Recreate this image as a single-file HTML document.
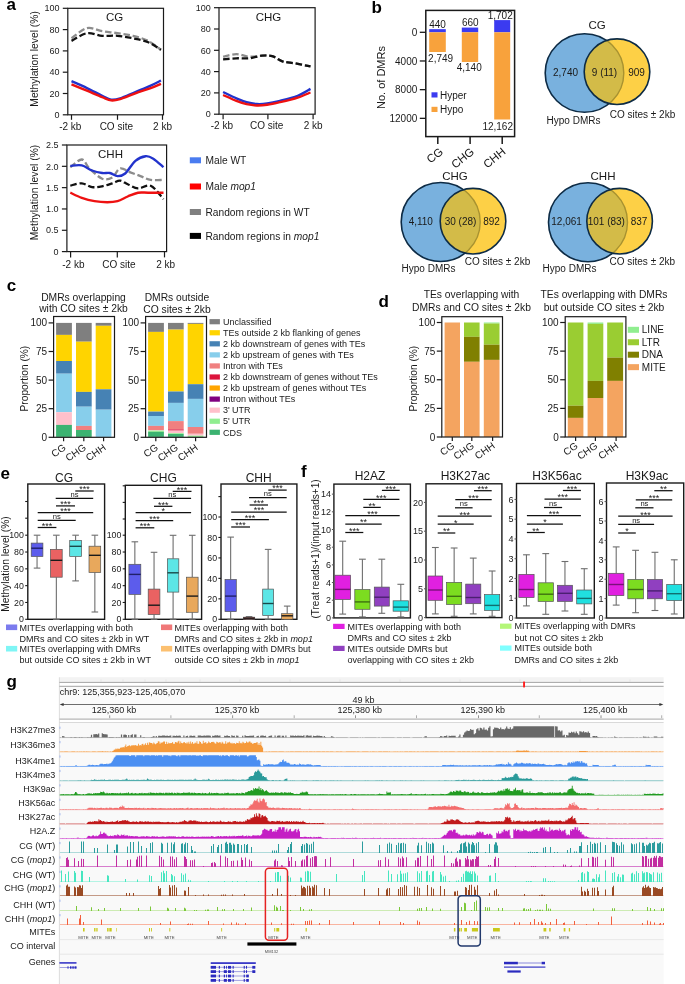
<!DOCTYPE html>
<html><head><meta charset="utf-8"><style>
html,body{margin:0;padding:0;background:#fff;}
body{width:685px;height:984px;overflow:hidden;}
svg{display:block;will-change:transform;font-family:"Liberation Sans",sans-serif;fill:#1a1a1a;}

</style></head><body>
<svg width="685" height="984" viewBox="0 0 685 984">
<rect x="0" y="0" width="685" height="984" fill="#fff"/>
<text x="6.5" y="9.7" font-size="17" font-weight="bold" fill="#000">a</text>
<rect x="67.8" y="8.3" width="95.7" height="106.5" fill="none" stroke="#1a1a1a" stroke-width="1.2"/>
<line x1="62.8" y1="114.8" x2="67.8" y2="114.8" stroke="#1a1a1a" stroke-width="1.2"/>
<text x="59.5" y="117.99" font-size="9" text-anchor="end">0</text>
<line x1="62.8" y1="93.5" x2="67.8" y2="93.5" stroke="#1a1a1a" stroke-width="1.2"/>
<text x="59.5" y="96.69" font-size="9" text-anchor="end">20</text>
<line x1="62.8" y1="72.2" x2="67.8" y2="72.2" stroke="#1a1a1a" stroke-width="1.2"/>
<text x="59.5" y="75.39" font-size="9" text-anchor="end">40</text>
<line x1="62.8" y1="50.9" x2="67.8" y2="50.9" stroke="#1a1a1a" stroke-width="1.2"/>
<text x="59.5" y="54.09" font-size="9" text-anchor="end">60</text>
<line x1="62.8" y1="29.6" x2="67.8" y2="29.6" stroke="#1a1a1a" stroke-width="1.2"/>
<text x="59.5" y="32.79" font-size="9" text-anchor="end">80</text>
<line x1="62.8" y1="8.3" x2="67.8" y2="8.3" stroke="#1a1a1a" stroke-width="1.2"/>
<text x="59.5" y="11.49" font-size="9" text-anchor="end">100</text>
<line x1="71.5" y1="114.8" x2="71.5" y2="119.8" stroke="#1a1a1a" stroke-width="1.2"/>
<line x1="117.5" y1="114.8" x2="117.5" y2="119.8" stroke="#1a1a1a" stroke-width="1.2"/>
<line x1="162.5" y1="114.8" x2="162.5" y2="119.8" stroke="#1a1a1a" stroke-width="1.2"/>
<text x="70.3" y="130.05" font-size="10" text-anchor="middle">-2 kb</text>
<text x="116.3" y="130.05" font-size="10" text-anchor="middle">CO site</text>
<text x="162.5" y="130.05" font-size="10" text-anchor="middle">2 kb</text>
<text x="114.5" y="20.58" font-size="11.5" text-anchor="middle">CG</text>
<path d="M71.5 38.3 C74.07 36.6 81.78 29.28 86.9 28.1 C92.02 26.92 97.1 30.35 102.2 31.2 C107.3 32.05 112.38 32.43 117.5 33.2 C122.62 33.97 127.78 34.52 132.9 35.8 C138.02 37.08 143.52 38.57 148.2 40.9 C152.88 43.23 158.87 48.32 161 49.8" fill="none" stroke="#8c8c8c" stroke-width="2.3" stroke-linecap="butt" stroke-linejoin="round" stroke-dasharray="6.5 2.8"/>
<path d="M71.5 40.9 C74.07 39.62 81.78 34.05 86.9 33.2 C92.02 32.35 97.1 35.37 102.2 35.8 C107.3 36.23 112.38 35.38 117.5 35.8 C122.62 36.22 127.78 37.23 132.9 38.3 C138.02 39.37 143.52 40.28 148.2 42.2 C152.88 44.12 158.87 48.53 161 49.8" fill="none" stroke="#111" stroke-width="2.3" stroke-linecap="butt" stroke-linejoin="round" stroke-dasharray="6.5 2.8"/>
<path d="M71.5 81.2 C74.07 82.35 81.78 85.67 86.9 88.1 C92.02 90.53 98.17 93.88 102.2 95.8 C106.23 97.72 108.12 99.17 111.1 99.6 C114.08 100.03 116.05 99.67 120.1 98.4 C124.15 97.13 130.3 94.13 135.4 92 C140.5 89.87 146.43 87.52 150.7 85.6 C154.97 83.68 159.28 81.35 161 80.5" fill="none" stroke="#2233cc" stroke-width="2.4" stroke-linecap="butt" stroke-linejoin="round"/>
<path d="M71.5 84.3 C74.07 85.37 81.78 88.57 86.9 90.7 C92.02 92.83 98.17 95.48 102.2 97.1 C106.23 98.72 108.12 100.07 111.1 100.4 C114.08 100.73 116.05 100.28 120.1 99.1 C124.15 97.92 130.3 95.13 135.4 93.3 C140.5 91.47 146.43 89.68 150.7 88.1 C154.97 86.52 159.28 84.52 161 83.8" fill="none" stroke="#ee1111" stroke-width="2.4" stroke-linecap="butt" stroke-linejoin="round"/>
<rect x="219" y="7.7" width="96.1" height="106.5" fill="none" stroke="#1a1a1a" stroke-width="1.2"/>
<line x1="214" y1="114.2" x2="219" y2="114.2" stroke="#1a1a1a" stroke-width="1.2"/>
<text x="210.7" y="117.39" font-size="9" text-anchor="end">0</text>
<line x1="214" y1="92.9" x2="219" y2="92.9" stroke="#1a1a1a" stroke-width="1.2"/>
<text x="210.7" y="96.09" font-size="9" text-anchor="end">20</text>
<line x1="214" y1="71.6" x2="219" y2="71.6" stroke="#1a1a1a" stroke-width="1.2"/>
<text x="210.7" y="74.79" font-size="9" text-anchor="end">40</text>
<line x1="214" y1="50.3" x2="219" y2="50.3" stroke="#1a1a1a" stroke-width="1.2"/>
<text x="210.7" y="53.5" font-size="9" text-anchor="end">60</text>
<line x1="214" y1="29" x2="219" y2="29" stroke="#1a1a1a" stroke-width="1.2"/>
<text x="210.7" y="32.2" font-size="9" text-anchor="end">80</text>
<line x1="214" y1="7.7" x2="219" y2="7.7" stroke="#1a1a1a" stroke-width="1.2"/>
<text x="210.7" y="10.9" font-size="9" text-anchor="end">100</text>
<line x1="223.1" y1="114.2" x2="223.1" y2="119.2" stroke="#1a1a1a" stroke-width="1.2"/>
<line x1="267.9" y1="114.2" x2="267.9" y2="119.2" stroke="#1a1a1a" stroke-width="1.2"/>
<line x1="313.1" y1="114.2" x2="313.1" y2="119.2" stroke="#1a1a1a" stroke-width="1.2"/>
<text x="221.9" y="129.45" font-size="10" text-anchor="middle">-2 kb</text>
<text x="266.7" y="129.45" font-size="10" text-anchor="middle">CO site</text>
<text x="313.1" y="129.45" font-size="10" text-anchor="middle">2 kb</text>
<text x="268.5" y="20.58" font-size="11.5" text-anchor="middle">CHG</text>
<path d="M223.1 56.7 C225.32 56.28 232.05 54.2 236.4 54.2 C240.75 54.2 244.93 56.45 249.2 56.7 C253.47 56.95 258.17 55.78 262 55.7 C265.83 55.62 268.8 55.27 272.2 56.2 C275.6 57.13 278.57 60.1 282.4 61.3 C286.23 62.5 290.52 62.55 295.2 63.4 C299.88 64.25 307.95 65.9 310.5 66.4" fill="none" stroke="#8c8c8c" stroke-width="2.3" stroke-linecap="butt" stroke-linejoin="round" stroke-dasharray="6.5 2.8"/>
<path d="M223.1 59.3 C225.32 59.13 232.05 58.47 236.4 58.3 C240.75 58.13 244.93 58.73 249.2 58.3 C253.47 57.87 258.17 56.05 262 55.7 C265.83 55.35 268.8 55.27 272.2 56.2 C275.6 57.13 278.57 60.1 282.4 61.3 C286.23 62.5 290.52 62.55 295.2 63.4 C299.88 64.25 307.95 65.9 310.5 66.4" fill="none" stroke="#111" stroke-width="2.3" stroke-linecap="butt" stroke-linejoin="round" stroke-dasharray="6.5 2.8"/>
<path d="M223.1 92 C225.32 93.07 232.48 96.7 236.4 98.4 C240.32 100.1 243.18 101.27 246.6 102.2 C250.02 103.13 253.48 103.78 256.9 104 C260.32 104.22 263.27 104.02 267.1 103.5 C270.93 102.98 274.8 102.18 279.9 100.9 C285 99.62 292.6 97.8 297.7 95.8 C302.8 93.8 308.37 90.05 310.5 88.9" fill="none" stroke="#2233cc" stroke-width="2.4" stroke-linecap="butt" stroke-linejoin="round"/>
<path d="M223.1 95 C225.32 95.98 232.48 99.37 236.4 100.9 C240.32 102.43 243.18 103.43 246.6 104.2 C250.02 104.97 253.48 105.4 256.9 105.5 C260.32 105.6 263.27 105.35 267.1 104.8 C270.93 104.25 274.8 103.4 279.9 102.2 C285 101 292.6 99.22 297.7 97.6 C302.8 95.98 308.37 93.35 310.5 92.5" fill="none" stroke="#ee1111" stroke-width="2.4" stroke-linecap="butt" stroke-linejoin="round"/>
<rect x="66.9" y="145" width="99.7" height="106.6" fill="none" stroke="#1a1a1a" stroke-width="1.2"/>
<line x1="61.9" y1="251.6" x2="66.9" y2="251.6" stroke="#1a1a1a" stroke-width="1.2"/>
<text x="58.6" y="254.79" font-size="9" text-anchor="end">0</text>
<line x1="61.9" y1="230.28" x2="66.9" y2="230.28" stroke="#1a1a1a" stroke-width="1.2"/>
<text x="58.6" y="233.47" font-size="9" text-anchor="end">0.5</text>
<line x1="61.9" y1="208.96" x2="66.9" y2="208.96" stroke="#1a1a1a" stroke-width="1.2"/>
<text x="58.6" y="212.15" font-size="9" text-anchor="end">1.0</text>
<line x1="61.9" y1="187.64" x2="66.9" y2="187.64" stroke="#1a1a1a" stroke-width="1.2"/>
<text x="58.6" y="190.83" font-size="9" text-anchor="end">1.5</text>
<line x1="61.9" y1="166.32" x2="66.9" y2="166.32" stroke="#1a1a1a" stroke-width="1.2"/>
<text x="58.6" y="169.51" font-size="9" text-anchor="end">2.0</text>
<line x1="61.9" y1="145" x2="66.9" y2="145" stroke="#1a1a1a" stroke-width="1.2"/>
<text x="58.6" y="148.19" font-size="9" text-anchor="end">2.5</text>
<line x1="70.6" y1="251.6" x2="70.6" y2="257.4" stroke="#1a1a1a" stroke-width="1.2"/>
<line x1="117.3" y1="251.6" x2="117.3" y2="257.4" stroke="#1a1a1a" stroke-width="1.2"/>
<line x1="164.5" y1="251.6" x2="164.5" y2="257.4" stroke="#1a1a1a" stroke-width="1.2"/>
<text x="73.4" y="268.35" font-size="10" text-anchor="middle">-2 kb</text>
<text x="119" y="268.35" font-size="10" text-anchor="middle">CO site</text>
<text x="165.6" y="268.35" font-size="10" text-anchor="middle">2 kb</text>
<text x="110.5" y="157.98" font-size="11.5" text-anchor="middle">CHH</text>
<path d="M70.3 167.2 C72.22 165.92 78.62 159.3 81.8 159.5 C84.98 159.7 86 165.2 89.4 168.4 C92.8 171.6 98.37 177.2 102.2 178.7 C106.03 180.2 109.42 179.12 112.4 177.4 C115.38 175.68 117.12 169.25 120.1 168.4 C123.08 167.55 126.9 171.02 130.3 172.3 C133.7 173.58 137.1 174.83 140.5 176.1 C143.9 177.37 146.87 179.27 150.7 179.9 C154.53 180.53 161.37 179.9 163.5 179.9" fill="none" stroke="#8c8c8c" stroke-width="2.3" stroke-linecap="butt" stroke-linejoin="round" stroke-dasharray="6.5 2.8"/>
<path d="M70.3 185.6 C72.22 185.22 78.18 183.05 81.8 183.3 C85.42 183.55 88.6 186.6 92 187.1 C95.4 187.6 98.8 186.93 102.2 186.3 C105.6 185.67 109.42 184.23 112.4 183.3 C115.38 182.37 117.55 180.53 120.1 180.7 C122.65 180.87 124.72 183.02 127.7 184.3 C130.68 185.58 134.17 188.15 138 188.4 C141.83 188.65 146.45 184.02 150.7 185.8 C154.95 187.58 161.37 196.88 163.5 199.1" fill="none" stroke="#111" stroke-width="2.3" stroke-linecap="butt" stroke-linejoin="round" stroke-dasharray="6.5 2.8"/>
<path d="M70.3 165.9 C72.22 165.82 78.18 164.63 81.8 165.4 C85.42 166.17 88.6 169.23 92 170.5 C95.4 171.77 99.22 172.58 102.2 173 C105.18 173.42 107.35 172.48 109.9 173 C112.45 173.52 114.95 176.02 117.5 176.1 C120.05 176.18 122.22 176.05 125.2 173.5 C128.18 170.95 132 163.68 135.4 160.8 C138.8 157.92 142.62 156.55 145.6 156.2 C148.58 155.85 150.32 156.87 153.3 158.7 C156.28 160.53 161.8 165.78 163.5 167.2" fill="none" stroke="#2233cc" stroke-width="2.4" stroke-linecap="butt" stroke-linejoin="round"/>
<path d="M70.3 192.7 C72.22 193.55 77.77 196.4 81.8 197.8 C85.83 199.2 90.25 200.37 94.5 201.1 C98.75 201.83 103.47 202.2 107.3 202.2 C111.13 202.2 114.1 202.05 117.5 201.1 C120.9 200.15 124.28 197.9 127.7 196.5 C131.12 195.1 134.58 193.33 138 192.7 C141.42 192.07 143.95 192.7 148.2 192.7 C152.45 192.7 160.95 192.7 163.5 192.7" fill="none" stroke="#ee1111" stroke-width="2.4" stroke-linecap="butt" stroke-linejoin="round"/>
<text x="0" y="0" font-size="10.3" text-anchor="middle" transform="translate(38 58.9) rotate(-90)">Methylation level (%)</text>
<text x="0" y="0" font-size="10.3" text-anchor="middle" transform="translate(38 192.5) rotate(-90)">Methylation level (%)</text>
<rect x="189.8" y="157.3" width="11.2" height="6" fill="#4a7cf0"/>
<text x="205.5" y="163.92" font-size="10.2">Male WT</text>
<rect x="189.8" y="183.5" width="11.2" height="6" fill="#ff0000"/>
<text x="205.5" y="190.12" font-size="10.2">Male <tspan font-style="italic">mop1</tspan></text>
<rect x="189.8" y="209" width="11.2" height="6" fill="#808080"/>
<text x="205.5" y="215.62" font-size="10.2">Random regions in WT</text>
<rect x="189.8" y="232.9" width="11.2" height="6" fill="#000000"/>
<text x="205.5" y="239.52" font-size="10.2">Random regions in <tspan font-style="italic">mop1</tspan></text>
<text x="371.6" y="12.5" font-size="17" font-weight="bold" fill="#000">b</text>
<rect x="425.8" y="10.4" width="88.8" height="126.2" fill="none" stroke="#1a1a1a" stroke-width="1.5"/>
<line x1="419.8" y1="32.3" x2="425.8" y2="32.3" stroke="#1a1a1a" stroke-width="1.3"/>
<text x="417.3" y="35.85" font-size="10" text-anchor="end">0</text>
<line x1="419.8" y1="60.98" x2="425.8" y2="60.98" stroke="#1a1a1a" stroke-width="1.3"/>
<text x="417.3" y="64.53" font-size="10" text-anchor="end">4000</text>
<line x1="419.8" y1="89.66" x2="425.8" y2="89.66" stroke="#1a1a1a" stroke-width="1.3"/>
<text x="417.3" y="93.21" font-size="10" text-anchor="end">8000</text>
<line x1="419.8" y1="118.34" x2="425.8" y2="118.34" stroke="#1a1a1a" stroke-width="1.3"/>
<text x="417.3" y="121.89" font-size="10" text-anchor="end">12000</text>
<rect x="429.2" y="29.15" width="16.6" height="3.15" fill="#3b3bf0"/>
<rect x="429.2" y="32.3" width="16.6" height="19.71" fill="#f8a23c"/>
<line x1="437.8" y1="136.6" x2="437.8" y2="144.1" stroke="#1a1a1a" stroke-width="1.5"/>
<rect x="461.8" y="27.57" width="16.4" height="4.73" fill="#3b3bf0"/>
<rect x="461.8" y="32.3" width="16.4" height="29.68" fill="#f8a23c"/>
<line x1="470.1" y1="136.6" x2="470.1" y2="144.1" stroke="#1a1a1a" stroke-width="1.5"/>
<rect x="494.2" y="20.1" width="16" height="12.2" fill="#3b3bf0"/>
<rect x="494.2" y="32.3" width="16" height="87.2" fill="#f8a23c"/>
<line x1="502.2" y1="136.6" x2="502.2" y2="144.1" stroke="#1a1a1a" stroke-width="1.5"/>
<rect x="0" y="0" width="0" height="0" fill="none"/>
<text x="437.6" y="28.15" font-size="10" text-anchor="middle">440</text>
<text x="470.3" y="25.75" font-size="10" text-anchor="middle">660</text>
<text x="500.2" y="19.45" font-size="10" text-anchor="middle">1,702</text>
<text x="440.6" y="61.85" font-size="10" text-anchor="middle">2,749</text>
<text x="469.2" y="71.05" font-size="10" text-anchor="middle">4,140</text>
<text x="497.7" y="129.55" font-size="10" text-anchor="middle">12,162</text>
<rect x="431.5" y="92.3" width="6" height="5.2" fill="#3b3bf0"/>
<text x="440" y="98.75" font-size="10">Hyper</text>
<rect x="431.5" y="106.8" width="6" height="5.2" fill="#f8a23c"/>
<text x="440" y="113.15" font-size="10">Hypo</text>
<text x="0" y="0" font-size="11" text-anchor="middle" transform="translate(385 77.5) rotate(-90)">No. of DMRs</text>
<text x="0" y="0" font-size="11.5" text-anchor="end" transform="translate(444 153) rotate(-39)">CG</text>
<text x="0" y="0" font-size="11.5" text-anchor="end" transform="translate(475 153) rotate(-39)">CHG</text>
<text x="0" y="0" font-size="11.5" text-anchor="end" transform="translate(506.5 153) rotate(-39)">CHH</text>
<defs><clipPath id="c117"><circle cx="584.5" cy="73" r="39.3"/></clipPath></defs>
<defs><clipPath id="c117y"><circle cx="617" cy="71.7" r="32.8"/></clipPath></defs>
<circle cx="584.5" cy="73" r="39.3" fill="#79b1de" stroke="#0d2b45" stroke-width="1.6"/>
<circle cx="617" cy="71.7" r="32.8" fill="#fdd046"/>
<circle cx="617" cy="71.7" r="32.8" fill="#d3bb48" clip-path="url(#c117)"/>
<circle cx="584.5" cy="73" r="39.3" fill="none" stroke="#a89230" stroke-width="1.4" clip-path="url(#c117y)"/>
<circle cx="617" cy="71.7" r="32.8" fill="none" stroke="#0d2b45" stroke-width="1.6"/>
<text x="597" y="28.88" font-size="11.5" text-anchor="middle">CG</text>
<text x="565.5" y="76.05" font-size="10" text-anchor="middle">2,740</text>
<text x="604.5" y="76.05" font-size="10" text-anchor="middle">9 (11)</text>
<text x="636.5" y="76.05" font-size="10" text-anchor="middle">909</text>
<text x="573.5" y="123.85" font-size="10" text-anchor="middle">Hypo DMRs</text>
<text x="642.5" y="117.85" font-size="10" text-anchor="middle">CO sites ± 2kb</text>
<defs><clipPath id="c130"><circle cx="440.7" cy="222" r="39.5"/></clipPath></defs>
<defs><clipPath id="c130y"><circle cx="473" cy="221.2" r="32.8"/></clipPath></defs>
<circle cx="440.7" cy="222" r="39.5" fill="#79b1de" stroke="#0d2b45" stroke-width="1.6"/>
<circle cx="473" cy="221.2" r="32.8" fill="#fdd046"/>
<circle cx="473" cy="221.2" r="32.8" fill="#d3bb48" clip-path="url(#c130)"/>
<circle cx="440.7" cy="222" r="39.5" fill="none" stroke="#a89230" stroke-width="1.4" clip-path="url(#c130y)"/>
<circle cx="473" cy="221.2" r="32.8" fill="none" stroke="#0d2b45" stroke-width="1.6"/>
<text x="455" y="179.68" font-size="11.5" text-anchor="middle">CHG</text>
<text x="420.8" y="225.05" font-size="10" text-anchor="middle">4,110</text>
<text x="460.5" y="225.05" font-size="10" text-anchor="middle">30 (28)</text>
<text x="491.5" y="225.05" font-size="10" text-anchor="middle">892</text>
<text x="428.5" y="272.15" font-size="10" text-anchor="middle">Hypo DMRs</text>
<text x="497.5" y="265.25" font-size="10" text-anchor="middle">CO sites ± 2kb</text>
<defs><clipPath id="c143"><circle cx="588" cy="222.2" r="39.5"/></clipPath></defs>
<defs><clipPath id="c143y"><circle cx="619.6" cy="221.2" r="32.8"/></clipPath></defs>
<circle cx="588" cy="222.2" r="39.5" fill="#79b1de" stroke="#0d2b45" stroke-width="1.6"/>
<circle cx="619.6" cy="221.2" r="32.8" fill="#fdd046"/>
<circle cx="619.6" cy="221.2" r="32.8" fill="#d3bb48" clip-path="url(#c143)"/>
<circle cx="588" cy="222.2" r="39.5" fill="none" stroke="#a89230" stroke-width="1.4" clip-path="url(#c143y)"/>
<circle cx="619.6" cy="221.2" r="32.8" fill="none" stroke="#0d2b45" stroke-width="1.6"/>
<text x="603" y="180.08" font-size="11.5" text-anchor="middle">CHH</text>
<text x="566.6" y="225.25" font-size="10" text-anchor="middle">12,061</text>
<text x="606.3" y="225.25" font-size="10" text-anchor="middle">101 (83)</text>
<text x="639" y="225.25" font-size="10" text-anchor="middle">837</text>
<text x="569.5" y="272.15" font-size="10" text-anchor="middle">Hypo DMRs</text>
<text x="642.3" y="265.25" font-size="10" text-anchor="middle">CO sites ± 2kb</text>
<text x="6.8" y="291.3" font-size="17" font-weight="bold" fill="#000">c</text>
<rect x="56.1" y="322.9" width="15.8" height="12" fill="#7f7f7f"/>
<rect x="56.1" y="334.9" width="15.8" height="26.1" fill="#ffd400"/>
<rect x="56.1" y="361" width="15.8" height="12.7" fill="#4682b4"/>
<rect x="56.1" y="373.7" width="15.8" height="38.5" fill="#87ceeb"/>
<rect x="56.1" y="412.2" width="15.8" height="12.7" fill="#ffc0cb"/>
<rect x="56.1" y="424.9" width="15.8" height="12" fill="#3cb371"/>
<rect x="76" y="322.9" width="15.7" height="18.8" fill="#7f7f7f"/>
<rect x="76" y="341.7" width="15.7" height="50.2" fill="#ffd400"/>
<rect x="76" y="391.9" width="15.7" height="14.8" fill="#4682b4"/>
<rect x="76" y="406.7" width="15.7" height="19.2" fill="#87ceeb"/>
<rect x="76" y="425.9" width="15.7" height="4.1" fill="#f08080"/>
<rect x="76" y="430" width="15.7" height="6.9" fill="#3cb371"/>
<rect x="95.7" y="322.9" width="15.7" height="2.9" fill="#7f7f7f"/>
<rect x="95.7" y="325.8" width="15.7" height="63.5" fill="#ffd400"/>
<rect x="95.7" y="389.3" width="15.7" height="20.4" fill="#4682b4"/>
<rect x="95.7" y="409.7" width="15.7" height="27.2" fill="#87ceeb"/>
<rect x="53.6" y="316.5" width="60.9" height="120.8" fill="none" stroke="#1a1a1a" stroke-width="1.2"/>
<line x1="48.6" y1="437.3" x2="53.6" y2="437.3" stroke="#1a1a1a" stroke-width="1.2"/>
<text x="47.1" y="440.85" font-size="10" text-anchor="end">0</text>
<line x1="48.6" y1="408.7" x2="53.6" y2="408.7" stroke="#1a1a1a" stroke-width="1.2"/>
<text x="47.1" y="412.25" font-size="10" text-anchor="end">25</text>
<line x1="48.6" y1="380.1" x2="53.6" y2="380.1" stroke="#1a1a1a" stroke-width="1.2"/>
<text x="47.1" y="383.65" font-size="10" text-anchor="end">50</text>
<line x1="48.6" y1="351.5" x2="53.6" y2="351.5" stroke="#1a1a1a" stroke-width="1.2"/>
<text x="47.1" y="355.05" font-size="10" text-anchor="end">75</text>
<line x1="48.6" y1="322.9" x2="53.6" y2="322.9" stroke="#1a1a1a" stroke-width="1.2"/>
<text x="47.1" y="326.45" font-size="10" text-anchor="end">100</text>
<line x1="63.6" y1="437.3" x2="63.6" y2="441.3" stroke="#1a1a1a" stroke-width="1.2"/>
<text x="0" y="0" font-size="10" text-anchor="end" transform="translate(66.6 449.1) rotate(-35)">CG</text>
<line x1="83.8" y1="437.3" x2="83.8" y2="441.3" stroke="#1a1a1a" stroke-width="1.2"/>
<text x="0" y="0" font-size="10" text-anchor="end" transform="translate(86.8 449.1) rotate(-35)">CHG</text>
<line x1="103.6" y1="437.3" x2="103.6" y2="441.3" stroke="#1a1a1a" stroke-width="1.2"/>
<text x="0" y="0" font-size="10" text-anchor="end" transform="translate(106.6 449.1) rotate(-35)">CHH</text>
<text x="83.5" y="301.06" font-size="10.3" text-anchor="middle">DMRs overlapping</text>
<text x="83.5" y="312.46" font-size="10.3" text-anchor="middle">with CO sites ± 2kb</text>
<text x="0" y="0" font-size="10.2" text-anchor="middle" transform="translate(28.3 378.6) rotate(-90)">Proportion (%)</text>
<rect x="148.1" y="322.9" width="15.8" height="9" fill="#7f7f7f"/>
<rect x="148.1" y="331.9" width="15.8" height="79.7" fill="#ffd400"/>
<rect x="148.1" y="411.6" width="15.8" height="4.4" fill="#4682b4"/>
<rect x="148.1" y="416" width="15.8" height="9.9" fill="#87ceeb"/>
<rect x="148.1" y="425.9" width="15.8" height="4.1" fill="#f08080"/>
<rect x="148.1" y="430" width="15.8" height="0.6" fill="#ffc0cb"/>
<rect x="148.1" y="430.6" width="15.8" height="1.3" fill="#90ee90"/>
<rect x="148.1" y="431.9" width="15.8" height="5" fill="#3cb371"/>
<rect x="168" y="322.9" width="15.7" height="6.7" fill="#7f7f7f"/>
<rect x="168" y="329.6" width="15.7" height="61.9" fill="#ffd400"/>
<rect x="168" y="391.5" width="15.7" height="11.4" fill="#4682b4"/>
<rect x="168" y="402.9" width="15.7" height="18.2" fill="#87ceeb"/>
<rect x="168" y="421.1" width="15.7" height="8.3" fill="#f08080"/>
<rect x="168" y="429.4" width="15.7" height="1.2" fill="#dc143c"/>
<rect x="168" y="430.6" width="15.7" height="2.6" fill="#ffc0cb"/>
<rect x="168" y="433.2" width="15.7" height="0.8" fill="#90ee90"/>
<rect x="168" y="434" width="15.7" height="2.9" fill="#3cb371"/>
<rect x="187.7" y="322.9" width="15.7" height="1" fill="#7f7f7f"/>
<rect x="187.7" y="323.9" width="15.7" height="60.3" fill="#ffd400"/>
<rect x="187.7" y="384.2" width="15.7" height="14.7" fill="#4682b4"/>
<rect x="187.7" y="398.9" width="15.7" height="28.1" fill="#87ceeb"/>
<rect x="187.7" y="427" width="15.7" height="6.8" fill="#f08080"/>
<rect x="187.7" y="433.8" width="15.7" height="1.9" fill="#ffc0cb"/>
<rect x="187.7" y="435.7" width="15.7" height="1.2" fill="#90ee90"/>
<rect x="145.6" y="316.5" width="60.9" height="120.8" fill="none" stroke="#1a1a1a" stroke-width="1.2"/>
<line x1="140.6" y1="437.3" x2="145.6" y2="437.3" stroke="#1a1a1a" stroke-width="1.2"/>
<text x="139.1" y="440.85" font-size="10" text-anchor="end">0</text>
<line x1="140.6" y1="408.7" x2="145.6" y2="408.7" stroke="#1a1a1a" stroke-width="1.2"/>
<text x="139.1" y="412.25" font-size="10" text-anchor="end">25</text>
<line x1="140.6" y1="380.1" x2="145.6" y2="380.1" stroke="#1a1a1a" stroke-width="1.2"/>
<text x="139.1" y="383.65" font-size="10" text-anchor="end">50</text>
<line x1="140.6" y1="351.5" x2="145.6" y2="351.5" stroke="#1a1a1a" stroke-width="1.2"/>
<text x="139.1" y="355.05" font-size="10" text-anchor="end">75</text>
<line x1="140.6" y1="322.9" x2="145.6" y2="322.9" stroke="#1a1a1a" stroke-width="1.2"/>
<text x="139.1" y="326.45" font-size="10" text-anchor="end">100</text>
<line x1="155.8" y1="437.3" x2="155.8" y2="441.3" stroke="#1a1a1a" stroke-width="1.2"/>
<text x="0" y="0" font-size="10" text-anchor="end" transform="translate(158.8 449.1) rotate(-35)">CG</text>
<line x1="175.9" y1="437.3" x2="175.9" y2="441.3" stroke="#1a1a1a" stroke-width="1.2"/>
<text x="0" y="0" font-size="10" text-anchor="end" transform="translate(178.9 449.1) rotate(-35)">CHG</text>
<line x1="195.6" y1="437.3" x2="195.6" y2="441.3" stroke="#1a1a1a" stroke-width="1.2"/>
<text x="0" y="0" font-size="10" text-anchor="end" transform="translate(198.6 449.1) rotate(-35)">CHH</text>
<text x="177" y="300.66" font-size="10.3" text-anchor="middle">DMRs outside</text>
<text x="177" y="312.86" font-size="10.3" text-anchor="middle">CO sites ± 2kb</text>
<rect x="209.5" y="319.1" width="10.4" height="5.2" fill="#7f7f7f"/>
<text x="222.9" y="324.89" font-size="9">Unclassified</text>
<rect x="209.5" y="330.16" width="10.4" height="5.2" fill="#ffd400"/>
<text x="222.9" y="335.95" font-size="9">TEs outside 2 kb flanking of genes</text>
<rect x="209.5" y="341.22" width="10.4" height="5.2" fill="#4682b4"/>
<text x="222.9" y="347.01" font-size="9">2 kb downstream of genes with TEs</text>
<rect x="209.5" y="352.28" width="10.4" height="5.2" fill="#87ceeb"/>
<text x="222.9" y="358.07" font-size="9">2 kb upstream of genes with TEs</text>
<rect x="209.5" y="363.34" width="10.4" height="5.2" fill="#f08080"/>
<text x="222.9" y="369.13" font-size="9">Intron with TEs</text>
<rect x="209.5" y="374.4" width="10.4" height="5.2" fill="#dc143c"/>
<text x="222.9" y="380.19" font-size="9">2 kb downstream of genes without TEs</text>
<rect x="209.5" y="385.46" width="10.4" height="5.2" fill="#ffa500"/>
<text x="222.9" y="391.25" font-size="9">2 kb upstream of genes without TEs</text>
<rect x="209.5" y="396.52" width="10.4" height="5.2" fill="#800080"/>
<text x="222.9" y="402.31" font-size="9">Intron without TEs</text>
<rect x="209.5" y="407.58" width="10.4" height="5.2" fill="#ffc0cb"/>
<text x="222.9" y="413.38" font-size="9">3' UTR</text>
<rect x="209.5" y="418.64" width="10.4" height="5.2" fill="#90ee90"/>
<text x="222.9" y="424.44" font-size="9">5' UTR</text>
<rect x="209.5" y="429.7" width="10.4" height="5.2" fill="#3cb371"/>
<text x="222.9" y="435.5" font-size="9">CDS</text>
<text x="378.6" y="306.6" font-size="17" font-weight="bold" fill="#000">d</text>
<rect x="444.6" y="322.5" width="15.4" height="114.4" fill="#f4a460"/>
<rect x="464" y="322.5" width="15.6" height="14.3" fill="#9acd32"/>
<rect x="464" y="336.8" width="15.6" height="25" fill="#808000"/>
<rect x="464" y="361.8" width="15.6" height="75.1" fill="#f4a460"/>
<rect x="483.8" y="322.5" width="15.7" height="1" fill="#90ee90"/>
<rect x="483.8" y="323.5" width="15.7" height="21.2" fill="#9acd32"/>
<rect x="483.8" y="344.7" width="15.7" height="15.2" fill="#808000"/>
<rect x="483.8" y="359.9" width="15.7" height="77" fill="#f4a460"/>
<rect x="441.8" y="316.7" width="60.7" height="120.3" fill="none" stroke="#1a1a1a" stroke-width="1.2"/>
<line x1="436.8" y1="437" x2="441.8" y2="437" stroke="#1a1a1a" stroke-width="1.2"/>
<text x="435.3" y="440.55" font-size="10" text-anchor="end">0</text>
<line x1="436.8" y1="408.38" x2="441.8" y2="408.38" stroke="#1a1a1a" stroke-width="1.2"/>
<text x="435.3" y="411.93" font-size="10" text-anchor="end">25</text>
<line x1="436.8" y1="379.75" x2="441.8" y2="379.75" stroke="#1a1a1a" stroke-width="1.2"/>
<text x="435.3" y="383.3" font-size="10" text-anchor="end">50</text>
<line x1="436.8" y1="351.12" x2="441.8" y2="351.12" stroke="#1a1a1a" stroke-width="1.2"/>
<text x="435.3" y="354.68" font-size="10" text-anchor="end">75</text>
<line x1="436.8" y1="322.5" x2="441.8" y2="322.5" stroke="#1a1a1a" stroke-width="1.2"/>
<text x="435.3" y="326.05" font-size="10" text-anchor="end">100</text>
<line x1="452.3" y1="437" x2="452.3" y2="441" stroke="#1a1a1a" stroke-width="1.2"/>
<text x="0" y="0" font-size="10" text-anchor="end" transform="translate(455.3 447.3) rotate(-35)">CG</text>
<line x1="471.8" y1="437" x2="471.8" y2="441" stroke="#1a1a1a" stroke-width="1.2"/>
<text x="0" y="0" font-size="10" text-anchor="end" transform="translate(474.8 447.3) rotate(-35)">CHG</text>
<line x1="492.6" y1="437" x2="492.6" y2="441" stroke="#1a1a1a" stroke-width="1.2"/>
<text x="0" y="0" font-size="10" text-anchor="end" transform="translate(495.6 447.3) rotate(-35)">CHH</text>
<text x="471.5" y="298.16" font-size="10.3" text-anchor="middle">TEs overlapping with</text>
<text x="471.5" y="311.26" font-size="10.3" text-anchor="middle">DMRs and CO sites ± 2kb</text>
<text x="0" y="0" font-size="10.2" text-anchor="middle" transform="translate(416.5 378.6) rotate(-90)">Proportion (%)</text>
<rect x="567.8" y="322.5" width="15.6" height="83.2" fill="#9acd32"/>
<rect x="567.8" y="405.7" width="15.6" height="12.2" fill="#808000"/>
<rect x="567.8" y="417.9" width="15.6" height="19" fill="#f4a460"/>
<rect x="587.6" y="322.5" width="15.7" height="1.4" fill="#90ee90"/>
<rect x="587.6" y="323.9" width="15.7" height="57" fill="#9acd32"/>
<rect x="587.6" y="380.9" width="15.7" height="17.1" fill="#808000"/>
<rect x="587.6" y="398" width="15.7" height="38.9" fill="#f4a460"/>
<rect x="607.2" y="322.5" width="15.9" height="35.1" fill="#9acd32"/>
<rect x="607.2" y="357.6" width="15.9" height="23.3" fill="#808000"/>
<rect x="607.2" y="380.9" width="15.9" height="56" fill="#f4a460"/>
<rect x="565.2" y="316.7" width="60.7" height="120.3" fill="none" stroke="#1a1a1a" stroke-width="1.2"/>
<line x1="560.2" y1="437" x2="565.2" y2="437" stroke="#1a1a1a" stroke-width="1.2"/>
<text x="558.7" y="440.55" font-size="10" text-anchor="end">0</text>
<line x1="560.2" y1="408.38" x2="565.2" y2="408.38" stroke="#1a1a1a" stroke-width="1.2"/>
<text x="558.7" y="411.93" font-size="10" text-anchor="end">25</text>
<line x1="560.2" y1="379.75" x2="565.2" y2="379.75" stroke="#1a1a1a" stroke-width="1.2"/>
<text x="558.7" y="383.3" font-size="10" text-anchor="end">50</text>
<line x1="560.2" y1="351.12" x2="565.2" y2="351.12" stroke="#1a1a1a" stroke-width="1.2"/>
<text x="558.7" y="354.68" font-size="10" text-anchor="end">75</text>
<line x1="560.2" y1="322.5" x2="565.2" y2="322.5" stroke="#1a1a1a" stroke-width="1.2"/>
<text x="558.7" y="326.05" font-size="10" text-anchor="end">100</text>
<line x1="575.6" y1="437" x2="575.6" y2="441" stroke="#1a1a1a" stroke-width="1.2"/>
<text x="0" y="0" font-size="10" text-anchor="end" transform="translate(578.6 447.3) rotate(-35)">CG</text>
<line x1="595.4" y1="437" x2="595.4" y2="441" stroke="#1a1a1a" stroke-width="1.2"/>
<text x="0" y="0" font-size="10" text-anchor="end" transform="translate(598.4 447.3) rotate(-35)">CHG</text>
<line x1="616.1" y1="437" x2="616.1" y2="441" stroke="#1a1a1a" stroke-width="1.2"/>
<text x="0" y="0" font-size="10" text-anchor="end" transform="translate(619.1 447.3) rotate(-35)">CHH</text>
<text x="604" y="298.16" font-size="10.3" text-anchor="middle">TEs overlapping with DMRs</text>
<text x="604" y="310.56" font-size="10.3" text-anchor="middle">but outside CO sites ± 2kb</text>
<rect x="627.8" y="326.8" width="11.2" height="6" fill="#90ee90"/>
<text x="641.8" y="333.35" font-size="10">LINE</text>
<rect x="627.8" y="339.25" width="11.2" height="6" fill="#9acd32"/>
<text x="641.8" y="345.8" font-size="10">LTR</text>
<rect x="627.8" y="351.7" width="11.2" height="6" fill="#808000"/>
<text x="641.8" y="358.25" font-size="10">DNA</text>
<rect x="627.8" y="364.15" width="11.2" height="6" fill="#f4a460"/>
<text x="641.8" y="370.7" font-size="10">MITE</text>
<text x="0.5" y="478.6" font-size="17" font-weight="bold" fill="#000">e</text>
<rect x="27.8" y="484" width="76.8" height="135.3" fill="none" stroke="#1a1a1a" stroke-width="1.4"/>
<line x1="25.2" y1="619.3" x2="27.8" y2="619.3" stroke="#1a1a1a" stroke-width="1.1"/>
<text x="23.9" y="622.42" font-size="8.8" text-anchor="end">0</text>
<line x1="25.2" y1="602.48" x2="27.8" y2="602.48" stroke="#1a1a1a" stroke-width="1.1"/>
<text x="23.9" y="605.6" font-size="8.8" text-anchor="end">20</text>
<line x1="25.2" y1="585.66" x2="27.8" y2="585.66" stroke="#1a1a1a" stroke-width="1.1"/>
<text x="23.9" y="588.78" font-size="8.8" text-anchor="end">40</text>
<line x1="25.2" y1="568.84" x2="27.8" y2="568.84" stroke="#1a1a1a" stroke-width="1.1"/>
<text x="23.9" y="571.96" font-size="8.8" text-anchor="end">60</text>
<line x1="25.2" y1="552.02" x2="27.8" y2="552.02" stroke="#1a1a1a" stroke-width="1.1"/>
<text x="23.9" y="555.14" font-size="8.8" text-anchor="end">80</text>
<line x1="25.2" y1="535.2" x2="27.8" y2="535.2" stroke="#1a1a1a" stroke-width="1.1"/>
<text x="23.9" y="538.32" font-size="8.8" text-anchor="end">100</text>
<line x1="25.2" y1="518.2" x2="27.8" y2="518.2" stroke="#1a1a1a" stroke-width="1.1"/>
<line x1="25.2" y1="501.5" x2="27.8" y2="501.5" stroke="#1a1a1a" stroke-width="1.1"/>
<text x="64" y="481.56" font-size="12" text-anchor="middle">CG</text>
<line x1="37.05" y1="535.2" x2="37.05" y2="543.1" stroke="#6e6e6e" stroke-width="1.1"/>
<line x1="37.05" y1="556.5" x2="37.05" y2="568.1" stroke="#6e6e6e" stroke-width="1.1"/>
<line x1="33.75" y1="535.2" x2="40.35" y2="535.2" stroke="#6e6e6e" stroke-width="1.1"/>
<line x1="33.75" y1="568.1" x2="40.35" y2="568.1" stroke="#6e6e6e" stroke-width="1.1"/>
<rect x="31.2" y="543.1" width="11.7" height="13.4" fill="#5c5cec" stroke="#555" stroke-width="0.7"/>
<line x1="31.2" y1="548.2" x2="42.9" y2="548.2" stroke="#20206a" stroke-width="1.4"/>
<line x1="56.35" y1="535.2" x2="56.35" y2="549.4" stroke="#6e6e6e" stroke-width="1.1"/>
<line x1="56.35" y1="577.2" x2="56.35" y2="619.3" stroke="#6e6e6e" stroke-width="1.1"/>
<line x1="53.05" y1="535.2" x2="59.65" y2="535.2" stroke="#6e6e6e" stroke-width="1.1"/>
<line x1="53.05" y1="619.3" x2="59.65" y2="619.3" stroke="#6e6e6e" stroke-width="1.1"/>
<rect x="50.5" y="549.4" width="11.7" height="27.8" fill="#ea6262" stroke="#555" stroke-width="0.7"/>
<line x1="50.5" y1="560.3" x2="62.2" y2="560.3" stroke="#1a1a1a" stroke-width="1.4"/>
<line x1="75.6" y1="535.2" x2="75.6" y2="540.4" stroke="#6e6e6e" stroke-width="1.1"/>
<line x1="75.6" y1="556.4" x2="75.6" y2="580.9" stroke="#6e6e6e" stroke-width="1.1"/>
<line x1="72.3" y1="535.2" x2="78.9" y2="535.2" stroke="#6e6e6e" stroke-width="1.1"/>
<line x1="72.3" y1="580.9" x2="78.9" y2="580.9" stroke="#6e6e6e" stroke-width="1.1"/>
<rect x="69.7" y="540.4" width="11.8" height="16" fill="#5ce6e6" stroke="#555" stroke-width="0.7"/>
<line x1="69.7" y1="546.3" x2="81.5" y2="546.3" stroke="#1a4a4a" stroke-width="1.4"/>
<line x1="94.85" y1="535.2" x2="94.85" y2="546.2" stroke="#6e6e6e" stroke-width="1.1"/>
<line x1="94.85" y1="572.5" x2="94.85" y2="612" stroke="#6e6e6e" stroke-width="1.1"/>
<line x1="91.55" y1="535.2" x2="98.15" y2="535.2" stroke="#6e6e6e" stroke-width="1.1"/>
<line x1="91.55" y1="612" x2="98.15" y2="612" stroke="#6e6e6e" stroke-width="1.1"/>
<rect x="89" y="546.2" width="11.7" height="26.3" fill="#e8a85c" stroke="#555" stroke-width="0.7"/>
<line x1="89" y1="555.3" x2="100.7" y2="555.3" stroke="#1a1a1a" stroke-width="1.4"/>
<line x1="37.7" y1="527.5" x2="56.4" y2="527.5" stroke="#111" stroke-width="1.25"/>
<text x="47.05" y="528.8" font-size="9" text-anchor="middle">***</text>
<line x1="37.7" y1="520.3" x2="75.7" y2="520.3" stroke="#111" stroke-width="1.25"/>
<text x="56.7" y="518.9" font-size="7.6" text-anchor="middle">ns</text>
<line x1="37.7" y1="512.6" x2="93.2" y2="512.6" stroke="#111" stroke-width="1.25"/>
<text x="65.45" y="513.9" font-size="9" text-anchor="middle">***</text>
<line x1="56" y1="505.9" x2="75" y2="505.9" stroke="#111" stroke-width="1.25"/>
<text x="65.5" y="507.2" font-size="9" text-anchor="middle">***</text>
<line x1="55.7" y1="498.4" x2="93.2" y2="498.4" stroke="#111" stroke-width="1.25"/>
<text x="74.45" y="497" font-size="7.6" text-anchor="middle">ns</text>
<line x1="75.3" y1="491" x2="93.7" y2="491" stroke="#111" stroke-width="1.25"/>
<text x="84.5" y="492.3" font-size="9" text-anchor="middle">***</text>
<rect x="125.3" y="485.3" width="76.3" height="134" fill="none" stroke="#1a1a1a" stroke-width="1.4"/>
<line x1="122.7" y1="619.3" x2="125.3" y2="619.3" stroke="#1a1a1a" stroke-width="1.1"/>
<text x="121.4" y="622.42" font-size="8.8" text-anchor="end">0</text>
<line x1="122.7" y1="602.48" x2="125.3" y2="602.48" stroke="#1a1a1a" stroke-width="1.1"/>
<text x="121.4" y="605.6" font-size="8.8" text-anchor="end">20</text>
<line x1="122.7" y1="585.66" x2="125.3" y2="585.66" stroke="#1a1a1a" stroke-width="1.1"/>
<text x="121.4" y="588.78" font-size="8.8" text-anchor="end">40</text>
<line x1="122.7" y1="568.84" x2="125.3" y2="568.84" stroke="#1a1a1a" stroke-width="1.1"/>
<text x="121.4" y="571.96" font-size="8.8" text-anchor="end">60</text>
<line x1="122.7" y1="552.02" x2="125.3" y2="552.02" stroke="#1a1a1a" stroke-width="1.1"/>
<text x="121.4" y="555.14" font-size="8.8" text-anchor="end">80</text>
<line x1="122.7" y1="535.2" x2="125.3" y2="535.2" stroke="#1a1a1a" stroke-width="1.1"/>
<text x="121.4" y="538.32" font-size="8.8" text-anchor="end">100</text>
<line x1="122.7" y1="519" x2="125.3" y2="519" stroke="#1a1a1a" stroke-width="1.1"/>
<line x1="122.7" y1="502.4" x2="125.3" y2="502.4" stroke="#1a1a1a" stroke-width="1.1"/>
<line x1="122.7" y1="485.8" x2="125.3" y2="485.8" stroke="#1a1a1a" stroke-width="1.1"/>
<text x="163.4" y="481.56" font-size="12" text-anchor="middle">CHG</text>
<line x1="134.85" y1="541.8" x2="134.85" y2="564.3" stroke="#6e6e6e" stroke-width="1.1"/>
<line x1="134.85" y1="594.4" x2="134.85" y2="619.3" stroke="#6e6e6e" stroke-width="1.1"/>
<line x1="131.55" y1="541.8" x2="138.15" y2="541.8" stroke="#6e6e6e" stroke-width="1.1"/>
<line x1="131.55" y1="619.3" x2="138.15" y2="619.3" stroke="#6e6e6e" stroke-width="1.1"/>
<rect x="128.9" y="564.3" width="11.9" height="30.1" fill="#5c5cec" stroke="#555" stroke-width="0.7"/>
<line x1="128.9" y1="574.4" x2="140.8" y2="574.4" stroke="#20206a" stroke-width="1.4"/>
<line x1="154.05" y1="552.3" x2="154.05" y2="589.1" stroke="#6e6e6e" stroke-width="1.1"/>
<line x1="154.05" y1="614.5" x2="154.05" y2="619.3" stroke="#6e6e6e" stroke-width="1.1"/>
<line x1="150.75" y1="552.3" x2="157.35" y2="552.3" stroke="#6e6e6e" stroke-width="1.1"/>
<line x1="150.75" y1="619.3" x2="157.35" y2="619.3" stroke="#6e6e6e" stroke-width="1.1"/>
<rect x="148.2" y="589.1" width="11.7" height="25.4" fill="#ea6262" stroke="#555" stroke-width="0.7"/>
<line x1="148.2" y1="605.2" x2="159.9" y2="605.2" stroke="#1a1a1a" stroke-width="1.4"/>
<line x1="173.1" y1="535.3" x2="173.1" y2="558.8" stroke="#6e6e6e" stroke-width="1.1"/>
<line x1="173.1" y1="592.1" x2="173.1" y2="619.3" stroke="#6e6e6e" stroke-width="1.1"/>
<line x1="169.8" y1="535.3" x2="176.4" y2="535.3" stroke="#6e6e6e" stroke-width="1.1"/>
<line x1="169.8" y1="619.3" x2="176.4" y2="619.3" stroke="#6e6e6e" stroke-width="1.1"/>
<rect x="167.4" y="558.8" width="11.4" height="33.3" fill="#5ce6e6" stroke="#555" stroke-width="0.7"/>
<line x1="167.4" y1="572.8" x2="178.8" y2="572.8" stroke="#1a4a4a" stroke-width="1.4"/>
<line x1="192.25" y1="535.3" x2="192.25" y2="577.2" stroke="#6e6e6e" stroke-width="1.1"/>
<line x1="192.25" y1="612.3" x2="192.25" y2="619.3" stroke="#6e6e6e" stroke-width="1.1"/>
<line x1="188.95" y1="535.3" x2="195.55" y2="535.3" stroke="#6e6e6e" stroke-width="1.1"/>
<line x1="188.95" y1="619.3" x2="195.55" y2="619.3" stroke="#6e6e6e" stroke-width="1.1"/>
<rect x="186.4" y="577.2" width="11.7" height="35.1" fill="#e8a85c" stroke="#555" stroke-width="0.7"/>
<line x1="186.4" y1="596.1" x2="198.1" y2="596.1" stroke="#1a1a1a" stroke-width="1.4"/>
<line x1="135.6" y1="527.8" x2="154.3" y2="527.8" stroke="#111" stroke-width="1.25"/>
<text x="144.95" y="529.1" font-size="9" text-anchor="middle">***</text>
<line x1="135.6" y1="520.5" x2="173.2" y2="520.5" stroke="#111" stroke-width="1.25"/>
<text x="154.4" y="521.8" font-size="9" text-anchor="middle">***</text>
<line x1="135.6" y1="512.7" x2="191.1" y2="512.7" stroke="#111" stroke-width="1.25"/>
<text x="163.35" y="514" font-size="9" text-anchor="middle">*</text>
<line x1="154" y1="506.3" x2="172.4" y2="506.3" stroke="#111" stroke-width="1.25"/>
<text x="163.2" y="507.6" font-size="9" text-anchor="middle">***</text>
<line x1="153.4" y1="498.4" x2="191.1" y2="498.4" stroke="#111" stroke-width="1.25"/>
<text x="172.25" y="497" font-size="7.6" text-anchor="middle">ns</text>
<line x1="172.7" y1="491.4" x2="191.5" y2="491.4" stroke="#111" stroke-width="1.25"/>
<text x="182.1" y="492.7" font-size="9" text-anchor="middle">***</text>
<rect x="221" y="484" width="75.9" height="135.3" fill="none" stroke="#1a1a1a" stroke-width="1.4"/>
<line x1="218.4" y1="619.3" x2="221" y2="619.3" stroke="#1a1a1a" stroke-width="1.1"/>
<text x="217.1" y="622.42" font-size="8.8" text-anchor="end">0</text>
<line x1="218.4" y1="598.84" x2="221" y2="598.84" stroke="#1a1a1a" stroke-width="1.1"/>
<text x="217.1" y="601.96" font-size="8.8" text-anchor="end">20</text>
<line x1="218.4" y1="578.38" x2="221" y2="578.38" stroke="#1a1a1a" stroke-width="1.1"/>
<text x="217.1" y="581.5" font-size="8.8" text-anchor="end">40</text>
<line x1="218.4" y1="557.92" x2="221" y2="557.92" stroke="#1a1a1a" stroke-width="1.1"/>
<text x="217.1" y="561.04" font-size="8.8" text-anchor="end">60</text>
<line x1="218.4" y1="537.46" x2="221" y2="537.46" stroke="#1a1a1a" stroke-width="1.1"/>
<text x="217.1" y="540.58" font-size="8.8" text-anchor="end">80</text>
<line x1="218.4" y1="517" x2="221" y2="517" stroke="#1a1a1a" stroke-width="1.1"/>
<text x="217.1" y="520.12" font-size="8.8" text-anchor="end">100</text>
<line x1="218.4" y1="496.6" x2="221" y2="496.6" stroke="#1a1a1a" stroke-width="1.1"/>
<text x="258.7" y="481.56" font-size="12" text-anchor="middle">CHH</text>
<line x1="230.65" y1="537.1" x2="230.65" y2="579.5" stroke="#6e6e6e" stroke-width="1.1"/>
<line x1="230.65" y1="611.6" x2="230.65" y2="619.3" stroke="#6e6e6e" stroke-width="1.1"/>
<line x1="227.35" y1="537.1" x2="233.95" y2="537.1" stroke="#6e6e6e" stroke-width="1.1"/>
<line x1="227.35" y1="619.3" x2="233.95" y2="619.3" stroke="#6e6e6e" stroke-width="1.1"/>
<rect x="225" y="579.5" width="11.3" height="32.1" fill="#5c5cec" stroke="#555" stroke-width="0.7"/>
<line x1="225" y1="596.1" x2="236.3" y2="596.1" stroke="#20206a" stroke-width="1.4"/>
<line x1="249.05" y1="616.6" x2="249.05" y2="617.2" stroke="#6e6e6e" stroke-width="1.1"/>
<line x1="249.05" y1="619.3" x2="249.05" y2="619.3" stroke="#6e6e6e" stroke-width="1.1"/>
<line x1="245.75" y1="616.6" x2="252.35" y2="616.6" stroke="#6e6e6e" stroke-width="1.1"/>
<line x1="245.75" y1="619.3" x2="252.35" y2="619.3" stroke="#6e6e6e" stroke-width="1.1"/>
<rect x="243.4" y="617.2" width="11.3" height="2.1" fill="#ea6262" stroke="#555" stroke-width="0.7"/>
<line x1="243.4" y1="618.2" x2="254.7" y2="618.2" stroke="#1a1a1a" stroke-width="1.4"/>
<line x1="268.15" y1="549.4" x2="268.15" y2="589.1" stroke="#6e6e6e" stroke-width="1.1"/>
<line x1="268.15" y1="615.4" x2="268.15" y2="619.3" stroke="#6e6e6e" stroke-width="1.1"/>
<line x1="264.85" y1="549.4" x2="271.45" y2="549.4" stroke="#6e6e6e" stroke-width="1.1"/>
<line x1="264.85" y1="619.3" x2="271.45" y2="619.3" stroke="#6e6e6e" stroke-width="1.1"/>
<rect x="262.7" y="589.1" width="10.9" height="26.3" fill="#5ce6e6" stroke="#555" stroke-width="0.7"/>
<line x1="262.7" y1="603.5" x2="273.6" y2="603.5" stroke="#1a4a4a" stroke-width="1.4"/>
<line x1="287.2" y1="606.1" x2="287.2" y2="613.7" stroke="#6e6e6e" stroke-width="1.1"/>
<line x1="287.2" y1="619.3" x2="287.2" y2="619.3" stroke="#6e6e6e" stroke-width="1.1"/>
<line x1="283.9" y1="606.1" x2="290.5" y2="606.1" stroke="#6e6e6e" stroke-width="1.1"/>
<line x1="283.9" y1="619.3" x2="290.5" y2="619.3" stroke="#6e6e6e" stroke-width="1.1"/>
<rect x="281.5" y="613.7" width="11.4" height="5.6" fill="#e8a85c" stroke="#555" stroke-width="0.7"/>
<line x1="281.5" y1="615.8" x2="292.9" y2="615.8" stroke="#1a1a1a" stroke-width="1.4"/>
<line x1="231.2" y1="527" x2="250" y2="527" stroke="#111" stroke-width="1.25"/>
<text x="240.6" y="528.3" font-size="9" text-anchor="middle">***</text>
<line x1="231.2" y1="519.6" x2="268.9" y2="519.6" stroke="#111" stroke-width="1.25"/>
<text x="250.05" y="520.9" font-size="9" text-anchor="middle">***</text>
<line x1="231.2" y1="512" x2="286.7" y2="512" stroke="#111" stroke-width="1.25"/>
<text x="258.95" y="513.3" font-size="9" text-anchor="middle">***</text>
<line x1="249.6" y1="505" x2="268" y2="505" stroke="#111" stroke-width="1.25"/>
<text x="258.8" y="506.3" font-size="9" text-anchor="middle">***</text>
<line x1="249" y1="497.5" x2="286.7" y2="497.5" stroke="#111" stroke-width="1.25"/>
<text x="267.85" y="496.1" font-size="7.6" text-anchor="middle">ns</text>
<line x1="268.3" y1="490.1" x2="286.7" y2="490.1" stroke="#111" stroke-width="1.25"/>
<text x="277.5" y="491.4" font-size="9" text-anchor="middle">***</text>
<text x="0" y="0" font-size="10.3" text-anchor="middle" transform="translate(8.6 564) rotate(-90)">Methylation level (%)</text>
<rect x="6" y="624.5" width="11.2" height="5.6" fill="#7b7bee"/>
<text x="19.4" y="630.5" font-size="9">MITEs overlapping with both</text>
<text x="19.4" y="641.5" font-size="9">DMRs and CO sites ± 2kb in WT</text>
<rect x="6" y="645.9" width="11.2" height="5.6" fill="#7ff5f5"/>
<text x="19.4" y="651.9" font-size="9">MITEs overlapping with DMRs</text>
<text x="19.4" y="662.9" font-size="9">but outside CO sites ± 2kb in WT</text>
<rect x="161" y="624.5" width="11.2" height="5.6" fill="#f07878"/>
<text x="174.4" y="630.5" font-size="9">MITEs overlapping with both</text>
<text x="174.4" y="641.5" font-size="9">DMRs and CO sites ± 2kb in <tspan font-style="italic">mop1</tspan></text>
<rect x="161" y="645.9" width="11.2" height="5.6" fill="#fcc070"/>
<text x="174.4" y="651.9" font-size="9">MITEs overlapping with DMRs but</text>
<text x="174.4" y="662.9" font-size="9">outside CO sites ± 2kb in <tspan font-style="italic">mop1</tspan></text>
<text x="301" y="477.3" font-size="17" font-weight="bold" fill="#000">f</text>
<rect x="333.9" y="484.1" width="76.5" height="133.8" fill="none" stroke="#1a1a1a" stroke-width="1.4"/>
<line x1="331.9" y1="617.9" x2="333.9" y2="617.9" stroke="#555" stroke-width="1"/>
<text x="331" y="621.1" font-size="9" text-anchor="end">0</text>
<line x1="331.9" y1="600.22" x2="333.9" y2="600.22" stroke="#555" stroke-width="1"/>
<text x="331" y="603.42" font-size="9" text-anchor="end">2</text>
<line x1="331.9" y1="582.54" x2="333.9" y2="582.54" stroke="#555" stroke-width="1"/>
<text x="331" y="585.74" font-size="9" text-anchor="end">4</text>
<line x1="331.9" y1="564.86" x2="333.9" y2="564.86" stroke="#555" stroke-width="1"/>
<text x="331" y="568.06" font-size="9" text-anchor="end">6</text>
<line x1="331.9" y1="547.18" x2="333.9" y2="547.18" stroke="#555" stroke-width="1"/>
<text x="331" y="550.38" font-size="9" text-anchor="end">8</text>
<line x1="331.9" y1="529.5" x2="333.9" y2="529.5" stroke="#555" stroke-width="1"/>
<text x="331" y="532.7" font-size="9" text-anchor="end">10</text>
<line x1="331.9" y1="511.82" x2="333.9" y2="511.82" stroke="#555" stroke-width="1"/>
<text x="331" y="515.01" font-size="9" text-anchor="end">12</text>
<line x1="331.9" y1="494.14" x2="333.9" y2="494.14" stroke="#555" stroke-width="1"/>
<text x="331" y="497.33" font-size="9" text-anchor="end">14</text>
<text x="370" y="480.26" font-size="12" text-anchor="middle">H2AZ</text>
<line x1="342.7" y1="541.2" x2="342.7" y2="575.2" stroke="#6e6e6e" stroke-width="1.1"/>
<line x1="342.7" y1="599.5" x2="342.7" y2="614.1" stroke="#6e6e6e" stroke-width="1.1"/>
<line x1="339.3" y1="541.2" x2="346.1" y2="541.2" stroke="#6e6e6e" stroke-width="1.1"/>
<line x1="339.3" y1="614.1" x2="346.1" y2="614.1" stroke="#6e6e6e" stroke-width="1.1"/>
<rect x="334.8" y="575.2" width="15.8" height="24.3" fill="#e020e0" stroke="#555" stroke-width="0.7"/>
<line x1="334.8" y1="589.4" x2="350.6" y2="589.4" stroke="#7a107a" stroke-width="1.4"/>
<line x1="362.4" y1="559.2" x2="362.4" y2="589.6" stroke="#6e6e6e" stroke-width="1.1"/>
<line x1="362.4" y1="609.3" x2="362.4" y2="616.9" stroke="#6e6e6e" stroke-width="1.1"/>
<line x1="359" y1="559.2" x2="365.8" y2="559.2" stroke="#6e6e6e" stroke-width="1.1"/>
<line x1="359" y1="616.9" x2="365.8" y2="616.9" stroke="#6e6e6e" stroke-width="1.1"/>
<rect x="354.8" y="589.6" width="15.2" height="19.7" fill="#7cdc20" stroke="#555" stroke-width="0.7"/>
<line x1="354.8" y1="601.9" x2="370" y2="601.9" stroke="#3e7010" stroke-width="1.4"/>
<line x1="381.8" y1="559.2" x2="381.8" y2="587.1" stroke="#6e6e6e" stroke-width="1.1"/>
<line x1="381.8" y1="606.1" x2="381.8" y2="613.3" stroke="#6e6e6e" stroke-width="1.1"/>
<line x1="378.4" y1="559.2" x2="385.2" y2="559.2" stroke="#6e6e6e" stroke-width="1.1"/>
<line x1="378.4" y1="613.3" x2="385.2" y2="613.3" stroke="#6e6e6e" stroke-width="1.1"/>
<rect x="374.3" y="587.1" width="15" height="19" fill="#9040c0" stroke="#555" stroke-width="0.7"/>
<line x1="374.3" y1="597.2" x2="389.3" y2="597.2" stroke="#4a2070" stroke-width="1.4"/>
<line x1="400.8" y1="584.3" x2="400.8" y2="600.8" stroke="#6e6e6e" stroke-width="1.1"/>
<line x1="400.8" y1="611.2" x2="400.8" y2="616.9" stroke="#6e6e6e" stroke-width="1.1"/>
<line x1="397.4" y1="584.3" x2="404.2" y2="584.3" stroke="#6e6e6e" stroke-width="1.1"/>
<line x1="397.4" y1="616.9" x2="404.2" y2="616.9" stroke="#6e6e6e" stroke-width="1.1"/>
<rect x="393.1" y="600.8" width="15.4" height="10.4" fill="#20e0e0" stroke="#555" stroke-width="0.7"/>
<line x1="393.1" y1="607.1" x2="408.5" y2="607.1" stroke="#107070" stroke-width="1.4"/>
<line x1="345.3" y1="532.5" x2="363.3" y2="532.5" stroke="#111" stroke-width="1.25"/>
<text x="354.3" y="533.8" font-size="9" text-anchor="middle">***</text>
<line x1="345.3" y1="524" x2="381.7" y2="524" stroke="#111" stroke-width="1.25"/>
<text x="363.5" y="525.3" font-size="9" text-anchor="middle">**</text>
<line x1="345.3" y1="515.6" x2="399.7" y2="515.6" stroke="#111" stroke-width="1.25"/>
<text x="372.5" y="516.9" font-size="9" text-anchor="middle">***</text>
<line x1="363.3" y1="507.4" x2="380.8" y2="507.4" stroke="#111" stroke-width="1.25"/>
<text x="372.05" y="508.7" font-size="9" text-anchor="middle">**</text>
<line x1="363.3" y1="499.3" x2="399.4" y2="499.3" stroke="#111" stroke-width="1.25"/>
<text x="381.35" y="500.6" font-size="9" text-anchor="middle">***</text>
<line x1="381.9" y1="490.4" x2="399.7" y2="490.4" stroke="#111" stroke-width="1.25"/>
<text x="390.8" y="491.7" font-size="9" text-anchor="middle">***</text>
<rect x="426" y="483.8" width="75.9" height="133.8" fill="none" stroke="#1a1a1a" stroke-width="1.4"/>
<line x1="424" y1="617.6" x2="426" y2="617.6" stroke="#555" stroke-width="1"/>
<text x="423.1" y="620.8" font-size="9" text-anchor="end">0</text>
<line x1="424" y1="588.8" x2="426" y2="588.8" stroke="#555" stroke-width="1"/>
<text x="423.1" y="592" font-size="9" text-anchor="end">5</text>
<line x1="424" y1="560" x2="426" y2="560" stroke="#555" stroke-width="1"/>
<text x="423.1" y="563.2" font-size="9" text-anchor="end">10</text>
<line x1="424" y1="531.2" x2="426" y2="531.2" stroke="#555" stroke-width="1"/>
<text x="423.1" y="534.4" font-size="9" text-anchor="end">15</text>
<line x1="424" y1="502.4" x2="426" y2="502.4" stroke="#555" stroke-width="1"/>
<text x="423.1" y="505.6" font-size="9" text-anchor="end">20</text>
<text x="465.4" y="480.26" font-size="12" text-anchor="middle">H3K27ac</text>
<line x1="435.35" y1="547.5" x2="435.35" y2="576" stroke="#6e6e6e" stroke-width="1.1"/>
<line x1="435.35" y1="600.3" x2="435.35" y2="613.9" stroke="#6e6e6e" stroke-width="1.1"/>
<line x1="431.95" y1="547.5" x2="438.75" y2="547.5" stroke="#6e6e6e" stroke-width="1.1"/>
<line x1="431.95" y1="613.9" x2="438.75" y2="613.9" stroke="#6e6e6e" stroke-width="1.1"/>
<rect x="428" y="576" width="14.7" height="24.3" fill="#e020e0" stroke="#555" stroke-width="0.7"/>
<line x1="428" y1="590" x2="442.7" y2="590" stroke="#7a107a" stroke-width="1.4"/>
<line x1="454.15" y1="548" x2="454.15" y2="582.4" stroke="#6e6e6e" stroke-width="1.1"/>
<line x1="454.15" y1="604.5" x2="454.15" y2="616.3" stroke="#6e6e6e" stroke-width="1.1"/>
<line x1="450.75" y1="548" x2="457.55" y2="548" stroke="#6e6e6e" stroke-width="1.1"/>
<line x1="450.75" y1="616.3" x2="457.55" y2="616.3" stroke="#6e6e6e" stroke-width="1.1"/>
<rect x="446.6" y="582.4" width="15.1" height="22.1" fill="#7cdc20" stroke="#555" stroke-width="0.7"/>
<line x1="446.6" y1="596.3" x2="461.7" y2="596.3" stroke="#3e7010" stroke-width="1.4"/>
<line x1="473.25" y1="558.1" x2="473.25" y2="584.1" stroke="#6e6e6e" stroke-width="1.1"/>
<line x1="473.25" y1="603.7" x2="473.25" y2="613.9" stroke="#6e6e6e" stroke-width="1.1"/>
<line x1="469.85" y1="558.1" x2="476.65" y2="558.1" stroke="#6e6e6e" stroke-width="1.1"/>
<line x1="469.85" y1="613.9" x2="476.65" y2="613.9" stroke="#6e6e6e" stroke-width="1.1"/>
<rect x="465.7" y="584.1" width="15.1" height="19.6" fill="#9040c0" stroke="#555" stroke-width="0.7"/>
<line x1="465.7" y1="597.5" x2="480.8" y2="597.5" stroke="#4a2070" stroke-width="1.4"/>
<line x1="492.15" y1="571" x2="492.15" y2="594.6" stroke="#6e6e6e" stroke-width="1.1"/>
<line x1="492.15" y1="610.4" x2="492.15" y2="616.3" stroke="#6e6e6e" stroke-width="1.1"/>
<line x1="488.75" y1="571" x2="495.55" y2="571" stroke="#6e6e6e" stroke-width="1.1"/>
<line x1="488.75" y1="616.3" x2="495.55" y2="616.3" stroke="#6e6e6e" stroke-width="1.1"/>
<rect x="484.6" y="594.6" width="15.1" height="15.8" fill="#20e0e0" stroke="#555" stroke-width="0.7"/>
<line x1="484.6" y1="605.4" x2="499.7" y2="605.4" stroke="#107070" stroke-width="1.4"/>
<line x1="437.7" y1="533" x2="455.3" y2="533" stroke="#111" stroke-width="1.25"/>
<text x="446.5" y="534.3" font-size="9" text-anchor="middle">**</text>
<line x1="437.7" y1="524.2" x2="473.7" y2="524.2" stroke="#111" stroke-width="1.25"/>
<text x="455.7" y="525.5" font-size="9" text-anchor="middle">*</text>
<line x1="437.7" y1="516.2" x2="491.7" y2="516.2" stroke="#111" stroke-width="1.25"/>
<text x="464.7" y="517.5" font-size="9" text-anchor="middle">***</text>
<line x1="455" y1="507.8" x2="472.6" y2="507.8" stroke="#111" stroke-width="1.25"/>
<text x="463.8" y="506.4" font-size="7.6" text-anchor="middle">ns</text>
<line x1="455.3" y1="499.7" x2="491.7" y2="499.7" stroke="#111" stroke-width="1.25"/>
<text x="473.5" y="501" font-size="9" text-anchor="middle">***</text>
<line x1="474" y1="490.7" x2="491.7" y2="490.7" stroke="#111" stroke-width="1.25"/>
<text x="482.85" y="492" font-size="9" text-anchor="middle">***</text>
<rect x="516.5" y="483.5" width="77.8" height="134.5" fill="none" stroke="#1a1a1a" stroke-width="1.4"/>
<line x1="514.5" y1="618" x2="516.5" y2="618" stroke="#555" stroke-width="1"/>
<text x="513.6" y="621.2" font-size="9" text-anchor="end">0</text>
<line x1="514.5" y1="598.24" x2="516.5" y2="598.24" stroke="#555" stroke-width="1"/>
<text x="513.6" y="601.44" font-size="9" text-anchor="end">1</text>
<line x1="514.5" y1="578.48" x2="516.5" y2="578.48" stroke="#555" stroke-width="1"/>
<text x="513.6" y="581.68" font-size="9" text-anchor="end">2</text>
<line x1="514.5" y1="558.72" x2="516.5" y2="558.72" stroke="#555" stroke-width="1"/>
<text x="513.6" y="561.92" font-size="9" text-anchor="end">3</text>
<line x1="514.5" y1="538.96" x2="516.5" y2="538.96" stroke="#555" stroke-width="1"/>
<text x="513.6" y="542.16" font-size="9" text-anchor="end">4</text>
<line x1="514.5" y1="519.2" x2="516.5" y2="519.2" stroke="#555" stroke-width="1"/>
<text x="513.6" y="522.4" font-size="9" text-anchor="end">5</text>
<line x1="514.5" y1="499.44" x2="516.5" y2="499.44" stroke="#555" stroke-width="1"/>
<text x="513.6" y="502.63" font-size="9" text-anchor="end">6</text>
<text x="557" y="480.26" font-size="12" text-anchor="middle">H3K56ac</text>
<line x1="526.45" y1="554.8" x2="526.45" y2="574.4" stroke="#6e6e6e" stroke-width="1.1"/>
<line x1="526.45" y1="597.5" x2="526.45" y2="605.9" stroke="#6e6e6e" stroke-width="1.1"/>
<line x1="523.05" y1="554.8" x2="529.85" y2="554.8" stroke="#6e6e6e" stroke-width="1.1"/>
<line x1="523.05" y1="605.9" x2="529.85" y2="605.9" stroke="#6e6e6e" stroke-width="1.1"/>
<rect x="518.8" y="574.4" width="15.3" height="23.1" fill="#e020e0" stroke="#555" stroke-width="0.7"/>
<line x1="518.8" y1="589.5" x2="534.1" y2="589.5" stroke="#7a107a" stroke-width="1.4"/>
<line x1="545.75" y1="553.6" x2="545.75" y2="582.8" stroke="#6e6e6e" stroke-width="1.1"/>
<line x1="545.75" y1="601.4" x2="545.75" y2="614.3" stroke="#6e6e6e" stroke-width="1.1"/>
<line x1="542.35" y1="553.6" x2="549.15" y2="553.6" stroke="#6e6e6e" stroke-width="1.1"/>
<line x1="542.35" y1="614.3" x2="549.15" y2="614.3" stroke="#6e6e6e" stroke-width="1.1"/>
<rect x="538.1" y="582.8" width="15.3" height="18.6" fill="#7cdc20" stroke="#555" stroke-width="0.7"/>
<line x1="538.1" y1="594.2" x2="553.4" y2="594.2" stroke="#3e7010" stroke-width="1.4"/>
<line x1="564.95" y1="561.5" x2="564.95" y2="585.3" stroke="#6e6e6e" stroke-width="1.1"/>
<line x1="564.95" y1="601.4" x2="564.95" y2="611" stroke="#6e6e6e" stroke-width="1.1"/>
<line x1="561.55" y1="561.5" x2="568.35" y2="561.5" stroke="#6e6e6e" stroke-width="1.1"/>
<line x1="561.55" y1="611" x2="568.35" y2="611" stroke="#6e6e6e" stroke-width="1.1"/>
<rect x="557.4" y="585.3" width="15.1" height="16.1" fill="#9040c0" stroke="#555" stroke-width="0.7"/>
<line x1="557.4" y1="593.3" x2="572.5" y2="593.3" stroke="#4a2070" stroke-width="1.4"/>
<line x1="584.25" y1="568.7" x2="584.25" y2="590" stroke="#6e6e6e" stroke-width="1.1"/>
<line x1="584.25" y1="603.9" x2="584.25" y2="614.3" stroke="#6e6e6e" stroke-width="1.1"/>
<line x1="580.85" y1="568.7" x2="587.65" y2="568.7" stroke="#6e6e6e" stroke-width="1.1"/>
<line x1="580.85" y1="614.3" x2="587.65" y2="614.3" stroke="#6e6e6e" stroke-width="1.1"/>
<rect x="576.7" y="590" width="15.1" height="13.9" fill="#20e0e0" stroke="#555" stroke-width="0.7"/>
<line x1="576.7" y1="598.4" x2="591.8" y2="598.4" stroke="#107070" stroke-width="1.4"/>
<line x1="526.9" y1="532.5" x2="544.8" y2="532.5" stroke="#111" stroke-width="1.25"/>
<text x="535.85" y="533.8" font-size="9" text-anchor="middle">**</text>
<line x1="526.9" y1="524.1" x2="562.9" y2="524.1" stroke="#111" stroke-width="1.25"/>
<text x="544.9" y="525.4" font-size="9" text-anchor="middle">*</text>
<line x1="526.9" y1="515.7" x2="580.9" y2="515.7" stroke="#111" stroke-width="1.25"/>
<text x="553.9" y="517" font-size="9" text-anchor="middle">***</text>
<line x1="544" y1="507.5" x2="562.1" y2="507.5" stroke="#111" stroke-width="1.25"/>
<text x="553.05" y="506.1" font-size="7.6" text-anchor="middle">ns</text>
<line x1="544.5" y1="499.1" x2="580.9" y2="499.1" stroke="#111" stroke-width="1.25"/>
<text x="562.7" y="500.4" font-size="9" text-anchor="middle">***</text>
<line x1="562.9" y1="490.5" x2="580.9" y2="490.5" stroke="#111" stroke-width="1.25"/>
<text x="571.9" y="491.8" font-size="9" text-anchor="middle">***</text>
<rect x="606.5" y="483" width="77.2" height="135" fill="none" stroke="#1a1a1a" stroke-width="1.4"/>
<line x1="604.5" y1="618" x2="606.5" y2="618" stroke="#555" stroke-width="1"/>
<text x="603.6" y="621.2" font-size="9" text-anchor="end">0</text>
<line x1="604.5" y1="598.6" x2="606.5" y2="598.6" stroke="#555" stroke-width="1"/>
<text x="603.6" y="601.8" font-size="9" text-anchor="end">1</text>
<line x1="604.5" y1="579.2" x2="606.5" y2="579.2" stroke="#555" stroke-width="1"/>
<text x="603.6" y="582.4" font-size="9" text-anchor="end">2</text>
<line x1="604.5" y1="559.8" x2="606.5" y2="559.8" stroke="#555" stroke-width="1"/>
<text x="603.6" y="563" font-size="9" text-anchor="end">3</text>
<line x1="604.5" y1="540.4" x2="606.5" y2="540.4" stroke="#555" stroke-width="1"/>
<text x="603.6" y="543.6" font-size="9" text-anchor="end">4</text>
<line x1="604.5" y1="521" x2="606.5" y2="521" stroke="#555" stroke-width="1"/>
<text x="603.6" y="524.2" font-size="9" text-anchor="end">5</text>
<line x1="604.5" y1="501.6" x2="606.5" y2="501.6" stroke="#555" stroke-width="1"/>
<text x="603.6" y="504.8" font-size="9" text-anchor="end">6</text>
<text x="647" y="480.26" font-size="12" text-anchor="middle">H3K9ac</text>
<line x1="616.2" y1="546.9" x2="616.2" y2="573.3" stroke="#6e6e6e" stroke-width="1.1"/>
<line x1="616.2" y1="595.6" x2="616.2" y2="605.1" stroke="#6e6e6e" stroke-width="1.1"/>
<line x1="612.8" y1="546.9" x2="619.6" y2="546.9" stroke="#6e6e6e" stroke-width="1.1"/>
<line x1="612.8" y1="605.1" x2="619.6" y2="605.1" stroke="#6e6e6e" stroke-width="1.1"/>
<rect x="608.5" y="573.3" width="15.4" height="22.3" fill="#e020e0" stroke="#555" stroke-width="0.7"/>
<line x1="608.5" y1="584.5" x2="623.9" y2="584.5" stroke="#7a107a" stroke-width="1.4"/>
<line x1="635.6" y1="550.3" x2="635.6" y2="579.5" stroke="#6e6e6e" stroke-width="1.1"/>
<line x1="635.6" y1="598.8" x2="635.6" y2="612.7" stroke="#6e6e6e" stroke-width="1.1"/>
<line x1="632.2" y1="550.3" x2="639" y2="550.3" stroke="#6e6e6e" stroke-width="1.1"/>
<line x1="632.2" y1="612.7" x2="639" y2="612.7" stroke="#6e6e6e" stroke-width="1.1"/>
<rect x="627.8" y="579.5" width="15.6" height="19.3" fill="#7cdc20" stroke="#555" stroke-width="0.7"/>
<line x1="627.8" y1="589.5" x2="643.4" y2="589.5" stroke="#3e7010" stroke-width="1.4"/>
<line x1="654.95" y1="552.3" x2="654.95" y2="579.5" stroke="#6e6e6e" stroke-width="1.1"/>
<line x1="654.95" y1="598.8" x2="654.95" y2="610.5" stroke="#6e6e6e" stroke-width="1.1"/>
<line x1="651.55" y1="552.3" x2="658.35" y2="552.3" stroke="#6e6e6e" stroke-width="1.1"/>
<line x1="651.55" y1="610.5" x2="658.35" y2="610.5" stroke="#6e6e6e" stroke-width="1.1"/>
<rect x="647.4" y="579.5" width="15.1" height="19.3" fill="#9040c0" stroke="#555" stroke-width="0.7"/>
<line x1="647.4" y1="590.9" x2="662.5" y2="590.9" stroke="#4a2070" stroke-width="1.4"/>
<line x1="674.25" y1="559.8" x2="674.25" y2="584.5" stroke="#6e6e6e" stroke-width="1.1"/>
<line x1="674.25" y1="600.6" x2="674.25" y2="614" stroke="#6e6e6e" stroke-width="1.1"/>
<line x1="670.85" y1="559.8" x2="677.65" y2="559.8" stroke="#6e6e6e" stroke-width="1.1"/>
<line x1="670.85" y1="614" x2="677.65" y2="614" stroke="#6e6e6e" stroke-width="1.1"/>
<rect x="666.7" y="584.5" width="15.1" height="16.1" fill="#20e0e0" stroke="#555" stroke-width="0.7"/>
<line x1="666.7" y1="593.7" x2="681.8" y2="593.7" stroke="#107070" stroke-width="1.4"/>
<line x1="618.2" y1="533" x2="635.8" y2="533" stroke="#111" stroke-width="1.25"/>
<text x="627" y="534.3" font-size="9" text-anchor="middle">*</text>
<line x1="618.2" y1="524.3" x2="654.1" y2="524.3" stroke="#111" stroke-width="1.25"/>
<text x="636.15" y="522.9" font-size="7.6" text-anchor="middle">ns</text>
<line x1="618.2" y1="516.2" x2="672.6" y2="516.2" stroke="#111" stroke-width="1.25"/>
<text x="645.4" y="517.5" font-size="9" text-anchor="middle">***</text>
<line x1="635.3" y1="507.8" x2="653.5" y2="507.8" stroke="#111" stroke-width="1.25"/>
<text x="644.4" y="506.4" font-size="7.6" text-anchor="middle">ns</text>
<line x1="635.8" y1="499.8" x2="672.2" y2="499.8" stroke="#111" stroke-width="1.25"/>
<text x="654" y="501.1" font-size="9" text-anchor="middle">***</text>
<line x1="654.3" y1="490.7" x2="672.6" y2="490.7" stroke="#111" stroke-width="1.25"/>
<text x="663.45" y="492" font-size="9" text-anchor="middle">**</text>
<text x="0" y="0" font-size="10" text-anchor="middle" transform="translate(319.4 549) rotate(-90)">(Treat reads+1)/(input reads+1)</text>
<rect x="333.1" y="623.8" width="11.5" height="5.2" fill="#e020e0"/>
<text x="347.5" y="629.6" font-size="9">MITEs overlapping with both</text>
<text x="347.5" y="640.8" font-size="9">DMRs and CO sites ± 2kb</text>
<rect x="333.1" y="645.8" width="11.5" height="5.2" fill="#9040c0"/>
<text x="347.5" y="651.6" font-size="9">MITEs outside DMRs but</text>
<text x="347.5" y="662.8" font-size="9">overlapping with CO sites ± 2kb</text>
<rect x="500" y="623.6" width="11.5" height="5.2" fill="#b4f678"/>
<text x="514.4" y="629.4" font-size="9">MITEs overlapping with DMRs</text>
<text x="514.4" y="640.6" font-size="9">but not CO sites ± 2kb</text>
<rect x="500" y="645.5" width="11.5" height="5.2" fill="#80ffff"/>
<text x="514.4" y="651.3" font-size="9">MITEs outside both</text>
<text x="514.4" y="662.5" font-size="9">DMRs and CO sites ± 2kb</text>
<text x="6.6" y="687.4" font-size="17" font-weight="bold" fill="#000">g</text>
<rect x="59.4" y="677.3" width="604.2" height="306.7" fill="#f9f9f9"/>
<rect x="59.4" y="677.3" width="604.2" height="4.7" fill="#f3f3f3"/>
<rect x="59.4" y="682.5" width="604.2" height="3.8" fill="#ffffff"/>
<rect x="59.4" y="686.3" width="604.2" height="32.7" fill="#fbfbfb"/>
<rect x="59.4" y="719.6" width="604.2" height="2.8" fill="#ffffff"/>
<line x1="59.4" y1="677.3" x2="59.4" y2="984" stroke="#d4d4d4" stroke-width="0.8"/>
<line x1="59.4" y1="682.4" x2="663.6" y2="682.4" stroke="#9a9a9a" stroke-width="0.9"/>
<line x1="59.4" y1="686.3" x2="663.6" y2="686.3" stroke="#9a9a9a" stroke-width="0.9"/>
<line x1="101" y1="679.5" x2="101" y2="682" stroke="#dddddd" stroke-width="0.6"/>
<line x1="123" y1="679.5" x2="123" y2="682" stroke="#dddddd" stroke-width="0.6"/>
<line x1="145" y1="679.5" x2="145" y2="682" stroke="#dddddd" stroke-width="0.6"/>
<line x1="166" y1="679.5" x2="166" y2="682" stroke="#dddddd" stroke-width="0.6"/>
<line x1="200" y1="679.5" x2="200" y2="682" stroke="#dddddd" stroke-width="0.6"/>
<line x1="240" y1="679.5" x2="240" y2="682" stroke="#dddddd" stroke-width="0.6"/>
<line x1="290" y1="679.5" x2="290" y2="682" stroke="#dddddd" stroke-width="0.6"/>
<line x1="340" y1="679.5" x2="340" y2="682" stroke="#dddddd" stroke-width="0.6"/>
<line x1="400" y1="679.5" x2="400" y2="682" stroke="#dddddd" stroke-width="0.6"/>
<line x1="460" y1="679.5" x2="460" y2="682" stroke="#dddddd" stroke-width="0.6"/>
<line x1="520" y1="679.5" x2="520" y2="682" stroke="#dddddd" stroke-width="0.6"/>
<line x1="580" y1="679.5" x2="580" y2="682" stroke="#dddddd" stroke-width="0.6"/>
<line x1="630" y1="679.5" x2="630" y2="682" stroke="#dddddd" stroke-width="0.6"/>
<rect x="523.1" y="681.6" width="1.9" height="5.8" fill="#ff2020"/>
<text x="59.7" y="694.8" font-size="9">chr9: 125,355,923-125,405,070</text>
<text x="363.4" y="703.2" font-size="9" text-anchor="middle">49 kb</text>
<line x1="61" y1="704.5" x2="662" y2="704.5" stroke="#4a4a4a" stroke-width="0.8"/>
<path d="M59.7 704.5 L63.6 702.9 L63.6 706.1 Z" fill="#333"/>
<path d="M663.3 704.5 L659.4 702.9 L659.4 706.1 Z" fill="#333"/>
<text x="114" y="713" font-size="9" text-anchor="middle">125,360 kb</text>
<line x1="109.7" y1="715.3" x2="109.7" y2="718.2" stroke="#777" stroke-width="0.8"/>
<text x="236.9" y="713" font-size="9" text-anchor="middle">125,370 kb</text>
<line x1="232.6" y1="715.3" x2="232.6" y2="718.2" stroke="#777" stroke-width="0.8"/>
<text x="359.8" y="713" font-size="9" text-anchor="middle">125,380 kb</text>
<line x1="355.5" y1="715.3" x2="355.5" y2="718.2" stroke="#777" stroke-width="0.8"/>
<text x="482.8" y="713" font-size="9" text-anchor="middle">125,390 kb</text>
<line x1="478.5" y1="715.3" x2="478.5" y2="718.2" stroke="#777" stroke-width="0.8"/>
<text x="605.3" y="713" font-size="9" text-anchor="middle">125,400 kb</text>
<line x1="601" y1="715.3" x2="601" y2="718.2" stroke="#777" stroke-width="0.8"/>
<line x1="170.9" y1="715.3" x2="170.9" y2="718.2" stroke="#999" stroke-width="0.8"/>
<line x1="294.2" y1="715.3" x2="294.2" y2="718.2" stroke="#999" stroke-width="0.8"/>
<line x1="416.5" y1="715.3" x2="416.5" y2="718.2" stroke="#999" stroke-width="0.8"/>
<line x1="539.3" y1="715.3" x2="539.3" y2="718.2" stroke="#999" stroke-width="0.8"/>
<line x1="661.7" y1="715.3" x2="661.7" y2="718.2" stroke="#999" stroke-width="0.8"/>
<line x1="59.4" y1="719.2" x2="663.6" y2="719.2" stroke="#b8b8b8" stroke-width="1.3"/>
<line x1="59.4" y1="722.5" x2="663.6" y2="722.5" stroke="#d0d0d0" stroke-width="0.8"/>
<text x="55.3" y="733" font-size="9" text-anchor="end">H3K27me3</text>
<text x="55.3" y="748.3" font-size="9" text-anchor="end">H3K36me3</text>
<text x="55.3" y="763.6" font-size="9" text-anchor="end">H3K4me1</text>
<text x="55.3" y="778.2" font-size="9" text-anchor="end">H3K4me3</text>
<text x="55.3" y="792.2" font-size="9" text-anchor="end">H3K9ac</text>
<text x="55.3" y="806.4" font-size="9" text-anchor="end">H3K56ac</text>
<text x="55.3" y="820" font-size="9" text-anchor="end">H3K27ac</text>
<text x="55.3" y="834" font-size="9" text-anchor="end">H2A.Z</text>
<text x="55.3" y="849.2" font-size="9" text-anchor="end">CG (WT)</text>
<text x="55.3" y="863" font-size="9" text-anchor="end">CG (<tspan font-style="italic">mop1</tspan>)</text>
<text x="55.3" y="878" font-size="9" text-anchor="end">CHG (WT)</text>
<text x="55.3" y="891.2" font-size="9" text-anchor="end">CHG (<tspan font-style="italic">mop1</tspan>)</text>
<text x="55.3" y="907.7" font-size="9" text-anchor="end">CHH (WT)</text>
<text x="55.3" y="921.5" font-size="9" text-anchor="end">CHH (<tspan font-style="italic">mop1</tspan>)</text>
<text x="55.3" y="935.2" font-size="9" text-anchor="end">MITEs</text>
<text x="55.3" y="948.7" font-size="9" text-anchor="end">CO interval</text>
<text x="55.3" y="964.9" font-size="9" text-anchor="end">Genes</text>
<line x1="59.7" y1="737.6" x2="663.3" y2="737.6" stroke="#c4c4c4" stroke-width="0.7"/>
<path d="M59.7 737.6 L59.7 737.34 L60.9 737.34 L60.9 737.38 L62.1 737.38 L62.1 736.02 L63.3 736.02 L63.3 736.17 L64.5 736.17 L64.5 737.35 L65.7 737.35 L65.7 737.22 L66.9 737.22 L66.9 737.33 L68.1 737.33 L68.1 737.32 L69.3 737.32 L69.3 737.21 L70.5 737.21 L70.5 737.07 L71.7 737.07 L71.7 737.3 L72.9 737.3 L72.9 737.26 L74.1 737.26 L74.1 737.12 L75.3 737.12 L75.3 737 L76.5 737 L76.5 737.13 L77.7 737.13 L77.7 737.19 L78.9 737.19 L78.9 736.97 L80.1 736.97 L80.1 737.31 L81.3 737.31 L81.3 737 L82.5 737 L82.5 737.21 L83.7 737.21 L83.7 737.26 L84.9 737.26 L84.9 737.27 L86.1 737.27 L86.1 737.19 L87.3 737.19 L87.3 736.99 L88.5 736.99 L88.5 737.23 L89.7 737.23 L89.7 737.07 L90.9 737.07 L90.9 734.72 L92.1 734.72 L92.1 737.3 L93.3 737.3 L93.3 734.23 L94.5 734.23 L94.5 734.24 L95.7 734.24 L95.7 733.9 L96.9 733.9 L96.9 734.47 L98.1 734.47 L98.1 733.6 L99.3 733.6 L99.3 737.3 L100.5 737.3 L100.5 737.3 L101.7 737.3 L101.7 733.2 L102.9 733.2 L102.9 734.1 L104.1 734.1 L104.1 734.3 L105.3 734.3 L105.3 734.26 L106.5 734.26 L106.5 734.61 L107.7 734.61 L107.7 737.3 L108.9 737.3 L108.9 737.02 L110.1 737.02 L110.1 737.04 L111.3 737.04 L111.3 736.9 L112.5 736.9 L112.5 736.97 L113.7 736.97 L113.7 737.19 L114.9 737.19 L114.9 737.15 L116.1 737.15 L116.1 737.03 L117.3 737.03 L117.3 737.29 L118.5 737.29 L118.5 737.12 L119.7 737.12 L119.7 737.3 L120.9 737.3 L120.9 734.54 L122.1 734.54 L122.1 737.3 L123.3 737.3 L123.3 734.85 L124.5 734.85 L124.5 734.49 L125.7 734.49 L125.7 734.88 L126.9 734.88 L126.9 737.3 L128.1 737.3 L128.1 735.06 L129.3 735.06 L129.3 737.3 L130.5 737.3 L130.5 734.88 L131.7 734.88 L131.7 734.36 L132.9 734.36 L132.9 737.3 L134.1 737.3 L134.1 734.41 L135.3 734.41 L135.3 734.51 L136.5 734.51 L136.5 737.3 L137.7 737.3 L137.7 737.3 L138.9 737.3 L138.9 737.3 L140.1 737.3 L140.1 735.34 L141.3 735.34 L141.3 737.29 L142.5 737.29 L142.5 736.95 L143.7 736.95 L143.7 737.05 L144.9 737.05 L144.9 737.24 L146.1 737.24 L146.1 737.2 L147.3 737.2 L147.3 737.16 L148.5 737.16 L148.5 737.15 L149.7 737.15 L149.7 737.25 L150.9 737.25 L150.9 736.96 L152.1 736.96 L152.1 736.86 L153.3 736.86 L153.3 736.06 L154.5 736.06 L154.5 737.3 L155.7 737.3 L155.7 736.1 L156.9 736.1 L156.9 737.3 L158.1 737.3 L158.1 735.77 L159.3 735.77 L159.3 735.66 L160.5 735.66 L160.5 735.99 L161.7 735.99 L161.7 735.6 L162.9 735.6 L162.9 735.57 L164.1 735.57 L164.1 735.57 L165.3 735.57 L165.3 735.93 L166.5 735.93 L166.5 735.59 L167.7 735.59 L167.7 735.9 L168.9 735.9 L168.9 735.78 L170.1 735.78 L170.1 735.44 L171.3 735.44 L171.3 737.3 L172.5 737.3 L172.5 735.64 L173.7 735.64 L173.7 735.73 L174.9 735.73 L174.9 735.99 L176.1 735.99 L176.1 735.52 L177.3 735.52 L177.3 735.92 L178.5 735.92 L178.5 735.5 L179.7 735.5 L179.7 735.76 L180.9 735.76 L180.9 737.3 L182.1 737.3 L182.1 737.3 L183.3 737.3 L183.3 735.46 L184.5 735.46 L184.5 737.3 L185.7 737.3 L185.7 735.99 L186.9 735.99 L186.9 735.64 L188.1 735.64 L188.1 737.3 L189.3 737.3 L189.3 735.82 L190.5 735.82 L190.5 735.58 L191.7 735.58 L191.7 735.89 L192.9 735.89 L192.9 735.66 L194.1 735.66 L194.1 735.68 L195.3 735.68 L195.3 737.3 L196.5 737.3 L196.5 737.3 L197.7 737.3 L197.7 735.4 L198.9 735.4 L198.9 735.45 L200.1 735.45 L200.1 735.59 L201.3 735.59 L201.3 735.88 L202.5 735.88 L202.5 735.76 L203.7 735.76 L203.7 735.56 L204.9 735.56 L204.9 735.65 L206.1 735.65 L206.1 735.6 L207.3 735.6 L207.3 735.59 L208.5 735.59 L208.5 735.48 L209.7 735.48 L209.7 735.78 L210.9 735.78 L210.9 737.3 L212.1 737.3 L212.1 735.66 L213.3 735.66 L213.3 735.92 L214.5 735.92 L214.5 735.35 L215.7 735.35 L215.7 735.52 L216.9 735.52 L216.9 735.31 L218.1 735.31 L218.1 735.7 L219.3 735.7 L219.3 735.41 L220.5 735.41 L220.5 737.3 L221.7 737.3 L221.7 737.3 L222.9 737.3 L222.9 737.3 L224.1 737.3 L224.1 735.76 L225.3 735.76 L225.3 735.94 L226.5 735.94 L226.5 735.33 L227.7 735.33 L227.7 735.96 L228.9 735.96 L228.9 735.91 L230.1 735.91 L230.1 737.3 L231.3 737.3 L231.3 735.37 L232.5 735.37 L232.5 735.94 L233.7 735.94 L233.7 735.71 L234.9 735.71 L234.9 737.3 L236.1 737.3 L236.1 735.42 L237.3 735.42 L237.3 735.7 L238.5 735.7 L238.5 737.3 L239.7 737.3 L239.7 737.3 L240.9 737.3 L240.9 737.3 L242.1 737.3 L242.1 735.8 L243.3 735.8 L243.3 737.3 L244.5 737.3 L244.5 735.24 L245.7 735.24 L245.7 736.01 L246.9 736.01 L246.9 735.89 L248.1 735.89 L248.1 735.95 L249.3 735.95 L249.3 735.69 L250.5 735.69 L250.5 735.69 L251.7 735.69 L251.7 735.8 L252.9 735.8 L252.9 735.61 L254.1 735.61 L254.1 737.3 L255.3 737.3 L255.3 737.3 L256.5 737.3 L256.5 735.99 L257.7 735.99 L257.7 735.63 L258.9 735.63 L258.9 737.3 L260.1 737.3 L260.1 735.81 L261.3 735.81 L261.3 735.49 L262.5 735.49 L262.5 735.5 L263.7 735.5 L263.7 736.11 L264.9 736.11 L264.9 735.78 L266.1 735.78 L266.1 737.3 L267.3 737.3 L267.3 737.3 L268.5 737.3 L268.5 735.89 L269.7 735.89 L269.7 735.74 L270.9 735.74 L270.9 735.61 L272.1 735.61 L272.1 737.3 L273.3 737.3 L273.3 737.3 L274.5 737.3 L274.5 735.52 L275.7 735.52 L275.7 737.3 L276.9 737.3 L276.9 735.71 L278.1 735.71 L278.1 735.51 L279.3 735.51 L279.3 735.45 L280.5 735.45 L280.5 737.3 L281.7 737.3 L281.7 735.79 L282.9 735.79 L282.9 735.65 L284.1 735.65 L284.1 737.3 L285.3 737.3 L285.3 735.48 L286.5 735.48 L286.5 737.3 L287.7 737.3 L287.7 737.3 L288.9 737.3 L288.9 737.3 L290.1 737.3 L290.1 735.49 L291.3 735.49 L291.3 735.73 L292.5 735.73 L292.5 735.46 L293.7 735.46 L293.7 735.92 L294.9 735.92 L294.9 735.46 L296.1 735.46 L296.1 735.96 L297.3 735.96 L297.3 735.49 L298.5 735.49 L298.5 735.75 L299.7 735.75 L299.7 735.63 L300.9 735.63 L300.9 735.82 L302.1 735.82 L302.1 735.95 L303.3 735.95 L303.3 735.3 L304.5 735.3 L304.5 737.3 L305.7 737.3 L305.7 735.59 L306.9 735.59 L306.9 735.35 L308.1 735.35 L308.1 735.66 L309.3 735.66 L309.3 735.86 L310.5 735.86 L310.5 735.53 L311.7 735.53 L311.7 737.3 L312.9 737.3 L312.9 735.81 L314.1 735.81 L314.1 736.05 L315.3 736.05 L315.3 735.98 L316.5 735.98 L316.5 735.48 L317.7 735.48 L317.7 735.82 L318.9 735.82 L318.9 735.85 L320.1 735.85 L320.1 736.06 L321.3 736.06 L321.3 735.91 L322.5 735.91 L322.5 737.3 L323.7 737.3 L323.7 735.88 L324.9 735.88 L324.9 737.04 L326.1 737.04 L326.1 737.27 L327.3 737.27 L327.3 737.2 L328.5 737.2 L328.5 737.19 L329.7 737.19 L329.7 737.29 L330.9 737.29 L330.9 736.31 L332.1 736.31 L332.1 736.42 L333.3 736.42 L333.3 736.99 L334.5 736.99 L334.5 737.39 L335.7 737.39 L335.7 737.31 L336.9 737.31 L336.9 737.34 L338.1 737.34 L338.1 737.35 L339.3 737.35 L339.3 737.24 L340.5 737.24 L340.5 737.19 L341.7 737.19 L341.7 737.36 L342.9 737.36 L342.9 737.26 L344.1 737.26 L344.1 737.35 L345.3 737.35 L345.3 737.29 L346.5 737.29 L346.5 737.33 L347.7 737.33 L347.7 737.38 L348.9 737.38 L348.9 737.38 L350.1 737.38 L350.1 737.37 L351.3 737.37 L351.3 737.2 L352.5 737.2 L352.5 737.3 L353.7 737.3 L353.7 737.37 L354.9 737.37 L354.9 737.2 L356.1 737.2 L356.1 737.18 L357.3 737.18 L357.3 737.31 L358.5 737.31 L358.5 737.39 L359.7 737.39 L359.7 737.37 L360.9 737.37 L360.9 737.4 L362.1 737.4 L362.1 737.34 L363.3 737.34 L363.3 737.4 L364.5 737.4 L364.5 737.36 L365.7 737.36 L365.7 737.36 L366.9 737.36 L366.9 737.28 L368.1 737.28 L368.1 737.21 L369.3 737.21 L369.3 737.24 L370.5 737.24 L370.5 737.32 L371.7 737.32 L371.7 737.32 L372.9 737.32 L372.9 737.29 L374.1 737.29 L374.1 737.33 L375.3 737.33 L375.3 737.34 L376.5 737.34 L376.5 737.4 L377.7 737.4 L377.7 737.35 L378.9 737.35 L378.9 737.19 L380.1 737.19 L380.1 737.39 L381.3 737.39 L381.3 737.3 L382.5 737.3 L382.5 737.27 L383.7 737.27 L383.7 737.21 L384.9 737.21 L384.9 737.37 L386.1 737.37 L386.1 737.35 L387.3 737.35 L387.3 737.36 L388.5 737.36 L388.5 737.32 L389.7 737.32 L389.7 737.31 L390.9 737.31 L390.9 737.19 L392.1 737.19 L392.1 737.22 L393.3 737.22 L393.3 737.21 L394.5 737.21 L394.5 737.4 L395.7 737.4 L395.7 737.4 L396.9 737.4 L396.9 737.25 L398.1 737.25 L398.1 737.21 L399.3 737.21 L399.3 737.31 L400.5 737.31 L400.5 737.28 L401.7 737.28 L401.7 737.4 L402.9 737.4 L402.9 737.33 L404.1 737.33 L404.1 737.2 L405.3 737.2 L405.3 737.22 L406.5 737.22 L406.5 737.21 L407.7 737.21 L407.7 737.19 L408.9 737.19 L408.9 737.36 L410.1 737.36 L410.1 737.39 L411.3 737.39 L411.3 737.38 L412.5 737.38 L412.5 737.29 L413.7 737.29 L413.7 737.26 L414.9 737.26 L414.9 737.19 L416.1 737.19 L416.1 737.25 L417.3 737.25 L417.3 737.26 L418.5 737.26 L418.5 737.24 L419.7 737.24 L419.7 737.31 L420.9 737.31 L420.9 737.29 L422.1 737.29 L422.1 737.4 L423.3 737.4 L423.3 737.23 L424.5 737.23 L424.5 736.24 L425.7 736.24 L425.7 736.2 L426.9 736.2 L426.9 737.3 L428.1 737.3 L428.1 737.34 L429.3 737.34 L429.3 737.19 L430.5 737.19 L430.5 737.17 L431.7 737.17 L431.7 737.24 L432.9 737.24 L432.9 737.29 L434.1 737.29 L434.1 737.17 L435.3 737.17 L435.3 737.36 L436.5 737.36 L436.5 737.26 L437.7 737.26 L437.7 737.21 L438.9 737.21 L438.9 737.05 L440.1 737.05 L440.1 735.92 L441.3 735.92 L441.3 736.13 L442.5 736.13 L442.5 737.3 L443.7 737.3 L443.7 735.95 L444.9 735.95 L444.9 736.08 L446.1 736.08 L446.1 735.62 L447.3 735.62 L447.3 737.3 L448.5 737.3 L448.5 735.71 L449.7 735.71 L449.7 736.05 L450.9 736.05 L450.9 735.66 L452.1 735.66 L452.1 735.68 L453.3 735.68 L453.3 735.83 L454.5 735.83 L454.5 735.86 L455.7 735.86 L455.7 737.3 L456.9 737.3 L456.9 737.3 L458.1 737.3 L458.1 736.45 L459.3 736.45 L459.3 734.42 L460.5 734.42 L460.5 737.3 L461.7 737.3 L461.7 737.3 L462.9 737.3 L462.9 734.64 L464.1 734.64 L464.1 732.42 L465.3 732.42 L465.3 731.53 L466.5 731.53 L466.5 730.56 L467.7 730.56 L467.7 731.09 L468.9 731.09 L468.9 730.8 L470.1 730.8 L470.1 729.09 L471.3 729.09 L471.3 730.06 L472.5 730.06 L472.5 729.87 L473.7 729.87 L473.7 734.16 L474.9 734.16 L474.9 733.16 L476.1 733.16 L476.1 729.27 L477.3 729.27 L477.3 728.2 L478.5 728.2 L478.5 730.4 L479.7 730.4 L479.7 727.74 L480.9 727.74 L480.9 728.26 L482.1 728.26 L482.1 729.48 L483.3 729.48 L483.3 727.62 L484.5 727.62 L484.5 729.72 L485.7 729.72 L485.7 729.55 L486.9 729.55 L486.9 730.49 L488.1 730.49 L488.1 727.75 L489.3 727.75 L489.3 726.3 L490.5 726.3 L490.5 736.51 L491.7 736.51 L491.7 736.21 L492.9 736.21 L492.9 729.18 L494.1 729.18 L494.1 727.56 L495.3 727.56 L495.3 727.83 L496.5 727.83 L496.5 727.65 L497.7 727.65 L497.7 728.22 L498.9 728.22 L498.9 729.03 L500.1 729.03 L500.1 727.44 L501.3 727.44 L501.3 729.24 L502.5 729.24 L502.5 728.99 L503.7 728.99 L503.7 729.61 L504.9 729.61 L504.9 728.54 L506.1 728.54 L506.1 726.54 L507.3 726.54 L507.3 728.56 L508.5 728.56 L508.5 729.05 L509.7 729.05 L509.7 727.19 L510.9 727.19 L510.9 729.27 L512.1 729.27 L512.1 728.56 L513.3 728.56 L513.3 726.3 L514.5 726.3 L514.5 726.3 L515.7 726.3 L515.7 726.3 L516.9 726.3 L516.9 726.3 L518.1 726.3 L518.1 726.3 L519.3 726.3 L519.3 726.3 L520.5 726.3 L520.5 726.3 L521.7 726.3 L521.7 726.3 L522.9 726.3 L522.9 726.3 L524.1 726.3 L524.1 726.3 L525.3 726.3 L525.3 726.3 L526.5 726.3 L526.5 726.3 L527.7 726.3 L527.7 726.3 L528.9 726.3 L528.9 726.3 L530.1 726.3 L530.1 726.3 L531.3 726.3 L531.3 726.3 L532.5 726.3 L532.5 726.3 L533.7 726.3 L533.7 726.3 L534.9 726.3 L534.9 726.3 L536.1 726.3 L536.1 726.3 L537.3 726.3 L537.3 726.3 L538.5 726.3 L538.5 726.3 L539.7 726.3 L539.7 726.3 L540.9 726.3 L540.9 726.3 L542.1 726.3 L542.1 726.3 L543.3 726.3 L543.3 726.3 L544.5 726.3 L544.5 726.3 L545.7 726.3 L545.7 726.3 L546.9 726.3 L546.9 726.3 L548.1 726.3 L548.1 726.3 L549.3 726.3 L549.3 726.3 L550.5 726.3 L550.5 726.3 L551.7 726.3 L551.7 726.3 L552.9 726.3 L552.9 726.3 L554.1 726.3 L554.1 726.3 L555.3 726.3 L555.3 726.3 L556.5 726.3 L556.5 726.39 L557.7 726.39 L557.7 730.43 L558.9 730.43 L558.9 730.27 L560.1 730.27 L560.1 731.41 L561.3 731.41 L561.3 730.58 L562.5 730.58 L562.5 735.53 L563.7 735.53 L563.7 734.82 L564.9 734.82 L564.9 737.3 L566.1 737.3 L566.1 735.05 L567.3 735.05 L567.3 735.46 L568.5 735.46 L568.5 732.58 L569.7 732.58 L569.7 732.94 L570.9 732.94 L570.9 731.78 L572.1 731.78 L572.1 732.53 L573.3 732.53 L573.3 731.65 L574.5 731.65 L574.5 733.13 L575.7 733.13 L575.7 731.57 L576.9 731.57 L576.9 733.21 L578.1 733.21 L578.1 734.72 L579.3 734.72 L579.3 731.36 L580.5 731.36 L580.5 731.44 L581.7 731.44 L581.7 732.19 L582.9 732.19 L582.9 731.35 L584.1 731.35 L584.1 732.55 L585.3 732.55 L585.3 731.96 L586.5 731.96 L586.5 732.74 L587.7 732.74 L587.7 731.56 L588.9 731.56 L588.9 732.9 L590.1 732.9 L590.1 737.24 L591.3 737.24 L591.3 737.4 L592.5 737.4 L592.5 735.92 L593.7 735.92 L593.7 736.07 L594.9 736.07 L594.9 736.14 L596.1 736.14 L596.1 736.02 L597.3 736.02 L597.3 736.95 L598.5 736.95 L598.5 737.36 L599.7 737.36 L599.7 737.24 L600.9 737.24 L600.9 737.23 L602.1 737.23 L602.1 737.31 L603.3 737.31 L603.3 737.38 L604.5 737.38 L604.5 737.31 L605.7 737.31 L605.7 737.39 L606.9 737.39 L606.9 737.39 L608.1 737.39 L608.1 737.32 L609.3 737.32 L609.3 737.4 L610.5 737.4 L610.5 737.31 L611.7 737.31 L611.7 737.3 L612.9 737.3 L612.9 737.4 L614.1 737.4 L614.1 736.55 L615.3 736.55 L615.3 736.89 L616.5 736.89 L616.5 737.3 L617.7 737.3 L617.7 737.4 L618.9 737.4 L618.9 737.3 L620.1 737.3 L620.1 737.33 L621.3 737.33 L621.3 737.19 L622.5 737.19 L622.5 737.39 L623.7 737.39 L623.7 737.21 L624.9 737.21 L624.9 737.18 L626.1 737.18 L626.1 737.24 L627.3 737.24 L627.3 737.22 L628.5 737.22 L628.5 737.37 L629.7 737.37 L629.7 737.18 L630.9 737.18 L630.9 737.3 L632.1 737.3 L632.1 737.19 L633.3 737.19 L633.3 737.2 L634.5 737.2 L634.5 737.38 L635.7 737.38 L635.7 737.23 L636.9 737.23 L636.9 737.2 L638.1 737.2 L638.1 737.4 L639.3 737.4 L639.3 737.34 L640.5 737.34 L640.5 737.24 L641.7 737.24 L641.7 737.38 L642.9 737.38 L642.9 736.46 L644.1 736.46 L644.1 736.72 L645.3 736.72 L645.3 736.7 L646.5 736.7 L646.5 737.3 L647.7 737.3 L647.7 736.72 L648.9 736.72 L648.9 737.21 L650.1 737.21 L650.1 737.38 L651.3 737.38 L651.3 737.23 L652.5 737.23 L652.5 737.39 L653.7 737.39 L653.7 736.59 L654.9 736.59 L654.9 736.47 L656.1 736.47 L656.1 736.62 L657.3 736.62 L657.3 737.27 L658.5 737.27 L658.5 737.33 L659.7 737.33 L659.7 737.23 L660.9 737.23 L660.9 736.68 L662.1 736.68 L662.1 736.65 L663.3 736.65 L663.3 737.6 Z" fill="#686868"/>
<line x1="554.6" y1="725" x2="554.6" y2="737.2" stroke="#f4f4f4" stroke-width="0.8"/>
<line x1="59.7" y1="752.02" x2="663.3" y2="752.02" stroke="#facc9e" stroke-width="0.7"/>
<path d="M59.7 752.02 L59.7 751.69 L60.6 751.69 L60.6 751.48 L61.5 751.48 L61.5 751.73 L62.4 751.73 L62.4 751.45 L63.3 751.45 L63.3 751.66 L64.2 751.66 L64.2 751.51 L65.1 751.51 L65.1 751.39 L66 751.39 L66 751.53 L66.9 751.53 L66.9 751.5 L67.8 751.5 L67.8 751.63 L68.7 751.63 L68.7 751.74 L69.6 751.74 L69.6 751.73 L70.5 751.73 L70.5 751.69 L71.4 751.69 L71.4 751.52 L72.3 751.52 L72.3 751.58 L73.2 751.58 L73.2 751.55 L74.1 751.55 L74.1 751.41 L75 751.41 L75 751.69 L75.9 751.69 L75.9 751.66 L76.8 751.66 L76.8 751.5 L77.7 751.5 L77.7 751.73 L78.6 751.73 L78.6 751.74 L79.5 751.74 L79.5 751.61 L80.4 751.61 L80.4 751.7 L81.3 751.7 L81.3 751.6 L82.2 751.6 L82.2 751.65 L83.1 751.65 L83.1 751.52 L84 751.52 L84 751.51 L84.9 751.51 L84.9 751.66 L85.8 751.66 L85.8 751.5 L86.7 751.5 L86.7 751.55 L87.6 751.55 L87.6 751.68 L88.5 751.68 L88.5 751.38 L89.4 751.38 L89.4 751.64 L90.3 751.64 L90.3 751.67 L91.2 751.67 L91.2 751.69 L92.1 751.69 L92.1 751.49 L93 751.49 L93 751.39 L93.9 751.39 L93.9 751.43 L94.8 751.43 L94.8 751.57 L95.7 751.57 L95.7 751.63 L96.6 751.63 L96.6 751.72 L97.5 751.72 L97.5 751.48 L98.4 751.48 L98.4 751.51 L99.3 751.51 L99.3 751.59 L100.2 751.59 L100.2 751.47 L101.1 751.47 L101.1 751.55 L102 751.55 L102 751.36 L102.9 751.36 L102.9 751.44 L103.8 751.44 L103.8 751.63 L104.7 751.63 L104.7 751.37 L105.6 751.37 L105.6 751.71 L106.5 751.71 L106.5 751.51 L107.4 751.51 L107.4 751.56 L108.3 751.56 L108.3 751.63 L109.2 751.63 L109.2 751.7 L110.1 751.7 L110.1 751.41 L111 751.41 L111 751.72 L111.9 751.72 L111.9 751.22 L112.8 751.22 L112.8 750.72 L113.7 750.72 L113.7 749.86 L114.6 749.86 L114.6 749.46 L115.5 749.46 L115.5 748.55 L116.4 748.55 L116.4 749.21 L117.3 749.21 L117.3 748.57 L118.2 748.57 L118.2 748.64 L119.1 748.64 L119.1 748.68 L120 748.68 L120 747.72 L120.9 747.72 L120.9 747.49 L121.8 747.49 L121.8 747.5 L122.7 747.5 L122.7 746.98 L123.6 746.98 L123.6 747.53 L124.5 747.53 L124.5 746.29 L125.4 746.29 L125.4 744.46 L126.3 744.46 L126.3 747 L127.2 747 L127.2 746.01 L128.1 746.01 L128.1 745.8 L129 745.8 L129 745.35 L129.9 745.35 L129.9 746.32 L130.8 746.32 L130.8 745.48 L131.7 745.48 L131.7 745.3 L132.6 745.3 L132.6 745.57 L133.5 745.57 L133.5 745.01 L134.4 745.01 L134.4 745.42 L135.3 745.42 L135.3 745.04 L136.2 745.04 L136.2 745.68 L137.1 745.68 L137.1 745.86 L138 745.86 L138 743.7 L138.9 743.7 L138.9 745.61 L139.8 745.61 L139.8 744.99 L140.7 744.99 L140.7 745.59 L141.6 745.59 L141.6 743.99 L142.5 743.99 L142.5 743.86 L143.4 743.86 L143.4 745.23 L144.3 745.23 L144.3 744.43 L145.2 744.43 L145.2 743.23 L146.1 743.23 L146.1 744.96 L147 744.96 L147 742.79 L147.9 742.79 L147.9 744.69 L148.8 744.69 L148.8 742.37 L149.7 742.37 L149.7 742.63 L150.6 742.63 L150.6 743.08 L151.5 743.08 L151.5 742.98 L152.4 742.98 L152.4 744.29 L153.3 744.29 L153.3 742.45 L154.2 742.45 L154.2 743.53 L155.1 743.53 L155.1 744.25 L156 744.25 L156 743.44 L156.9 743.44 L156.9 743.12 L157.8 743.12 L157.8 741.35 L158.7 741.35 L158.7 741.56 L159.6 741.56 L159.6 743.81 L160.5 743.81 L160.5 742.61 L161.4 742.61 L161.4 742.87 L162.3 742.87 L162.3 742.33 L163.2 742.33 L163.2 741.4 L164.1 741.4 L164.1 741.53 L165 741.53 L165 743.89 L165.9 743.89 L165.9 741.71 L166.8 741.71 L166.8 743.89 L167.7 743.89 L167.7 742.5 L168.6 742.5 L168.6 743.39 L169.5 743.39 L169.5 742.93 L170.4 742.93 L170.4 743.18 L171.3 743.18 L171.3 743.12 L172.2 743.12 L172.2 741.94 L173.1 741.94 L173.1 743.63 L174 743.63 L174 743.72 L174.9 743.72 L174.9 741.97 L175.8 741.97 L175.8 742.17 L176.7 742.17 L176.7 742.83 L177.6 742.83 L177.6 741.44 L178.5 741.44 L178.5 740.72 L179.4 740.72 L179.4 743.4 L180.3 743.4 L180.3 741.44 L181.2 741.44 L181.2 742.92 L182.1 742.92 L182.1 743.34 L183 743.34 L183 742.5 L183.9 742.5 L183.9 741.88 L184.8 741.88 L184.8 743.03 L185.7 743.03 L185.7 743.59 L186.6 743.59 L186.6 742.16 L187.5 742.16 L187.5 743.56 L188.4 743.56 L188.4 741.86 L189.3 741.86 L189.3 743.69 L190.2 743.69 L190.2 741.56 L191.1 741.56 L191.1 743.52 L192 743.52 L192 742.09 L192.9 742.09 L192.9 743.64 L193.8 743.64 L193.8 743.38 L194.7 743.38 L194.7 742.62 L195.6 742.62 L195.6 743.17 L196.5 743.17 L196.5 741.36 L197.4 741.36 L197.4 743.81 L198.3 743.81 L198.3 743.82 L199.2 743.82 L199.2 741.36 L200.1 741.36 L200.1 742.07 L201 742.07 L201 743.56 L201.9 743.56 L201.9 743.81 L202.8 743.81 L202.8 740.72 L203.7 740.72 L203.7 742.98 L204.6 742.98 L204.6 742.16 L205.5 742.16 L205.5 742.32 L206.4 742.32 L206.4 743.69 L207.3 743.69 L207.3 742.95 L208.2 742.95 L208.2 741.54 L209.1 741.54 L209.1 742.47 L210 742.47 L210 742.89 L210.9 742.89 L210.9 742.04 L211.8 742.04 L211.8 741.89 L212.7 741.89 L212.7 741.67 L213.6 741.67 L213.6 742.25 L214.5 742.25 L214.5 743.17 L215.4 743.17 L215.4 743.77 L216.3 743.77 L216.3 741.84 L217.2 741.84 L217.2 742.27 L218.1 742.27 L218.1 742.84 L219 742.84 L219 742.28 L219.9 742.28 L219.9 742.13 L220.8 742.13 L220.8 743.51 L221.7 743.51 L221.7 741.83 L222.6 741.83 L222.6 742.64 L223.5 742.64 L223.5 743.91 L224.4 743.91 L224.4 743.56 L225.3 743.56 L225.3 741.35 L226.2 741.35 L226.2 743.72 L227.1 743.72 L227.1 742.47 L228 742.47 L228 742.55 L228.9 742.55 L228.9 741.64 L229.8 741.64 L229.8 742.83 L230.7 742.83 L230.7 743.39 L231.6 743.39 L231.6 742.87 L232.5 742.87 L232.5 743.63 L233.4 743.63 L233.4 742.96 L234.3 742.96 L234.3 743.19 L235.2 743.19 L235.2 743.93 L236.1 743.93 L236.1 742.77 L237 742.77 L237 742.96 L237.9 742.96 L237.9 743.32 L238.8 743.32 L238.8 741.27 L239.7 741.27 L239.7 743.32 L240.6 743.32 L240.6 742.83 L241.5 742.83 L241.5 743.58 L242.4 743.58 L242.4 741.64 L243.3 741.64 L243.3 742.61 L244.2 742.61 L244.2 743.3 L245.1 743.3 L245.1 742.94 L246 742.94 L246 741.61 L246.9 741.61 L246.9 742.61 L247.8 742.61 L247.8 742.38 L248.7 742.38 L248.7 741.57 L249.6 741.57 L249.6 741.52 L250.5 741.52 L250.5 742.87 L251.4 742.87 L251.4 742.73 L252.3 742.73 L252.3 743.94 L253.2 743.94 L253.2 743.14 L254.1 743.14 L254.1 743.11 L255 743.11 L255 743 L255.9 743 L255.9 742.62 L256.8 742.62 L256.8 742.2 L257.7 742.2 L257.7 744.73 L258.6 744.73 L258.6 742.92 L259.5 742.92 L259.5 745.05 L260.4 745.05 L260.4 741.85 L261.3 741.85 L261.3 745.85 L262.2 745.85 L262.2 747.44 L263.1 747.44 L263.1 751.71 L264 751.71 L264 751.7 L264.9 751.7 L264.9 751.67 L265.8 751.67 L265.8 751.47 L266.7 751.47 L266.7 751.63 L267.6 751.63 L267.6 751.7 L268.5 751.7 L268.5 751.42 L269.4 751.42 L269.4 751.46 L270.3 751.46 L270.3 751.69 L271.2 751.69 L271.2 751.43 L272.1 751.43 L272.1 751.53 L273 751.53 L273 751.47 L273.9 751.47 L273.9 751.51 L274.8 751.51 L274.8 751.43 L275.7 751.43 L275.7 751.47 L276.6 751.47 L276.6 751.45 L277.5 751.45 L277.5 751.68 L278.4 751.68 L278.4 751.5 L279.3 751.5 L279.3 751.56 L280.2 751.56 L280.2 751.48 L281.1 751.48 L281.1 751.59 L282 751.59 L282 751.43 L282.9 751.43 L282.9 751.55 L283.8 751.55 L283.8 751.65 L284.7 751.65 L284.7 751.67 L285.6 751.67 L285.6 751.7 L286.5 751.7 L286.5 751.57 L287.4 751.57 L287.4 751.73 L288.3 751.73 L288.3 751.58 L289.2 751.58 L289.2 751.7 L290.1 751.7 L290.1 751.57 L291 751.57 L291 751.57 L291.9 751.57 L291.9 751.56 L292.8 751.56 L292.8 751.44 L293.7 751.44 L293.7 751.75 L294.6 751.75 L294.6 751.45 L295.5 751.45 L295.5 751.58 L296.4 751.58 L296.4 751.55 L297.3 751.55 L297.3 751.51 L298.2 751.51 L298.2 751.45 L299.1 751.45 L299.1 751.62 L300 751.62 L300 751.6 L300.9 751.6 L300.9 751.4 L301.8 751.4 L301.8 751.72 L302.7 751.72 L302.7 751.52 L303.6 751.52 L303.6 751.52 L304.5 751.52 L304.5 751.74 L305.4 751.74 L305.4 751.53 L306.3 751.53 L306.3 751.5 L307.2 751.5 L307.2 751.41 L308.1 751.41 L308.1 751.63 L309 751.63 L309 751.4 L309.9 751.4 L309.9 751.57 L310.8 751.57 L310.8 751.58 L311.7 751.58 L311.7 751.43 L312.6 751.43 L312.6 751.74 L313.5 751.74 L313.5 751.49 L314.4 751.49 L314.4 751.52 L315.3 751.52 L315.3 751.63 L316.2 751.63 L316.2 751.44 L317.1 751.44 L317.1 751.62 L318 751.62 L318 751.58 L318.9 751.58 L318.9 751.56 L319.8 751.56 L319.8 751.47 L320.7 751.47 L320.7 751.67 L321.6 751.67 L321.6 751.59 L322.5 751.59 L322.5 751.6 L323.4 751.6 L323.4 751.55 L324.3 751.55 L324.3 751.45 L325.2 751.45 L325.2 751.64 L326.1 751.64 L326.1 751.45 L327 751.45 L327 751.6 L327.9 751.6 L327.9 751.57 L328.8 751.57 L328.8 751.65 L329.7 751.65 L329.7 751.57 L330.6 751.57 L330.6 751.4 L331.5 751.4 L331.5 751.51 L332.4 751.51 L332.4 751.46 L333.3 751.46 L333.3 751.63 L334.2 751.63 L334.2 751.64 L335.1 751.64 L335.1 751.64 L336 751.64 L336 751.54 L336.9 751.54 L336.9 751.52 L337.8 751.52 L337.8 751.47 L338.7 751.47 L338.7 751.74 L339.6 751.74 L339.6 751.49 L340.5 751.49 L340.5 751.43 L341.4 751.43 L341.4 751.55 L342.3 751.55 L342.3 751.73 L343.2 751.73 L343.2 751.64 L344.1 751.64 L344.1 751.75 L345 751.75 L345 751.68 L345.9 751.68 L345.9 751.42 L346.8 751.42 L346.8 751.53 L347.7 751.53 L347.7 751.51 L348.6 751.51 L348.6 751.47 L349.5 751.47 L349.5 751.42 L350.4 751.42 L350.4 751.53 L351.3 751.53 L351.3 751.53 L352.2 751.53 L352.2 751.52 L353.1 751.52 L353.1 751.5 L354 751.5 L354 751.54 L354.9 751.54 L354.9 751.5 L355.8 751.5 L355.8 751.67 L356.7 751.67 L356.7 751.51 L357.6 751.51 L357.6 751.59 L358.5 751.59 L358.5 751.48 L359.4 751.48 L359.4 751.71 L360.3 751.71 L360.3 751.68 L361.2 751.68 L361.2 751.74 L362.1 751.74 L362.1 751.47 L363 751.47 L363 751.42 L363.9 751.42 L363.9 751.51 L364.8 751.51 L364.8 751.62 L365.7 751.62 L365.7 751.45 L366.6 751.45 L366.6 751.47 L367.5 751.47 L367.5 751.55 L368.4 751.55 L368.4 751.66 L369.3 751.66 L369.3 751.64 L370.2 751.64 L370.2 751.6 L371.1 751.6 L371.1 751.64 L372 751.64 L372 751.59 L372.9 751.59 L372.9 751.52 L373.8 751.52 L373.8 751.41 L374.7 751.41 L374.7 751.73 L375.6 751.73 L375.6 751.55 L376.5 751.55 L376.5 751.74 L377.4 751.74 L377.4 751.71 L378.3 751.71 L378.3 751.46 L379.2 751.46 L379.2 751.54 L380.1 751.54 L380.1 751.42 L381 751.42 L381 751.59 L381.9 751.59 L381.9 751.74 L382.8 751.74 L382.8 751.61 L383.7 751.61 L383.7 751.54 L384.6 751.54 L384.6 751.41 L385.5 751.41 L385.5 751.4 L386.4 751.4 L386.4 751.58 L387.3 751.58 L387.3 751.6 L388.2 751.6 L388.2 751.71 L389.1 751.71 L389.1 751.52 L390 751.52 L390 751.67 L390.9 751.67 L390.9 751.7 L391.8 751.7 L391.8 751.74 L392.7 751.74 L392.7 751.75 L393.6 751.75 L393.6 751.5 L394.5 751.5 L394.5 751.71 L395.4 751.71 L395.4 751.4 L396.3 751.4 L396.3 751.72 L397.2 751.72 L397.2 751.44 L398.1 751.44 L398.1 751.7 L399 751.7 L399 751.74 L399.9 751.74 L399.9 751.49 L400.8 751.49 L400.8 751.66 L401.7 751.66 L401.7 751.49 L402.6 751.49 L402.6 751.68 L403.5 751.68 L403.5 751.73 L404.4 751.73 L404.4 751.47 L405.3 751.47 L405.3 751.49 L406.2 751.49 L406.2 751.44 L407.1 751.44 L407.1 751.49 L408 751.49 L408 751.72 L408.9 751.72 L408.9 751.52 L409.8 751.52 L409.8 751.49 L410.7 751.49 L410.7 751.58 L411.6 751.58 L411.6 751.41 L412.5 751.41 L412.5 751.66 L413.4 751.66 L413.4 751.4 L414.3 751.4 L414.3 751.49 L415.2 751.49 L415.2 751.75 L416.1 751.75 L416.1 751.74 L417 751.74 L417 751.52 L417.9 751.52 L417.9 751.46 L418.8 751.46 L418.8 751.72 L419.7 751.72 L419.7 751.64 L420.6 751.64 L420.6 751.49 L421.5 751.49 L421.5 751.69 L422.4 751.69 L422.4 751.44 L423.3 751.44 L423.3 751.57 L424.2 751.57 L424.2 751.73 L425.1 751.73 L425.1 751.62 L426 751.62 L426 751.54 L426.9 751.54 L426.9 751.59 L427.8 751.59 L427.8 751.51 L428.7 751.51 L428.7 751.7 L429.6 751.7 L429.6 751.46 L430.5 751.46 L430.5 751.62 L431.4 751.62 L431.4 751.52 L432.3 751.52 L432.3 751.52 L433.2 751.52 L433.2 751.6 L434.1 751.6 L434.1 751.61 L435 751.61 L435 751.47 L435.9 751.47 L435.9 751.41 L436.8 751.41 L436.8 751.47 L437.7 751.47 L437.7 751.55 L438.6 751.55 L438.6 751.64 L439.5 751.64 L439.5 751.73 L440.4 751.73 L440.4 751.4 L441.3 751.4 L441.3 751.5 L442.2 751.5 L442.2 751.45 L443.1 751.45 L443.1 751.63 L444 751.63 L444 751.53 L444.9 751.53 L444.9 751.4 L445.8 751.4 L445.8 751.45 L446.7 751.45 L446.7 751.53 L447.6 751.53 L447.6 751.64 L448.5 751.64 L448.5 751.6 L449.4 751.6 L449.4 751.43 L450.3 751.43 L450.3 751.61 L451.2 751.61 L451.2 751.5 L452.1 751.5 L452.1 751.53 L453 751.53 L453 751.43 L453.9 751.43 L453.9 751.46 L454.8 751.46 L454.8 751.65 L455.7 751.65 L455.7 751.75 L456.6 751.75 L456.6 751.66 L457.5 751.66 L457.5 751.6 L458.4 751.6 L458.4 751.54 L459.3 751.54 L459.3 751.46 L460.2 751.46 L460.2 751.43 L461.1 751.43 L461.1 751.73 L462 751.73 L462 751.45 L462.9 751.45 L462.9 751.46 L463.8 751.46 L463.8 751.44 L464.7 751.44 L464.7 751.54 L465.6 751.54 L465.6 751.65 L466.5 751.65 L466.5 751.44 L467.4 751.44 L467.4 751.46 L468.3 751.46 L468.3 751.5 L469.2 751.5 L469.2 751.42 L470.1 751.42 L470.1 751.63 L471 751.63 L471 751.72 L471.9 751.72 L471.9 751.55 L472.8 751.55 L472.8 751.46 L473.7 751.46 L473.7 751.68 L474.6 751.68 L474.6 751.48 L475.5 751.48 L475.5 751.41 L476.4 751.41 L476.4 751.67 L477.3 751.67 L477.3 751.53 L478.2 751.53 L478.2 751.51 L479.1 751.51 L479.1 751.58 L480 751.58 L480 751.68 L480.9 751.68 L480.9 751.66 L481.8 751.66 L481.8 751.48 L482.7 751.48 L482.7 751.47 L483.6 751.47 L483.6 751.58 L484.5 751.58 L484.5 751.72 L485.4 751.72 L485.4 751.46 L486.3 751.46 L486.3 751.47 L487.2 751.47 L487.2 751.67 L488.1 751.67 L488.1 751.54 L489 751.54 L489 751.43 L489.9 751.43 L489.9 751.43 L490.8 751.43 L490.8 751.56 L491.7 751.56 L491.7 751.58 L492.6 751.58 L492.6 751.54 L493.5 751.54 L493.5 751.68 L494.4 751.68 L494.4 751.68 L495.3 751.68 L495.3 751.68 L496.2 751.68 L496.2 751.5 L497.1 751.5 L497.1 751.62 L498 751.62 L498 751.55 L498.9 751.55 L498.9 751.61 L499.8 751.61 L499.8 751.56 L500.7 751.56 L500.7 751.7 L501.6 751.7 L501.6 751.73 L502.5 751.73 L502.5 751.39 L503.4 751.39 L503.4 751.62 L504.3 751.62 L504.3 751.71 L505.2 751.71 L505.2 751.52 L506.1 751.52 L506.1 751.47 L507 751.47 L507 751.69 L507.9 751.69 L507.9 751.54 L508.8 751.54 L508.8 751.63 L509.7 751.63 L509.7 751.56 L510.6 751.56 L510.6 751.74 L511.5 751.74 L511.5 751.74 L512.4 751.74 L512.4 751.39 L513.3 751.39 L513.3 751.44 L514.2 751.44 L514.2 751.57 L515.1 751.57 L515.1 751.45 L516 751.45 L516 750.72 L516.9 750.72 L516.9 750.43 L517.8 750.43 L517.8 750.43 L518.7 750.43 L518.7 750.75 L519.6 750.75 L519.6 750.81 L520.5 750.81 L520.5 750.64 L521.4 750.64 L521.4 750.8 L522.3 750.8 L522.3 750.78 L523.2 750.78 L523.2 750.59 L524.1 750.59 L524.1 750.55 L525 750.55 L525 750.76 L525.9 750.76 L525.9 750.35 L526.8 750.35 L526.8 750.68 L527.7 750.68 L527.7 750.48 L528.6 750.48 L528.6 751.14 L529.5 751.14 L529.5 751.73 L530.4 751.73 L530.4 751.7 L531.3 751.7 L531.3 751.48 L532.2 751.48 L532.2 751.41 L533.1 751.41 L533.1 751.51 L534 751.51 L534 751.64 L534.9 751.64 L534.9 751.54 L535.8 751.54 L535.8 751.48 L536.7 751.48 L536.7 751.71 L537.6 751.71 L537.6 751.63 L538.5 751.63 L538.5 751.66 L539.4 751.66 L539.4 751.71 L540.3 751.71 L540.3 751.58 L541.2 751.58 L541.2 751.69 L542.1 751.69 L542.1 751.66 L543 751.66 L543 751.7 L543.9 751.7 L543.9 751.51 L544.8 751.51 L544.8 751.75 L545.7 751.75 L545.7 751.49 L546.6 751.49 L546.6 751.68 L547.5 751.68 L547.5 751.74 L548.4 751.74 L548.4 751.42 L549.3 751.42 L549.3 751.67 L550.2 751.67 L550.2 751.41 L551.1 751.41 L551.1 751.44 L552 751.44 L552 751.43 L552.9 751.43 L552.9 751.7 L553.8 751.7 L553.8 751.59 L554.7 751.59 L554.7 751.72 L555.6 751.72 L555.6 751.42 L556.5 751.42 L556.5 751.45 L557.4 751.45 L557.4 751.52 L558.3 751.52 L558.3 751.59 L559.2 751.59 L559.2 751.63 L560.1 751.63 L560.1 751.45 L561 751.45 L561 751.58 L561.9 751.58 L561.9 751.52 L562.8 751.52 L562.8 751.7 L563.7 751.7 L563.7 751.67 L564.6 751.67 L564.6 751.73 L565.5 751.73 L565.5 751.49 L566.4 751.49 L566.4 751.55 L567.3 751.55 L567.3 751.7 L568.2 751.7 L568.2 751.44 L569.1 751.44 L569.1 751.65 L570 751.65 L570 751.6 L570.9 751.6 L570.9 751.69 L571.8 751.69 L571.8 751.65 L572.7 751.65 L572.7 751.45 L573.6 751.45 L573.6 751.63 L574.5 751.63 L574.5 751.69 L575.4 751.69 L575.4 751.57 L576.3 751.57 L576.3 751.64 L577.2 751.64 L577.2 751.42 L578.1 751.42 L578.1 751.67 L579 751.67 L579 750.88 L579.9 750.88 L579.9 750.97 L580.8 750.97 L580.8 751.08 L581.7 751.08 L581.7 751.06 L582.6 751.06 L582.6 750.89 L583.5 750.89 L583.5 750.9 L584.4 750.9 L584.4 751.08 L585.3 751.08 L585.3 750.93 L586.2 750.93 L586.2 751.17 L587.1 751.17 L587.1 751.16 L588 751.16 L588 751.67 L588.9 751.67 L588.9 751.54 L589.8 751.54 L589.8 751.7 L590.7 751.7 L590.7 751.69 L591.6 751.69 L591.6 751.47 L592.5 751.47 L592.5 751.49 L593.4 751.49 L593.4 751.68 L594.3 751.68 L594.3 751.72 L595.2 751.72 L595.2 751.72 L596.1 751.72 L596.1 751.53 L597 751.53 L597 751.57 L597.9 751.57 L597.9 751.65 L598.8 751.65 L598.8 751.68 L599.7 751.68 L599.7 751.53 L600.6 751.53 L600.6 751.5 L601.5 751.5 L601.5 751.46 L602.4 751.46 L602.4 751.54 L603.3 751.54 L603.3 751.68 L604.2 751.68 L604.2 751.73 L605.1 751.73 L605.1 751.49 L606 751.49 L606 751.6 L606.9 751.6 L606.9 751.49 L607.8 751.49 L607.8 751.73 L608.7 751.73 L608.7 751.46 L609.6 751.46 L609.6 751.63 L610.5 751.63 L610.5 751.45 L611.4 751.45 L611.4 751.44 L612.3 751.44 L612.3 751.57 L613.2 751.57 L613.2 751.74 L614.1 751.74 L614.1 751.42 L615 751.42 L615 751.58 L615.9 751.58 L615.9 751.44 L616.8 751.44 L616.8 751.65 L617.7 751.65 L617.7 751.68 L618.6 751.68 L618.6 751.45 L619.5 751.45 L619.5 751.62 L620.4 751.62 L620.4 751.69 L621.3 751.69 L621.3 751.62 L622.2 751.62 L622.2 751.54 L623.1 751.54 L623.1 751.75 L624 751.75 L624 751.56 L624.9 751.56 L624.9 751.59 L625.8 751.59 L625.8 751.56 L626.7 751.56 L626.7 751.71 L627.6 751.71 L627.6 751.49 L628.5 751.49 L628.5 751.46 L629.4 751.46 L629.4 751.44 L630.3 751.44 L630.3 751.63 L631.2 751.63 L631.2 751.49 L632.1 751.49 L632.1 751.61 L633 751.61 L633 751.48 L633.9 751.48 L633.9 751.73 L634.8 751.73 L634.8 751.44 L635.7 751.44 L635.7 751.41 L636.6 751.41 L636.6 751.57 L637.5 751.57 L637.5 751.57 L638.4 751.57 L638.4 751.56 L639.3 751.56 L639.3 751.56 L640.2 751.56 L640.2 751.74 L641.1 751.74 L641.1 751.4 L642 751.4 L642 751.67 L642.9 751.67 L642.9 751.68 L643.8 751.68 L643.8 751.71 L644.7 751.71 L644.7 751.66 L645.6 751.66 L645.6 751.46 L646.5 751.46 L646.5 751.74 L647.4 751.74 L647.4 751.72 L648.3 751.72 L648.3 751.5 L649.2 751.5 L649.2 751.68 L650.1 751.68 L650.1 751.74 L651 751.74 L651 751.53 L651.9 751.53 L651.9 751.54 L652.8 751.54 L652.8 751.56 L653.7 751.56 L653.7 751.5 L654.6 751.5 L654.6 751.71 L655.5 751.71 L655.5 751.44 L656.4 751.44 L656.4 751.49 L657.3 751.49 L657.3 751.73 L658.2 751.73 L658.2 751.71 L659.1 751.71 L659.1 751.57 L660 751.57 L660 751.57 L660.9 751.57 L660.9 751.65 L661.8 751.65 L661.8 751.71 L662.7 751.71 L662.7 751.6 L663.6 751.6 L663.3 752.02 Z" fill="#f59a3c"/>
<line x1="59.7" y1="766.44" x2="663.3" y2="766.44" stroke="#a5c7f8" stroke-width="0.7"/>
<path d="M59.7 766.44 L59.7 766.16 L60.6 766.16 L60.6 766.01 L61.5 766.01 L61.5 765.92 L62.4 765.92 L62.4 766.15 L63.3 766.15 L63.3 766.02 L64.2 766.02 L64.2 765.96 L65.1 765.96 L65.1 766.15 L66 766.15 L66 765.94 L66.9 765.94 L66.9 765.9 L67.8 765.9 L67.8 766.08 L68.7 766.08 L68.7 766.07 L69.6 766.07 L69.6 765.93 L70.5 765.93 L70.5 766.03 L71.4 766.03 L71.4 766.07 L72.3 766.07 L72.3 765.9 L73.2 765.9 L73.2 765.95 L74.1 765.95 L74.1 766.04 L75 766.04 L75 765.56 L75.9 765.56 L75.9 765.22 L76.8 765.22 L76.8 765.94 L77.7 765.94 L77.7 765.93 L78.6 765.93 L78.6 766.18 L79.5 766.18 L79.5 766.03 L80.4 766.03 L80.4 765.89 L81.3 765.89 L81.3 765.9 L82.2 765.9 L82.2 766.12 L83.1 766.12 L83.1 766.06 L84 766.06 L84 766 L84.9 766 L84.9 766.08 L85.8 766.08 L85.8 766.03 L86.7 766.03 L86.7 765.8 L87.6 765.8 L87.6 765.34 L88.5 765.34 L88.5 764.87 L89.4 764.87 L89.4 764.85 L90.3 764.85 L90.3 765.33 L91.2 765.33 L91.2 764.93 L92.1 764.93 L92.1 764.77 L93 764.77 L93 765.03 L93.9 765.03 L93.9 765.17 L94.8 765.17 L94.8 765.28 L95.7 765.28 L95.7 765.03 L96.6 765.03 L96.6 765.02 L97.5 765.02 L97.5 765.27 L98.4 765.27 L98.4 765.17 L99.3 765.17 L99.3 764.34 L100.2 764.34 L100.2 763.86 L101.1 763.86 L101.1 763.7 L102 763.7 L102 763.81 L102.9 763.81 L102.9 764.23 L103.8 764.23 L103.8 764.07 L104.7 764.07 L104.7 764.11 L105.6 764.11 L105.6 763.88 L106.5 763.88 L106.5 763.39 L107.4 763.39 L107.4 764.32 L108.3 764.32 L108.3 763.86 L109.2 763.86 L109.2 763.42 L110.1 763.42 L110.1 763.27 L111 763.27 L111 762.53 L111.9 762.53 L111.9 761.18 L112.8 761.18 L112.8 759.44 L113.7 759.44 L113.7 757.67 L114.6 757.67 L114.6 756.79 L115.5 756.79 L115.5 755.52 L116.4 755.52 L116.4 755.14 L117.3 755.14 L117.3 755.14 L118.2 755.14 L118.2 755.14 L119.1 755.14 L119.1 755.14 L120 755.14 L120 755.14 L120.9 755.14 L120.9 755.14 L121.8 755.14 L121.8 755.14 L122.7 755.14 L122.7 755.14 L123.6 755.14 L123.6 755.14 L124.5 755.14 L124.5 755.14 L125.4 755.14 L125.4 755.14 L126.3 755.14 L126.3 755.14 L127.2 755.14 L127.2 755.14 L128.1 755.14 L128.1 755.14 L129 755.14 L129 755.72 L129.9 755.72 L129.9 755.94 L130.8 755.94 L130.8 755.14 L131.7 755.14 L131.7 755.14 L132.6 755.14 L132.6 755.14 L133.5 755.14 L133.5 755.14 L134.4 755.14 L134.4 755.14 L135.3 755.14 L135.3 756.69 L136.2 756.69 L136.2 755.14 L137.1 755.14 L137.1 755.14 L138 755.14 L138 755.14 L138.9 755.14 L138.9 755.14 L139.8 755.14 L139.8 755.14 L140.7 755.14 L140.7 755.14 L141.6 755.14 L141.6 755.14 L142.5 755.14 L142.5 755.14 L143.4 755.14 L143.4 756.2 L144.3 756.2 L144.3 755.14 L145.2 755.14 L145.2 755.14 L146.1 755.14 L146.1 755.14 L147 755.14 L147 755.14 L147.9 755.14 L147.9 755.14 L148.8 755.14 L148.8 755.14 L149.7 755.14 L149.7 755.79 L150.6 755.79 L150.6 755.14 L151.5 755.14 L151.5 755.14 L152.4 755.14 L152.4 755.14 L153.3 755.14 L153.3 755.14 L154.2 755.14 L154.2 755.14 L155.1 755.14 L155.1 755.87 L156 755.87 L156 755.14 L156.9 755.14 L156.9 755.69 L157.8 755.69 L157.8 755.14 L158.7 755.14 L158.7 755.14 L159.6 755.14 L159.6 755.14 L160.5 755.14 L160.5 755.14 L161.4 755.14 L161.4 755.14 L162.3 755.14 L162.3 756.73 L163.2 756.73 L163.2 755.14 L164.1 755.14 L164.1 755.14 L165 755.14 L165 755.14 L165.9 755.14 L165.9 755.26 L166.8 755.26 L166.8 755.14 L167.7 755.14 L167.7 755.14 L168.6 755.14 L168.6 756.07 L169.5 756.07 L169.5 755.14 L170.4 755.14 L170.4 756.19 L171.3 756.19 L171.3 755.14 L172.2 755.14 L172.2 755.14 L173.1 755.14 L173.1 755.14 L174 755.14 L174 755.14 L174.9 755.14 L174.9 755.14 L175.8 755.14 L175.8 755.8 L176.7 755.8 L176.7 756.19 L177.6 756.19 L177.6 755.14 L178.5 755.14 L178.5 755.14 L179.4 755.14 L179.4 756.44 L180.3 756.44 L180.3 755.14 L181.2 755.14 L181.2 755.14 L182.1 755.14 L182.1 755.35 L183 755.35 L183 755.14 L183.9 755.14 L183.9 755.14 L184.8 755.14 L184.8 755.14 L185.7 755.14 L185.7 755.14 L186.6 755.14 L186.6 755.14 L187.5 755.14 L187.5 755.39 L188.4 755.39 L188.4 755.14 L189.3 755.14 L189.3 755.14 L190.2 755.14 L190.2 755.14 L191.1 755.14 L191.1 755.38 L192 755.38 L192 755.14 L192.9 755.14 L192.9 755.14 L193.8 755.14 L193.8 755.14 L194.7 755.14 L194.7 755.14 L195.6 755.14 L195.6 755.14 L196.5 755.14 L196.5 756.06 L197.4 756.06 L197.4 755.14 L198.3 755.14 L198.3 755.68 L199.2 755.68 L199.2 755.14 L200.1 755.14 L200.1 755.14 L201 755.14 L201 755.88 L201.9 755.88 L201.9 756.23 L202.8 756.23 L202.8 755.14 L203.7 755.14 L203.7 755.14 L204.6 755.14 L204.6 755.14 L205.5 755.14 L205.5 755.14 L206.4 755.14 L206.4 755.14 L207.3 755.14 L207.3 755.58 L208.2 755.58 L208.2 755.14 L209.1 755.14 L209.1 755.14 L210 755.14 L210 755.14 L210.9 755.14 L210.9 755.14 L211.8 755.14 L211.8 755.14 L212.7 755.14 L212.7 755.14 L213.6 755.14 L213.6 755.14 L214.5 755.14 L214.5 755.14 L215.4 755.14 L215.4 755.23 L216.3 755.23 L216.3 755.14 L217.2 755.14 L217.2 755.14 L218.1 755.14 L218.1 755.14 L219 755.14 L219 755.76 L219.9 755.76 L219.9 755.14 L220.8 755.14 L220.8 756.14 L221.7 756.14 L221.7 755.14 L222.6 755.14 L222.6 755.14 L223.5 755.14 L223.5 755.14 L224.4 755.14 L224.4 756.04 L225.3 756.04 L225.3 755.16 L226.2 755.16 L226.2 755.14 L227.1 755.14 L227.1 755.14 L228 755.14 L228 756.01 L228.9 756.01 L228.9 756.59 L229.8 756.59 L229.8 755.14 L230.7 755.14 L230.7 755.14 L231.6 755.14 L231.6 755.14 L232.5 755.14 L232.5 755.14 L233.4 755.14 L233.4 755.14 L234.3 755.14 L234.3 756.1 L235.2 756.1 L235.2 755.14 L236.1 755.14 L236.1 755.14 L237 755.14 L237 755.84 L237.9 755.84 L237.9 755.14 L238.8 755.14 L238.8 756.53 L239.7 756.53 L239.7 755.14 L240.6 755.14 L240.6 755.14 L241.5 755.14 L241.5 755.14 L242.4 755.14 L242.4 755.14 L243.3 755.14 L243.3 755.14 L244.2 755.14 L244.2 755.14 L245.1 755.14 L245.1 755.14 L246 755.14 L246 755.14 L246.9 755.14 L246.9 756.49 L247.8 756.49 L247.8 756.13 L248.7 756.13 L248.7 755.57 L249.6 755.57 L249.6 755.14 L250.5 755.14 L250.5 755.14 L251.4 755.14 L251.4 755.14 L252.3 755.14 L252.3 755.17 L253.2 755.17 L253.2 755.14 L254.1 755.14 L254.1 755.14 L255 755.14 L255 755.37 L255.9 755.37 L255.9 757.05 L256.8 757.05 L256.8 760.24 L257.7 760.24 L257.7 759.86 L258.6 759.86 L258.6 759.4 L259.5 759.4 L259.5 760.85 L260.4 760.85 L260.4 765.5 L261.3 765.5 L261.3 766.03 L262.2 766.03 L262.2 765.89 L263.1 765.89 L263.1 764.32 L264 764.32 L264 764.84 L264.9 764.84 L264.9 764.71 L265.8 764.71 L265.8 764.25 L266.7 764.25 L266.7 764.67 L267.6 764.67 L267.6 764.05 L268.5 764.05 L268.5 764.09 L269.4 764.09 L269.4 764.59 L270.3 764.59 L270.3 764.21 L271.2 764.21 L271.2 764.35 L272.1 764.35 L272.1 764.14 L273 764.14 L273 764.57 L273.9 764.57 L273.9 764.64 L274.8 764.64 L274.8 764.49 L275.7 764.49 L275.7 764.47 L276.6 764.47 L276.6 764.34 L277.5 764.34 L277.5 764.21 L278.4 764.21 L278.4 763.16 L279.3 763.16 L279.3 762.19 L280.2 762.19 L280.2 761.69 L281.1 761.69 L281.1 762.07 L282 762.07 L282 760.37 L282.9 760.37 L282.9 759.52 L283.8 759.52 L283.8 761.67 L284.7 761.67 L284.7 761.11 L285.6 761.11 L285.6 761.48 L286.5 761.48 L286.5 762.85 L287.4 762.85 L287.4 762.72 L288.3 762.72 L288.3 762.8 L289.2 762.8 L289.2 763.51 L290.1 763.51 L290.1 764.41 L291 764.41 L291 764.43 L291.9 764.43 L291.9 764.4 L292.8 764.4 L292.8 764.73 L293.7 764.73 L293.7 764 L294.6 764 L294.6 763.9 L295.5 763.9 L295.5 764.66 L296.4 764.66 L296.4 764.75 L297.3 764.75 L297.3 764.43 L298.2 764.43 L298.2 764.81 L299.1 764.81 L299.1 763.53 L300 763.53 L300 764.1 L300.9 764.1 L300.9 764.63 L301.8 764.63 L301.8 764.52 L302.7 764.52 L302.7 764.32 L303.6 764.32 L303.6 764.78 L304.5 764.78 L304.5 764.45 L305.4 764.45 L305.4 764.88 L306.3 764.88 L306.3 764.13 L307.2 764.13 L307.2 764.15 L308.1 764.15 L308.1 764.31 L309 764.31 L309 764.49 L309.9 764.49 L309.9 764.23 L310.8 764.23 L310.8 764.78 L311.7 764.78 L311.7 765.02 L312.6 765.02 L312.6 765.5 L313.5 765.5 L313.5 765.54 L314.4 765.54 L314.4 764.92 L315.3 764.92 L315.3 765.2 L316.2 765.2 L316.2 764.91 L317.1 764.91 L317.1 765.11 L318 765.11 L318 765.11 L318.9 765.11 L318.9 765.12 L319.8 765.12 L319.8 764.93 L320.7 764.93 L320.7 766.12 L321.6 766.12 L321.6 766.21 L322.5 766.21 L322.5 766.11 L323.4 766.11 L323.4 765.99 L324.3 765.99 L324.3 766.08 L325.2 766.08 L325.2 766.03 L326.1 766.03 L326.1 766.02 L327 766.02 L327 766.2 L327.9 766.2 L327.9 765.95 L328.8 765.95 L328.8 766.03 L329.7 766.03 L329.7 766.2 L330.6 766.2 L330.6 766 L331.5 766 L331.5 766.12 L332.4 766.12 L332.4 766.18 L333.3 766.18 L333.3 765.96 L334.2 765.96 L334.2 766.07 L335.1 766.07 L335.1 766.01 L336 766.01 L336 766.19 L336.9 766.19 L336.9 766.01 L337.8 766.01 L337.8 766.21 L338.7 766.21 L338.7 766.16 L339.6 766.16 L339.6 766.13 L340.5 766.13 L340.5 766.23 L341.4 766.23 L341.4 766.06 L342.3 766.06 L342.3 766.17 L343.2 766.17 L343.2 766.15 L344.1 766.15 L344.1 766.03 L345 766.03 L345 766.11 L345.9 766.11 L345.9 765.98 L346.8 765.98 L346.8 766.06 L347.7 766.06 L347.7 765.99 L348.6 765.99 L348.6 766.07 L349.5 766.07 L349.5 765.97 L350.4 765.97 L350.4 765.99 L351.3 765.99 L351.3 766.18 L352.2 766.18 L352.2 766.02 L353.1 766.02 L353.1 766.13 L354 766.13 L354 766.02 L354.9 766.02 L354.9 766.04 L355.8 766.04 L355.8 766 L356.7 766 L356.7 766.2 L357.6 766.2 L357.6 766.13 L358.5 766.13 L358.5 766.02 L359.4 766.02 L359.4 765.96 L360.3 765.96 L360.3 766.03 L361.2 766.03 L361.2 766.22 L362.1 766.22 L362.1 766.06 L363 766.06 L363 766.2 L363.9 766.2 L363.9 766.08 L364.8 766.08 L364.8 766.01 L365.7 766.01 L365.7 766.2 L366.6 766.2 L366.6 765.97 L367.5 765.97 L367.5 766.04 L368.4 766.04 L368.4 766.16 L369.3 766.16 L369.3 766.18 L370.2 766.18 L370.2 766.1 L371.1 766.1 L371.1 766 L372 766 L372 766.07 L372.9 766.07 L372.9 766.2 L373.8 766.2 L373.8 766.22 L374.7 766.22 L374.7 766.2 L375.6 766.2 L375.6 766.01 L376.5 766.01 L376.5 766.18 L377.4 766.18 L377.4 766.07 L378.3 766.07 L378.3 766.15 L379.2 766.15 L379.2 766.04 L380.1 766.04 L380.1 766.12 L381 766.12 L381 766.19 L381.9 766.19 L381.9 765.98 L382.8 765.98 L382.8 766.08 L383.7 766.08 L383.7 766.04 L384.6 766.04 L384.6 766 L385.5 766 L385.5 765.96 L386.4 765.96 L386.4 766.23 L387.3 766.23 L387.3 766.13 L388.2 766.13 L388.2 766.19 L389.1 766.19 L389.1 766.09 L390 766.09 L390 765.99 L390.9 765.99 L390.9 766.01 L391.8 766.01 L391.8 766.22 L392.7 766.22 L392.7 766.18 L393.6 766.18 L393.6 766 L394.5 766 L394.5 766.04 L395.4 766.04 L395.4 766.12 L396.3 766.12 L396.3 766.1 L397.2 766.1 L397.2 766.19 L398.1 766.19 L398.1 765.99 L399 765.99 L399 766.12 L399.9 766.12 L399.9 765.99 L400.8 765.99 L400.8 766.06 L401.7 766.06 L401.7 766.21 L402.6 766.21 L402.6 766.14 L403.5 766.14 L403.5 766.17 L404.4 766.17 L404.4 765.98 L405.3 765.98 L405.3 766.07 L406.2 766.07 L406.2 766.22 L407.1 766.22 L407.1 766.18 L408 766.18 L408 766.13 L408.9 766.13 L408.9 766.1 L409.8 766.1 L409.8 766.07 L410.7 766.07 L410.7 766.12 L411.6 766.12 L411.6 766.13 L412.5 766.13 L412.5 766.23 L413.4 766.23 L413.4 766.07 L414.3 766.07 L414.3 766.14 L415.2 766.14 L415.2 766.22 L416.1 766.22 L416.1 766.1 L417 766.1 L417 765.95 L417.9 765.95 L417.9 766.22 L418.8 766.22 L418.8 766.19 L419.7 766.19 L419.7 766.04 L420.6 766.04 L420.6 766.15 L421.5 766.15 L421.5 766.15 L422.4 766.15 L422.4 766.09 L423.3 766.09 L423.3 766.16 L424.2 766.16 L424.2 766.07 L425.1 766.07 L425.1 766.08 L426 766.08 L426 765.96 L426.9 765.96 L426.9 765.95 L427.8 765.95 L427.8 766.22 L428.7 766.22 L428.7 766.07 L429.6 766.07 L429.6 766.01 L430.5 766.01 L430.5 765.99 L431.4 765.99 L431.4 766.01 L432.3 766.01 L432.3 766.05 L433.2 766.05 L433.2 766.05 L434.1 766.05 L434.1 766.13 L435 766.13 L435 766.15 L435.9 766.15 L435.9 766.01 L436.8 766.01 L436.8 765.99 L437.7 765.99 L437.7 765.97 L438.6 765.97 L438.6 766.04 L439.5 766.04 L439.5 766.14 L440.4 766.14 L440.4 766.02 L441.3 766.02 L441.3 766.02 L442.2 766.02 L442.2 764.94 L443.1 764.94 L443.1 764.91 L444 764.91 L444 765.06 L444.9 765.06 L444.9 764.97 L445.8 764.97 L445.8 765.14 L446.7 765.14 L446.7 765.3 L447.6 765.3 L447.6 765.02 L448.5 765.02 L448.5 765.21 L449.4 765.21 L449.4 765.12 L450.3 765.12 L450.3 764.72 L451.2 764.72 L451.2 764.96 L452.1 764.96 L452.1 764.97 L453 764.97 L453 764.85 L453.9 764.85 L453.9 765.31 L454.8 765.31 L454.8 765.18 L455.7 765.18 L455.7 765.3 L456.6 765.3 L456.6 765.33 L457.5 765.33 L457.5 765.18 L458.4 765.18 L458.4 765.47 L459.3 765.47 L459.3 765.34 L460.2 765.34 L460.2 765.27 L461.1 765.27 L461.1 765.57 L462 765.57 L462 765.36 L462.9 765.36 L462.9 765.5 L463.8 765.5 L463.8 765.46 L464.7 765.46 L464.7 765.62 L465.6 765.62 L465.6 765.35 L466.5 765.35 L466.5 765.36 L467.4 765.36 L467.4 765.63 L468.3 765.63 L468.3 765.16 L469.2 765.16 L469.2 765.28 L470.1 765.28 L470.1 765.55 L471 765.55 L471 765.57 L471.9 765.57 L471.9 765.35 L472.8 765.35 L472.8 765.29 L473.7 765.29 L473.7 765.24 L474.6 765.24 L474.6 765.23 L475.5 765.23 L475.5 765.22 L476.4 765.22 L476.4 765.46 L477.3 765.46 L477.3 765.25 L478.2 765.25 L478.2 765.26 L479.1 765.26 L479.1 765.09 L480 765.09 L480 765.26 L480.9 765.26 L480.9 765.54 L481.8 765.54 L481.8 765.48 L482.7 765.48 L482.7 765.49 L483.6 765.49 L483.6 765.09 L484.5 765.09 L484.5 765.16 L485.4 765.16 L485.4 765.3 L486.3 765.3 L486.3 765.13 L487.2 765.13 L487.2 765.07 L488.1 765.07 L488.1 765.51 L489 765.51 L489 765.08 L489.9 765.08 L489.9 765.32 L490.8 765.32 L490.8 765.2 L491.7 765.2 L491.7 765.39 L492.6 765.39 L492.6 765.41 L493.5 765.41 L493.5 765.36 L494.4 765.36 L494.4 765.21 L495.3 765.21 L495.3 764.76 L496.2 764.76 L496.2 764.14 L497.1 764.14 L497.1 764.43 L498 764.43 L498 764.23 L498.9 764.23 L498.9 764.31 L499.8 764.31 L499.8 764.01 L500.7 764.01 L500.7 764 L501.6 764 L501.6 763.86 L502.5 763.86 L502.5 764.68 L503.4 764.68 L503.4 763.89 L504.3 763.89 L504.3 764.67 L505.2 764.67 L505.2 764.66 L506.1 764.66 L506.1 763.98 L507 763.98 L507 764.39 L507.9 764.39 L507.9 762.26 L508.8 762.26 L508.8 763.7 L509.7 763.7 L509.7 763.84 L510.6 763.84 L510.6 764.48 L511.5 764.48 L511.5 765.64 L512.4 765.64 L512.4 765.76 L513.3 765.76 L513.3 764.23 L514.2 764.23 L514.2 763.52 L515.1 763.52 L515.1 763.18 L516 763.18 L516 762.38 L516.9 762.38 L516.9 763.37 L517.8 763.37 L517.8 763.71 L518.7 763.71 L518.7 763.23 L519.6 763.23 L519.6 763.85 L520.5 763.85 L520.5 763.1 L521.4 763.1 L521.4 762.49 L522.3 762.49 L522.3 762.92 L523.2 762.92 L523.2 763.53 L524.1 763.53 L524.1 763.46 L525 763.46 L525 763.84 L525.9 763.84 L525.9 763.23 L526.8 763.23 L526.8 763.26 L527.7 763.26 L527.7 763.85 L528.6 763.85 L528.6 763.11 L529.5 763.11 L529.5 763.26 L530.4 763.26 L530.4 763.49 L531.3 763.49 L531.3 764.23 L532.2 764.23 L532.2 763.62 L533.1 763.62 L533.1 764 L534 764 L534 763.85 L534.9 763.85 L534.9 763.7 L535.8 763.7 L535.8 763.99 L536.7 763.99 L536.7 764.14 L537.6 764.14 L537.6 763.37 L538.5 763.37 L538.5 763.85 L539.4 763.85 L539.4 764.32 L540.3 764.32 L540.3 763.93 L541.2 763.93 L541.2 764.28 L542.1 764.28 L542.1 764.07 L543 764.07 L543 763.64 L543.9 763.64 L543.9 764.22 L544.8 764.22 L544.8 764.52 L545.7 764.52 L545.7 765.01 L546.6 765.01 L546.6 764.93 L547.5 764.93 L547.5 765.01 L548.4 765.01 L548.4 764.97 L549.3 764.97 L549.3 764.77 L550.2 764.77 L550.2 765.03 L551.1 765.03 L551.1 765.03 L552 765.03 L552 765.27 L552.9 765.27 L552.9 765.24 L553.8 765.24 L553.8 765.09 L554.7 765.09 L554.7 764.71 L555.6 764.71 L555.6 764.21 L556.5 764.21 L556.5 763.92 L557.4 763.92 L557.4 764.62 L558.3 764.62 L558.3 763.88 L559.2 763.88 L559.2 763.89 L560.1 763.89 L560.1 764.12 L561 764.12 L561 764.29 L561.9 764.29 L561.9 764.63 L562.8 764.63 L562.8 765.37 L563.7 765.37 L563.7 765.23 L564.6 765.23 L564.6 764.7 L565.5 764.7 L565.5 765.26 L566.4 765.26 L566.4 765.29 L567.3 765.29 L567.3 763.18 L568.2 763.18 L568.2 762.42 L569.1 762.42 L569.1 762.39 L570 762.39 L570 763.42 L570.9 763.42 L570.9 762 L571.8 762 L571.8 763.03 L572.7 763.03 L572.7 761.56 L573.6 761.56 L573.6 762.84 L574.5 762.84 L574.5 761.73 L575.4 761.73 L575.4 761.33 L576.3 761.33 L576.3 761.6 L577.2 761.6 L577.2 761.05 L578.1 761.05 L578.1 761.48 L579 761.48 L579 761.18 L579.9 761.18 L579.9 762.73 L580.8 762.73 L580.8 760.88 L581.7 760.88 L581.7 761.49 L582.6 761.49 L582.6 762.97 L583.5 762.97 L583.5 762.14 L584.4 762.14 L584.4 762.9 L585.3 762.9 L585.3 763.77 L586.2 763.77 L586.2 763.24 L587.1 763.24 L587.1 765.48 L588 765.48 L588 766.13 L588.9 766.13 L588.9 766.1 L589.8 766.1 L589.8 766.09 L590.7 766.09 L590.7 766.07 L591.6 766.07 L591.6 766.13 L592.5 766.13 L592.5 764.74 L593.4 764.74 L593.4 764.9 L594.3 764.9 L594.3 764.92 L595.2 764.92 L595.2 765.06 L596.1 765.06 L596.1 765.08 L597 765.08 L597 764.88 L597.9 764.88 L597.9 764.98 L598.8 764.98 L598.8 766.11 L599.7 766.11 L599.7 766.05 L600.6 766.05 L600.6 766.22 L601.5 766.22 L601.5 765.99 L602.4 765.99 L602.4 766.21 L603.3 766.21 L603.3 766.06 L604.2 766.06 L604.2 766.18 L605.1 766.18 L605.1 765.97 L606 765.97 L606 766.07 L606.9 766.07 L606.9 766.01 L607.8 766.01 L607.8 766.09 L608.7 766.09 L608.7 766.04 L609.6 766.04 L609.6 766.04 L610.5 766.04 L610.5 766.15 L611.4 766.15 L611.4 766.17 L612.3 766.17 L612.3 765.24 L613.2 765.24 L613.2 765.14 L614.1 765.14 L614.1 764.75 L615 764.75 L615 764.83 L615.9 764.83 L615.9 766.04 L616.8 766.04 L616.8 766.19 L617.7 766.19 L617.7 766.21 L618.6 766.21 L618.6 766.04 L619.5 766.04 L619.5 766.22 L620.4 766.22 L620.4 766 L621.3 766 L621.3 766.15 L622.2 766.15 L622.2 766.16 L623.1 766.16 L623.1 766.07 L624 766.07 L624 766.14 L624.9 766.14 L624.9 766.07 L625.8 766.07 L625.8 766.19 L626.7 766.19 L626.7 765.97 L627.6 765.97 L627.6 766.14 L628.5 766.14 L628.5 765.99 L629.4 765.99 L629.4 766.19 L630.3 766.19 L630.3 766.01 L631.2 766.01 L631.2 765.96 L632.1 765.96 L632.1 766.12 L633 766.12 L633 766.22 L633.9 766.22 L633.9 766.12 L634.8 766.12 L634.8 766.05 L635.7 766.05 L635.7 766.17 L636.6 766.17 L636.6 766.08 L637.5 766.08 L637.5 766.2 L638.4 766.2 L638.4 766.1 L639.3 766.1 L639.3 766.03 L640.2 766.03 L640.2 766.11 L641.1 766.11 L641.1 766.04 L642 766.04 L642 766.2 L642.9 766.2 L642.9 766 L643.8 766 L643.8 766.2 L644.7 766.2 L644.7 765.97 L645.6 765.97 L645.6 764.73 L646.5 764.73 L646.5 765.17 L647.4 765.17 L647.4 765.04 L648.3 765.04 L648.3 765.05 L649.2 765.05 L649.2 765.01 L650.1 765.01 L650.1 765.37 L651 765.37 L651 766.17 L651.9 766.17 L651.9 765.97 L652.8 765.97 L652.8 766.22 L653.7 766.22 L653.7 766.06 L654.6 766.06 L654.6 765.96 L655.5 765.96 L655.5 766.13 L656.4 766.13 L656.4 765.97 L657.3 765.97 L657.3 766.05 L658.2 766.05 L658.2 766.22 L659.1 766.22 L659.1 766.14 L660 766.14 L660 766.1 L660.9 766.1 L660.9 766.16 L661.8 766.16 L661.8 766.02 L662.7 766.02 L662.7 766.18 L663.6 766.18 L663.3 766.44 Z" fill="#4b8ff2"/>
<line x1="59.7" y1="780.86" x2="663.3" y2="780.86" stroke="#9ccfcf" stroke-width="0.7"/>
<path d="M59.7 780.86 L59.7 780.43 L60.6 780.43 L60.6 780.56 L61.5 780.56 L61.5 780.63 L62.4 780.63 L62.4 780.49 L63.3 780.49 L63.3 780.62 L64.2 780.62 L64.2 780.49 L65.1 780.49 L65.1 780.42 L66 780.42 L66 780.47 L66.9 780.47 L66.9 780.51 L67.8 780.51 L67.8 780.63 L68.7 780.63 L68.7 780.49 L69.6 780.49 L69.6 780.61 L70.5 780.61 L70.5 780.45 L71.4 780.45 L71.4 780.6 L72.3 780.6 L72.3 780.47 L73.2 780.47 L73.2 780.53 L74.1 780.53 L74.1 780.52 L75 780.52 L75 780.44 L75.9 780.44 L75.9 780.58 L76.8 780.58 L76.8 780.58 L77.7 780.58 L77.7 780.35 L78.6 780.35 L78.6 780.53 L79.5 780.53 L79.5 780.37 L80.4 780.37 L80.4 780.36 L81.3 780.36 L81.3 780.48 L82.2 780.48 L82.2 780.58 L83.1 780.58 L83.1 780.6 L84 780.6 L84 780.35 L84.9 780.35 L84.9 780.59 L85.8 780.59 L85.8 780.47 L86.7 780.47 L86.7 780.45 L87.6 780.45 L87.6 780.59 L88.5 780.59 L88.5 780.47 L89.4 780.47 L89.4 780.57 L90.3 780.57 L90.3 780.26 L91.2 780.26 L91.2 779.86 L92.1 779.86 L92.1 779.9 L93 779.9 L93 779.98 L93.9 779.98 L93.9 779.33 L94.8 779.33 L94.8 779.87 L95.7 779.87 L95.7 779.77 L96.6 779.77 L96.6 780.02 L97.5 780.02 L97.5 779.91 L98.4 779.91 L98.4 779.68 L99.3 779.68 L99.3 779.98 L100.2 779.98 L100.2 779.77 L101.1 779.77 L101.1 779.82 L102 779.82 L102 779.81 L102.9 779.81 L102.9 779.93 L103.8 779.93 L103.8 779.31 L104.7 779.31 L104.7 779.9 L105.6 779.9 L105.6 779.97 L106.5 779.97 L106.5 780.02 L107.4 780.02 L107.4 780 L108.3 780 L108.3 779.65 L109.2 779.65 L109.2 779.87 L110.1 779.87 L110.1 779.68 L111 779.68 L111 780 L111.9 780 L111.9 779.73 L112.8 779.73 L112.8 779.93 L113.7 779.93 L113.7 779.78 L114.6 779.78 L114.6 779.71 L115.5 779.71 L115.5 779.75 L116.4 779.75 L116.4 779.82 L117.3 779.82 L117.3 779.73 L118.2 779.73 L118.2 779.65 L119.1 779.65 L119.1 780.03 L120 780.03 L120 779.97 L120.9 779.97 L120.9 780 L121.8 780 L121.8 779.86 L122.7 779.86 L122.7 779.77 L123.6 779.77 L123.6 779.73 L124.5 779.73 L124.5 779.71 L125.4 779.71 L125.4 779.36 L126.3 779.36 L126.3 778.46 L127.2 778.46 L127.2 779.46 L128.1 779.46 L128.1 780.04 L129 780.04 L129 779.81 L129.9 779.81 L129.9 779.99 L130.8 779.99 L130.8 779.81 L131.7 779.81 L131.7 779.96 L132.6 779.96 L132.6 779.79 L133.5 779.79 L133.5 779.78 L134.4 779.78 L134.4 780 L135.3 780 L135.3 779.92 L136.2 779.92 L136.2 779.81 L137.1 779.81 L137.1 779.86 L138 779.86 L138 779.64 L138.9 779.64 L138.9 780.01 L139.8 780.01 L139.8 780.01 L140.7 780.01 L140.7 779.72 L141.6 779.72 L141.6 780.04 L142.5 780.04 L142.5 779.85 L143.4 779.85 L143.4 779.68 L144.3 779.68 L144.3 779.8 L145.2 779.8 L145.2 779.92 L146.1 779.92 L146.1 779.82 L147 779.82 L147 778.49 L147.9 778.49 L147.9 779.16 L148.8 779.16 L148.8 779.78 L149.7 779.78 L149.7 779.75 L150.6 779.75 L150.6 779.41 L151.5 779.41 L151.5 780.02 L152.4 780.02 L152.4 780.02 L153.3 780.02 L153.3 780.06 L154.2 780.06 L154.2 779.8 L155.1 779.8 L155.1 779.95 L156 779.95 L156 779.64 L156.9 779.64 L156.9 779.78 L157.8 779.78 L157.8 779.77 L158.7 779.77 L158.7 780.01 L159.6 780.01 L159.6 779.73 L160.5 779.73 L160.5 779.85 L161.4 779.85 L161.4 779.75 L162.3 779.75 L162.3 780.06 L163.2 780.06 L163.2 779.65 L164.1 779.65 L164.1 779.95 L165 779.95 L165 779.94 L165.9 779.94 L165.9 779.97 L166.8 779.97 L166.8 779.65 L167.7 779.65 L167.7 779.68 L168.6 779.68 L168.6 779.8 L169.5 779.8 L169.5 780.02 L170.4 780.02 L170.4 779.83 L171.3 779.83 L171.3 779.96 L172.2 779.96 L172.2 779.85 L173.1 779.85 L173.1 779.97 L174 779.97 L174 779.71 L174.9 779.71 L174.9 779.66 L175.8 779.66 L175.8 780.05 L176.7 780.05 L176.7 779.78 L177.6 779.78 L177.6 780.03 L178.5 780.03 L178.5 779.65 L179.4 779.65 L179.4 779.74 L180.3 779.74 L180.3 779.75 L181.2 779.75 L181.2 779.72 L182.1 779.72 L182.1 779.69 L183 779.69 L183 779.78 L183.9 779.78 L183.9 779.93 L184.8 779.93 L184.8 779.86 L185.7 779.86 L185.7 779.82 L186.6 779.82 L186.6 779.96 L187.5 779.96 L187.5 779.71 L188.4 779.71 L188.4 779.75 L189.3 779.75 L189.3 779.68 L190.2 779.68 L190.2 779.79 L191.1 779.79 L191.1 779.77 L192 779.77 L192 779.96 L192.9 779.96 L192.9 779.71 L193.8 779.71 L193.8 779.52 L194.7 779.52 L194.7 778.59 L195.6 778.59 L195.6 779.48 L196.5 779.48 L196.5 779.66 L197.4 779.66 L197.4 780.02 L198.3 780.02 L198.3 779.88 L199.2 779.88 L199.2 780.07 L200.1 780.07 L200.1 779.98 L201 779.98 L201 779.94 L201.9 779.94 L201.9 779.73 L202.8 779.73 L202.8 779.72 L203.7 779.72 L203.7 779.4 L204.6 779.4 L204.6 779.89 L205.5 779.89 L205.5 779.76 L206.4 779.76 L206.4 779.85 L207.3 779.85 L207.3 779.69 L208.2 779.69 L208.2 778.81 L209.1 778.81 L209.1 779.57 L210 779.57 L210 779.88 L210.9 779.88 L210.9 779.88 L211.8 779.88 L211.8 779.89 L212.7 779.89 L212.7 779.74 L213.6 779.74 L213.6 779.98 L214.5 779.98 L214.5 779.94 L215.4 779.94 L215.4 779.61 L216.3 779.61 L216.3 779.63 L217.2 779.63 L217.2 780.02 L218.1 780.02 L218.1 779.64 L219 779.64 L219 779.92 L219.9 779.92 L219.9 779.74 L220.8 779.74 L220.8 780.02 L221.7 780.02 L221.7 779.6 L222.6 779.6 L222.6 779.98 L223.5 779.98 L223.5 779.65 L224.4 779.65 L224.4 779.58 L225.3 779.58 L225.3 779.62 L226.2 779.62 L226.2 779.74 L227.1 779.74 L227.1 779.6 L228 779.6 L228 779.66 L228.9 779.66 L228.9 779.79 L229.8 779.79 L229.8 779.59 L230.7 779.59 L230.7 779.99 L231.6 779.99 L231.6 779.48 L232.5 779.48 L232.5 779.59 L233.4 779.59 L233.4 779.53 L234.3 779.53 L234.3 779.82 L235.2 779.82 L235.2 779.73 L236.1 779.73 L236.1 779.85 L237 779.85 L237 779.91 L237.9 779.91 L237.9 779.86 L238.8 779.86 L238.8 779.63 L239.7 779.63 L239.7 779.92 L240.6 779.92 L240.6 779.71 L241.5 779.71 L241.5 779.57 L242.4 779.57 L242.4 779.58 L243.3 779.58 L243.3 779.46 L244.2 779.46 L244.2 779.81 L245.1 779.81 L245.1 779.72 L246 779.72 L246 779.59 L246.9 779.59 L246.9 779.32 L247.8 779.32 L247.8 778.83 L248.7 778.83 L248.7 776.98 L249.6 776.98 L249.6 776.62 L250.5 776.62 L250.5 775.95 L251.4 775.95 L251.4 776.08 L252.3 776.08 L252.3 776.05 L253.2 776.05 L253.2 775.17 L254.1 775.17 L254.1 772.42 L255 772.42 L255 771.19 L255.9 771.19 L255.9 772.1 L256.8 772.1 L256.8 770.79 L257.7 770.79 L257.7 769.56 L258.6 769.56 L258.6 770.76 L259.5 770.76 L259.5 771.7 L260.4 771.7 L260.4 773.19 L261.3 773.19 L261.3 773.42 L262.2 773.42 L262.2 776.14 L263.1 776.14 L263.1 775.92 L264 775.92 L264 776.97 L264.9 776.97 L264.9 777.28 L265.8 777.28 L265.8 777.25 L266.7 777.25 L266.7 779.35 L267.6 779.35 L267.6 779.92 L268.5 779.92 L268.5 780.24 L269.4 780.24 L269.4 780.33 L270.3 780.33 L270.3 780.45 L271.2 780.45 L271.2 780.15 L272.1 780.15 L272.1 780.09 L273 780.09 L273 780.09 L273.9 780.09 L273.9 780.45 L274.8 780.45 L274.8 780.32 L275.7 780.32 L275.7 780.35 L276.6 780.35 L276.6 780.13 L277.5 780.13 L277.5 780.43 L278.4 780.43 L278.4 780.21 L279.3 780.21 L279.3 780.03 L280.2 780.03 L280.2 780.13 L281.1 780.13 L281.1 780.5 L282 780.5 L282 780.46 L282.9 780.46 L282.9 780.45 L283.8 780.45 L283.8 779.75 L284.7 779.75 L284.7 778.9 L285.6 778.9 L285.6 778.73 L286.5 778.73 L286.5 778.59 L287.4 778.59 L287.4 780.39 L288.3 780.39 L288.3 780.61 L289.2 780.61 L289.2 780.4 L290.1 780.4 L290.1 780.35 L291 780.35 L291 780.48 L291.9 780.48 L291.9 780.34 L292.8 780.34 L292.8 780.56 L293.7 780.56 L293.7 780.32 L294.6 780.32 L294.6 780.48 L295.5 780.48 L295.5 780.39 L296.4 780.39 L296.4 780.54 L297.3 780.54 L297.3 780.52 L298.2 780.52 L298.2 780.51 L299.1 780.51 L299.1 780.52 L300 780.52 L300 780.59 L300.9 780.59 L300.9 780.48 L301.8 780.48 L301.8 780.31 L302.7 780.31 L302.7 780.41 L303.6 780.41 L303.6 780.32 L304.5 780.32 L304.5 780.38 L305.4 780.38 L305.4 780.35 L306.3 780.35 L306.3 780.3 L307.2 780.3 L307.2 780.38 L308.1 780.38 L308.1 780.53 L309 780.53 L309 780.54 L309.9 780.54 L309.9 780.49 L310.8 780.49 L310.8 780.61 L311.7 780.61 L311.7 780.55 L312.6 780.55 L312.6 780.34 L313.5 780.34 L313.5 780.33 L314.4 780.33 L314.4 780.51 L315.3 780.51 L315.3 780.37 L316.2 780.37 L316.2 780.37 L317.1 780.37 L317.1 780.34 L318 780.34 L318 780.37 L318.9 780.37 L318.9 780.45 L319.8 780.45 L319.8 780.59 L320.7 780.59 L320.7 780.36 L321.6 780.36 L321.6 780.52 L322.5 780.52 L322.5 780.42 L323.4 780.42 L323.4 780.5 L324.3 780.5 L324.3 780.45 L325.2 780.45 L325.2 780.31 L326.1 780.31 L326.1 780.57 L327 780.57 L327 780.45 L327.9 780.45 L327.9 780.41 L328.8 780.41 L328.8 780.45 L329.7 780.45 L329.7 780.32 L330.6 780.32 L330.6 780.49 L331.5 780.49 L331.5 780.33 L332.4 780.33 L332.4 780.4 L333.3 780.4 L333.3 780.31 L334.2 780.31 L334.2 780.59 L335.1 780.59 L335.1 780.55 L336 780.55 L336 780.53 L336.9 780.53 L336.9 780.33 L337.8 780.33 L337.8 780.62 L338.7 780.62 L338.7 780.54 L339.6 780.54 L339.6 780.39 L340.5 780.39 L340.5 780.3 L341.4 780.3 L341.4 780.56 L342.3 780.56 L342.3 780.48 L343.2 780.48 L343.2 780.4 L344.1 780.4 L344.1 780.4 L345 780.4 L345 780.38 L345.9 780.38 L345.9 780.38 L346.8 780.38 L346.8 780.54 L347.7 780.54 L347.7 780.54 L348.6 780.54 L348.6 780.61 L349.5 780.61 L349.5 780.4 L350.4 780.4 L350.4 780.55 L351.3 780.55 L351.3 780.54 L352.2 780.54 L352.2 780.31 L353.1 780.31 L353.1 780.41 L354 780.41 L354 780.43 L354.9 780.43 L354.9 780.41 L355.8 780.41 L355.8 780.43 L356.7 780.43 L356.7 780.4 L357.6 780.4 L357.6 780.52 L358.5 780.52 L358.5 780.6 L359.4 780.6 L359.4 780.6 L360.3 780.6 L360.3 780.62 L361.2 780.62 L361.2 780.5 L362.1 780.5 L362.1 780.57 L363 780.57 L363 780.58 L363.9 780.58 L363.9 780.46 L364.8 780.46 L364.8 780.31 L365.7 780.31 L365.7 780.4 L366.6 780.4 L366.6 780.53 L367.5 780.53 L367.5 780.37 L368.4 780.37 L368.4 780.56 L369.3 780.56 L369.3 780.59 L370.2 780.59 L370.2 780.52 L371.1 780.52 L371.1 780.49 L372 780.49 L372 780.4 L372.9 780.4 L372.9 780.48 L373.8 780.48 L373.8 780.39 L374.7 780.39 L374.7 780.59 L375.6 780.59 L375.6 780.32 L376.5 780.32 L376.5 780.51 L377.4 780.51 L377.4 780.35 L378.3 780.35 L378.3 780.61 L379.2 780.61 L379.2 780.35 L380.1 780.35 L380.1 780.55 L381 780.55 L381 780.35 L381.9 780.35 L381.9 780.36 L382.8 780.36 L382.8 780.41 L383.7 780.41 L383.7 780.53 L384.6 780.53 L384.6 780.62 L385.5 780.62 L385.5 780.56 L386.4 780.56 L386.4 780.33 L387.3 780.33 L387.3 780.57 L388.2 780.57 L388.2 780.41 L389.1 780.41 L389.1 780.43 L390 780.43 L390 780.41 L390.9 780.41 L390.9 780.56 L391.8 780.56 L391.8 780.57 L392.7 780.57 L392.7 780.59 L393.6 780.59 L393.6 780.31 L394.5 780.31 L394.5 780.5 L395.4 780.5 L395.4 780.41 L396.3 780.41 L396.3 780.44 L397.2 780.44 L397.2 780.55 L398.1 780.55 L398.1 780.6 L399 780.6 L399 780.62 L399.9 780.62 L399.9 780.35 L400.8 780.35 L400.8 780.58 L401.7 780.58 L401.7 780.31 L402.6 780.31 L402.6 780.5 L403.5 780.5 L403.5 780.39 L404.4 780.39 L404.4 780.58 L405.3 780.58 L405.3 780.37 L406.2 780.37 L406.2 780.54 L407.1 780.54 L407.1 780.5 L408 780.5 L408 780.45 L408.9 780.45 L408.9 780.58 L409.8 780.58 L409.8 780.54 L410.7 780.54 L410.7 780.37 L411.6 780.37 L411.6 780.53 L412.5 780.53 L412.5 780.5 L413.4 780.5 L413.4 780.38 L414.3 780.38 L414.3 780.55 L415.2 780.55 L415.2 780.56 L416.1 780.56 L416.1 780.55 L417 780.55 L417 780.5 L417.9 780.5 L417.9 780.5 L418.8 780.5 L418.8 780.41 L419.7 780.41 L419.7 780.47 L420.6 780.47 L420.6 780.34 L421.5 780.34 L421.5 780.6 L422.4 780.6 L422.4 780.41 L423.3 780.41 L423.3 780.35 L424.2 780.35 L424.2 780.54 L425.1 780.54 L425.1 780.61 L426 780.61 L426 780.48 L426.9 780.48 L426.9 780.58 L427.8 780.58 L427.8 780.47 L428.7 780.47 L428.7 780.39 L429.6 780.39 L429.6 780.59 L430.5 780.59 L430.5 780.58 L431.4 780.58 L431.4 780.47 L432.3 780.47 L432.3 780.56 L433.2 780.56 L433.2 780.55 L434.1 780.55 L434.1 780.48 L435 780.48 L435 780.58 L435.9 780.58 L435.9 780.6 L436.8 780.6 L436.8 780.5 L437.7 780.5 L437.7 780.47 L438.6 780.47 L438.6 780.32 L439.5 780.32 L439.5 780.44 L440.4 780.44 L440.4 780.6 L441.3 780.6 L441.3 780.55 L442.2 780.55 L442.2 780.38 L443.1 780.38 L443.1 780.44 L444 780.44 L444 780.34 L444.9 780.34 L444.9 780.31 L445.8 780.31 L445.8 780.35 L446.7 780.35 L446.7 780.58 L447.6 780.58 L447.6 780.32 L448.5 780.32 L448.5 780.45 L449.4 780.45 L449.4 780.54 L450.3 780.54 L450.3 780.57 L451.2 780.57 L451.2 780.34 L452.1 780.34 L452.1 780.55 L453 780.55 L453 780.59 L453.9 780.59 L453.9 780.54 L454.8 780.54 L454.8 780.32 L455.7 780.32 L455.7 780.12 L456.6 780.12 L456.6 779.98 L457.5 779.98 L457.5 779.89 L458.4 779.89 L458.4 779.76 L459.3 779.76 L459.3 780.16 L460.2 780.16 L460.2 780.15 L461.1 780.15 L461.1 779.94 L462 779.94 L462 779.92 L462.9 779.92 L462.9 779.84 L463.8 779.84 L463.8 779.82 L464.7 779.82 L464.7 780.09 L465.6 780.09 L465.6 779.8 L466.5 779.8 L466.5 780.15 L467.4 780.15 L467.4 780.08 L468.3 780.08 L468.3 779.78 L469.2 779.78 L469.2 780.16 L470.1 780.16 L470.1 779.97 L471 779.97 L471 779.96 L471.9 779.96 L471.9 780.07 L472.8 780.07 L472.8 779.76 L473.7 779.76 L473.7 779.77 L474.6 779.77 L474.6 780.02 L475.5 780.02 L475.5 780.01 L476.4 780.01 L476.4 780.16 L477.3 780.16 L477.3 779.98 L478.2 779.98 L478.2 780.11 L479.1 780.11 L479.1 779.77 L480 779.77 L480 779.95 L480.9 779.95 L480.9 780.14 L481.8 780.14 L481.8 779.93 L482.7 779.93 L482.7 779.8 L483.6 779.8 L483.6 779.77 L484.5 779.77 L484.5 780 L485.4 780 L485.4 779.9 L486.3 779.9 L486.3 780.05 L487.2 780.05 L487.2 779.99 L488.1 779.99 L488.1 779.84 L489 779.84 L489 780.12 L489.9 780.12 L489.9 779.93 L490.8 779.93 L490.8 779.77 L491.7 779.77 L491.7 779.8 L492.6 779.8 L492.6 779.88 L493.5 779.88 L493.5 780.01 L494.4 780.01 L494.4 780.13 L495.3 780.13 L495.3 779.97 L496.2 779.97 L496.2 780.16 L497.1 780.16 L497.1 779.88 L498 779.88 L498 779.77 L498.9 779.77 L498.9 779.99 L499.8 779.99 L499.8 780 L500.7 780 L500.7 780.07 L501.6 780.07 L501.6 778.35 L502.5 778.35 L502.5 777.96 L503.4 777.96 L503.4 778.23 L504.3 778.23 L504.3 777.64 L505.2 777.64 L505.2 776.83 L506.1 776.83 L506.1 777.7 L507 777.7 L507 777.96 L507.9 777.96 L507.9 777.18 L508.8 777.18 L508.8 777.63 L509.7 777.63 L509.7 776.89 L510.6 776.89 L510.6 777.19 L511.5 777.19 L511.5 776.65 L512.4 776.65 L512.4 776.94 L513.3 776.94 L513.3 775.32 L514.2 775.32 L514.2 774.28 L515.1 774.28 L515.1 773.43 L516 773.43 L516 773.64 L516.9 773.64 L516.9 774.27 L517.8 774.27 L517.8 776.15 L518.7 776.15 L518.7 777.87 L519.6 777.87 L519.6 778.84 L520.5 778.84 L520.5 778.05 L521.4 778.05 L521.4 778.77 L522.3 778.77 L522.3 778.75 L523.2 778.75 L523.2 778.59 L524.1 778.59 L524.1 778.69 L525 778.69 L525 778.82 L525.9 778.82 L525.9 778.27 L526.8 778.27 L526.8 778.27 L527.7 778.27 L527.7 778.87 L528.6 778.87 L528.6 779.04 L529.5 779.04 L529.5 778.72 L530.4 778.72 L530.4 778.34 L531.3 778.34 L531.3 779.1 L532.2 779.1 L532.2 780.24 L533.1 780.24 L533.1 780.24 L534 780.24 L534 780.47 L534.9 780.47 L534.9 780.52 L535.8 780.52 L535.8 780.29 L536.7 780.29 L536.7 780.33 L537.6 780.33 L537.6 780.5 L538.5 780.5 L538.5 780.48 L539.4 780.48 L539.4 780.33 L540.3 780.33 L540.3 780.52 L541.2 780.52 L541.2 780.31 L542.1 780.31 L542.1 780.46 L543 780.46 L543 780.46 L543.9 780.46 L543.9 780.39 L544.8 780.39 L544.8 780.35 L545.7 780.35 L545.7 780.27 L546.6 780.27 L546.6 780.55 L547.5 780.55 L547.5 780.27 L548.4 780.27 L548.4 780.47 L549.3 780.47 L549.3 780.44 L550.2 780.44 L550.2 780.3 L551.1 780.3 L551.1 780.28 L552 780.28 L552 780.31 L552.9 780.31 L552.9 780.2 L553.8 780.2 L553.8 780.48 L554.7 780.48 L554.7 780.44 L555.6 780.44 L555.6 780.29 L556.5 780.29 L556.5 780.46 L557.4 780.46 L557.4 780.5 L558.3 780.5 L558.3 780.47 L559.2 780.47 L559.2 780.25 L560.1 780.25 L560.1 780.23 L561 780.23 L561 780.27 L561.9 780.27 L561.9 780.18 L562.8 780.18 L562.8 780.24 L563.7 780.24 L563.7 780.44 L564.6 780.44 L564.6 780.43 L565.5 780.43 L565.5 780.27 L566.4 780.27 L566.4 780.54 L567.3 780.54 L567.3 780.32 L568.2 780.32 L568.2 778.77 L569.1 778.77 L569.1 778.44 L570 778.44 L570 777.75 L570.9 777.75 L570.9 777.38 L571.8 777.38 L571.8 776.73 L572.7 776.73 L572.7 776.29 L573.6 776.29 L573.6 777.34 L574.5 777.34 L574.5 776.56 L575.4 776.56 L575.4 776.52 L576.3 776.52 L576.3 777.43 L577.2 777.43 L577.2 777.01 L578.1 777.01 L578.1 777.8 L579 777.8 L579 777.88 L579.9 777.88 L579.9 778.17 L580.8 778.17 L580.8 777.89 L581.7 777.89 L581.7 778.52 L582.6 778.52 L582.6 779 L583.5 779 L583.5 778.67 L584.4 778.67 L584.4 779.07 L585.3 779.07 L585.3 778.94 L586.2 778.94 L586.2 779.17 L587.1 779.17 L587.1 779 L588 779 L588 780.6 L588.9 780.6 L588.9 780.44 L589.8 780.44 L589.8 780.53 L590.7 780.53 L590.7 780.56 L591.6 780.56 L591.6 780.62 L592.5 780.62 L592.5 780.58 L593.4 780.58 L593.4 780.38 L594.3 780.38 L594.3 780.62 L595.2 780.62 L595.2 780.58 L596.1 780.58 L596.1 780.44 L597 780.44 L597 780.4 L597.9 780.4 L597.9 780.4 L598.8 780.4 L598.8 780.52 L599.7 780.52 L599.7 780.38 L600.6 780.38 L600.6 780.48 L601.5 780.48 L601.5 780.57 L602.4 780.57 L602.4 780.52 L603.3 780.52 L603.3 780.45 L604.2 780.45 L604.2 780.44 L605.1 780.44 L605.1 780.61 L606 780.61 L606 780.6 L606.9 780.6 L606.9 780.38 L607.8 780.38 L607.8 780.62 L608.7 780.62 L608.7 780.42 L609.6 780.42 L609.6 780.56 L610.5 780.56 L610.5 780.58 L611.4 780.58 L611.4 780.58 L612.3 780.58 L612.3 780.52 L613.2 780.52 L613.2 780.37 L614.1 780.37 L614.1 780.61 L615 780.61 L615 780.41 L615.9 780.41 L615.9 780.56 L616.8 780.56 L616.8 780.6 L617.7 780.6 L617.7 780.44 L618.6 780.44 L618.6 780.55 L619.5 780.55 L619.5 780.6 L620.4 780.6 L620.4 780.53 L621.3 780.53 L621.3 780.42 L622.2 780.42 L622.2 780.41 L623.1 780.41 L623.1 780.49 L624 780.49 L624 780.65 L624.9 780.65 L624.9 780.44 L625.8 780.44 L625.8 780.48 L626.7 780.48 L626.7 780.4 L627.6 780.4 L627.6 780.38 L628.5 780.38 L628.5 780.56 L629.4 780.56 L629.4 780.41 L630.3 780.41 L630.3 780.42 L631.2 780.42 L631.2 780.58 L632.1 780.58 L632.1 780.55 L633 780.55 L633 780.55 L633.9 780.55 L633.9 780.55 L634.8 780.55 L634.8 780.54 L635.7 780.54 L635.7 780.62 L636.6 780.62 L636.6 780.59 L637.5 780.59 L637.5 780.4 L638.4 780.4 L638.4 780.54 L639.3 780.54 L639.3 780.47 L640.2 780.47 L640.2 780.4 L641.1 780.4 L641.1 780.44 L642 780.44 L642 780.58 L642.9 780.58 L642.9 780.39 L643.8 780.39 L643.8 780.42 L644.7 780.42 L644.7 780.37 L645.6 780.37 L645.6 780.45 L646.5 780.45 L646.5 780.44 L647.4 780.44 L647.4 780.42 L648.3 780.42 L648.3 780.58 L649.2 780.58 L649.2 780.47 L650.1 780.47 L650.1 780.54 L651 780.54 L651 780.41 L651.9 780.41 L651.9 780.61 L652.8 780.61 L652.8 780.5 L653.7 780.5 L653.7 780.56 L654.6 780.56 L654.6 780.42 L655.5 780.42 L655.5 780.55 L656.4 780.55 L656.4 780.41 L657.3 780.41 L657.3 780.41 L658.2 780.41 L658.2 780.4 L659.1 780.4 L659.1 780.61 L660 780.61 L660 780.39 L660.9 780.39 L660.9 780.44 L661.8 780.44 L661.8 780.46 L662.7 780.46 L662.7 780.47 L663.6 780.47 L663.3 780.86 Z" fill="#2a9a9a"/>
<line x1="59.7" y1="795.28" x2="663.3" y2="795.28" stroke="#90cd90" stroke-width="0.7"/>
<path d="M59.7 795.28 L59.7 794.48 L60.6 794.48 L60.6 794.3 L61.5 794.3 L61.5 794.15 L62.4 794.15 L62.4 794.35 L63.3 794.35 L63.3 794.08 L64.2 794.08 L64.2 794.4 L65.1 794.4 L65.1 794.17 L66 794.17 L66 794.32 L66.9 794.32 L66.9 794.37 L67.8 794.37 L67.8 794.29 L68.7 794.29 L68.7 794.36 L69.6 794.36 L69.6 794.46 L70.5 794.46 L70.5 794.27 L71.4 794.27 L71.4 794.11 L72.3 794.11 L72.3 794.34 L73.2 794.34 L73.2 794.19 L74.1 794.19 L74.1 793.54 L75 793.54 L75 791.99 L75.9 791.99 L75.9 792.25 L76.8 792.25 L76.8 793.6 L77.7 793.6 L77.7 794.14 L78.6 794.14 L78.6 794.06 L79.5 794.06 L79.5 794.19 L80.4 794.19 L80.4 794.37 L81.3 794.37 L81.3 794.42 L82.2 794.42 L82.2 794.2 L83.1 794.2 L83.1 794.06 L84 794.06 L84 794.42 L84.9 794.42 L84.9 794.16 L85.8 794.16 L85.8 794.09 L86.7 794.09 L86.7 793.86 L87.6 793.86 L87.6 793.33 L88.5 793.33 L88.5 793.59 L89.4 793.59 L89.4 793.37 L90.3 793.37 L90.3 793.76 L91.2 793.76 L91.2 793.54 L92.1 793.54 L92.1 793.91 L93 793.91 L93 793.29 L93.9 793.29 L93.9 793.45 L94.8 793.45 L94.8 793.09 L95.7 793.09 L95.7 793.21 L96.6 793.21 L96.6 793.19 L97.5 793.19 L97.5 792.97 L98.4 792.97 L98.4 793.37 L99.3 793.37 L99.3 793.02 L100.2 793.02 L100.2 791.84 L101.1 791.84 L101.1 792.04 L102 792.04 L102 792.25 L102.9 792.25 L102.9 791.59 L103.8 791.59 L103.8 792.31 L104.7 792.31 L104.7 793.17 L105.6 793.17 L105.6 793.56 L106.5 793.56 L106.5 792.85 L107.4 792.85 L107.4 793.3 L108.3 793.3 L108.3 793.59 L109.2 793.59 L109.2 793.08 L110.1 793.08 L110.1 793.39 L111 793.39 L111 793.08 L111.9 793.08 L111.9 792.92 L112.8 792.92 L112.8 792.93 L113.7 792.93 L113.7 793.13 L114.6 793.13 L114.6 793.31 L115.5 793.31 L115.5 793.09 L116.4 793.09 L116.4 793.56 L117.3 793.56 L117.3 792.97 L118.2 792.97 L118.2 793.38 L119.1 793.38 L119.1 793.32 L120 793.32 L120 792.86 L120.9 792.86 L120.9 793.39 L121.8 793.39 L121.8 793.35 L122.7 793.35 L122.7 793.19 L123.6 793.19 L123.6 793.23 L124.5 793.23 L124.5 793.11 L125.4 793.11 L125.4 793.33 L126.3 793.33 L126.3 792.82 L127.2 792.82 L127.2 793.36 L128.1 793.36 L128.1 792.34 L129 792.34 L129 793.61 L129.9 793.61 L129.9 793.45 L130.8 793.45 L130.8 792.97 L131.7 792.97 L131.7 792.76 L132.6 792.76 L132.6 793.57 L133.5 793.57 L133.5 793.47 L134.4 793.47 L134.4 793.28 L135.3 793.28 L135.3 792.93 L136.2 792.93 L136.2 793.61 L137.1 793.61 L137.1 793.62 L138 793.62 L138 793.53 L138.9 793.53 L138.9 793.05 L139.8 793.05 L139.8 793.29 L140.7 793.29 L140.7 793.25 L141.6 793.25 L141.6 792.69 L142.5 792.69 L142.5 793.46 L143.4 793.46 L143.4 793.28 L144.3 793.28 L144.3 793.11 L145.2 793.11 L145.2 793.19 L146.1 793.19 L146.1 793.18 L147 793.18 L147 793.29 L147.9 793.29 L147.9 792.78 L148.8 792.78 L148.8 793.47 L149.7 793.47 L149.7 792.23 L150.6 792.23 L150.6 792.84 L151.5 792.84 L151.5 792.82 L152.4 792.82 L152.4 793.04 L153.3 793.04 L153.3 792.65 L154.2 792.65 L154.2 792.99 L155.1 792.99 L155.1 793.32 L156 793.32 L156 792.81 L156.9 792.81 L156.9 792.91 L157.8 792.91 L157.8 793.32 L158.7 793.32 L158.7 792.73 L159.6 792.73 L159.6 792.66 L160.5 792.66 L160.5 792.82 L161.4 792.82 L161.4 792.99 L162.3 792.99 L162.3 793.13 L163.2 793.13 L163.2 792.77 L164.1 792.77 L164.1 793.43 L165 793.43 L165 792.8 L165.9 792.8 L165.9 792.87 L166.8 792.87 L166.8 792.79 L167.7 792.79 L167.7 793.23 L168.6 793.23 L168.6 792.54 L169.5 792.54 L169.5 792.91 L170.4 792.91 L170.4 793.02 L171.3 793.02 L171.3 792.5 L172.2 792.5 L172.2 792.7 L173.1 792.7 L173.1 793.42 L174 793.42 L174 792.69 L174.9 792.69 L174.9 793.06 L175.8 793.06 L175.8 793.42 L176.7 793.42 L176.7 792.54 L177.6 792.54 L177.6 792.94 L178.5 792.94 L178.5 792.65 L179.4 792.65 L179.4 793.23 L180.3 793.23 L180.3 793.29 L181.2 793.29 L181.2 793.05 L182.1 793.05 L182.1 792.89 L183 792.89 L183 792.4 L183.9 792.4 L183.9 792.72 L184.8 792.72 L184.8 792.69 L185.7 792.69 L185.7 792.89 L186.6 792.89 L186.6 792.47 L187.5 792.47 L187.5 793.1 L188.4 793.1 L188.4 792.28 L189.3 792.28 L189.3 792.58 L190.2 792.58 L190.2 793.16 L191.1 793.16 L191.1 792.84 L192 792.84 L192 792.82 L192.9 792.82 L192.9 793.28 L193.8 793.28 L193.8 792.49 L194.7 792.49 L194.7 792.93 L195.6 792.93 L195.6 793.01 L196.5 793.01 L196.5 793.39 L197.4 793.39 L197.4 793.03 L198.3 793.03 L198.3 793.02 L199.2 793.02 L199.2 793.12 L200.1 793.12 L200.1 793.13 L201 793.13 L201 793.46 L201.9 793.46 L201.9 792.84 L202.8 792.84 L202.8 793.22 L203.7 793.22 L203.7 793.61 L204.6 793.61 L204.6 793.09 L205.5 793.09 L205.5 793.09 L206.4 793.09 L206.4 793.66 L207.3 793.66 L207.3 793.42 L208.2 793.42 L208.2 793.32 L209.1 793.32 L209.1 792.24 L210 792.24 L210 793.53 L210.9 793.53 L210.9 792.83 L211.8 792.83 L211.8 793.21 L212.7 793.21 L212.7 793.31 L213.6 793.31 L213.6 792.91 L214.5 792.91 L214.5 792.99 L215.4 792.99 L215.4 793.34 L216.3 793.34 L216.3 792.74 L217.2 792.74 L217.2 793.06 L218.1 793.06 L218.1 793.15 L219 793.15 L219 793.42 L219.9 793.42 L219.9 793.52 L220.8 793.52 L220.8 793.51 L221.7 793.51 L221.7 793.12 L222.6 793.12 L222.6 793.64 L223.5 793.64 L223.5 793.42 L224.4 793.42 L224.4 792.86 L225.3 792.86 L225.3 793.19 L226.2 793.19 L226.2 792.91 L227.1 792.91 L227.1 792.84 L228 792.84 L228 792.75 L228.9 792.75 L228.9 793.56 L229.8 793.56 L229.8 793.54 L230.7 793.54 L230.7 793.32 L231.6 793.32 L231.6 793.38 L232.5 793.38 L232.5 793.3 L233.4 793.3 L233.4 793.2 L234.3 793.2 L234.3 793.49 L235.2 793.49 L235.2 793.45 L236.1 793.45 L236.1 793.11 L237 793.11 L237 792.88 L237.9 792.88 L237.9 793.43 L238.8 793.43 L238.8 792.95 L239.7 792.95 L239.7 793.59 L240.6 793.59 L240.6 793.39 L241.5 793.39 L241.5 792.6 L242.4 792.6 L242.4 792.92 L243.3 792.92 L243.3 792.9 L244.2 792.9 L244.2 793.44 L245.1 793.44 L245.1 792.16 L246 792.16 L246 792.33 L246.9 792.33 L246.9 791.97 L247.8 791.97 L247.8 790.91 L248.7 790.91 L248.7 791.33 L249.6 791.33 L249.6 790.97 L250.5 790.97 L250.5 790.13 L251.4 790.13 L251.4 789.9 L252.3 789.9 L252.3 790.79 L253.2 790.79 L253.2 788.35 L254.1 788.35 L254.1 789.25 L255 789.25 L255 788.02 L255.9 788.02 L255.9 788.7 L256.8 788.7 L256.8 788.59 L257.7 788.59 L257.7 788.82 L258.6 788.82 L258.6 786.45 L259.5 786.45 L259.5 789.83 L260.4 789.83 L260.4 787.88 L261.3 787.88 L261.3 790.17 L262.2 790.17 L262.2 789 L263.1 789 L263.1 790.21 L264 790.21 L264 791.4 L264.9 791.4 L264.9 790.95 L265.8 790.95 L265.8 790.04 L266.7 790.04 L266.7 790.97 L267.6 790.97 L267.6 791.88 L268.5 791.88 L268.5 792.51 L269.4 792.51 L269.4 793.04 L270.3 793.04 L270.3 792.87 L271.2 792.87 L271.2 792.58 L272.1 792.58 L272.1 792.68 L273 792.68 L273 792.49 L273.9 792.49 L273.9 792.94 L274.8 792.94 L274.8 792.35 L275.7 792.35 L275.7 792.18 L276.6 792.18 L276.6 792.93 L277.5 792.93 L277.5 792.31 L278.4 792.31 L278.4 793.02 L279.3 793.02 L279.3 792.91 L280.2 792.91 L280.2 792.41 L281.1 792.41 L281.1 792.35 L282 792.35 L282 792.52 L282.9 792.52 L282.9 793.19 L283.8 793.19 L283.8 792.14 L284.7 792.14 L284.7 792.13 L285.6 792.13 L285.6 792.87 L286.5 792.87 L286.5 792.4 L287.4 792.4 L287.4 792.95 L288.3 792.95 L288.3 792.22 L289.2 792.22 L289.2 792.75 L290.1 792.75 L290.1 792.13 L291 792.13 L291 792.94 L291.9 792.94 L291.9 792.88 L292.8 792.88 L292.8 793.31 L293.7 793.31 L293.7 793.95 L294.6 793.95 L294.6 794.11 L295.5 794.11 L295.5 793.89 L296.4 793.89 L296.4 793.8 L297.3 793.8 L297.3 793.94 L298.2 793.94 L298.2 794.01 L299.1 794.01 L299.1 793.79 L300 793.79 L300 792.68 L300.9 792.68 L300.9 792.64 L301.8 792.64 L301.8 791.69 L302.7 791.69 L302.7 792.52 L303.6 792.52 L303.6 792.27 L304.5 792.27 L304.5 792.53 L305.4 792.53 L305.4 791.74 L306.3 791.74 L306.3 791.62 L307.2 791.62 L307.2 792.26 L308.1 792.26 L308.1 794.05 L309 794.05 L309 794.14 L309.9 794.14 L309.9 794.29 L310.8 794.29 L310.8 794.33 L311.7 794.33 L311.7 794.15 L312.6 794.15 L312.6 794.33 L313.5 794.33 L313.5 794.39 L314.4 794.39 L314.4 794.06 L315.3 794.06 L315.3 794.15 L316.2 794.15 L316.2 794.46 L317.1 794.46 L317.1 794.28 L318 794.28 L318 794.27 L318.9 794.27 L318.9 794.28 L319.8 794.28 L319.8 794.12 L320.7 794.12 L320.7 794.34 L321.6 794.34 L321.6 794.25 L322.5 794.25 L322.5 794.08 L323.4 794.08 L323.4 794.21 L324.3 794.21 L324.3 794.36 L325.2 794.36 L325.2 794.32 L326.1 794.32 L326.1 794.32 L327 794.32 L327 794.21 L327.9 794.21 L327.9 794.4 L328.8 794.4 L328.8 794.13 L329.7 794.13 L329.7 794.49 L330.6 794.49 L330.6 794.2 L331.5 794.2 L331.5 794.29 L332.4 794.29 L332.4 794.21 L333.3 794.21 L333.3 794.21 L334.2 794.21 L334.2 794.43 L335.1 794.43 L335.1 794.26 L336 794.26 L336 794.23 L336.9 794.23 L336.9 794.2 L337.8 794.2 L337.8 794.15 L338.7 794.15 L338.7 794.31 L339.6 794.31 L339.6 794.17 L340.5 794.17 L340.5 794.07 L341.4 794.07 L341.4 794.46 L342.3 794.46 L342.3 794.08 L343.2 794.08 L343.2 794.38 L344.1 794.38 L344.1 794.13 L345 794.13 L345 794.1 L345.9 794.1 L345.9 794.2 L346.8 794.2 L346.8 794.41 L347.7 794.41 L347.7 794.49 L348.6 794.49 L348.6 794.47 L349.5 794.47 L349.5 794.43 L350.4 794.43 L350.4 794.09 L351.3 794.09 L351.3 794.06 L352.2 794.06 L352.2 794.38 L353.1 794.38 L353.1 794.18 L354 794.18 L354 794.09 L354.9 794.09 L354.9 794.12 L355.8 794.12 L355.8 794.3 L356.7 794.3 L356.7 794.42 L357.6 794.42 L357.6 794.17 L358.5 794.17 L358.5 794.19 L359.4 794.19 L359.4 794.41 L360.3 794.41 L360.3 794.28 L361.2 794.28 L361.2 794.17 L362.1 794.17 L362.1 794.34 L363 794.34 L363 794.18 L363.9 794.18 L363.9 794.27 L364.8 794.27 L364.8 794.29 L365.7 794.29 L365.7 794.42 L366.6 794.42 L366.6 794.14 L367.5 794.14 L367.5 794.22 L368.4 794.22 L368.4 794.24 L369.3 794.24 L369.3 794.5 L370.2 794.5 L370.2 794.13 L371.1 794.13 L371.1 794.22 L372 794.22 L372 794.37 L372.9 794.37 L372.9 794.2 L373.8 794.2 L373.8 794.2 L374.7 794.2 L374.7 794.46 L375.6 794.46 L375.6 794.44 L376.5 794.44 L376.5 794.29 L377.4 794.29 L377.4 794.13 L378.3 794.13 L378.3 794.08 L379.2 794.08 L379.2 793.51 L380.1 793.51 L380.1 793.98 L381 793.98 L381 794.12 L381.9 794.12 L381.9 794.04 L382.8 794.04 L382.8 794.33 L383.7 794.33 L383.7 794.29 L384.6 794.29 L384.6 794.19 L385.5 794.19 L385.5 794.26 L386.4 794.26 L386.4 791.59 L387.3 791.59 L387.3 792.73 L388.2 792.73 L388.2 792.44 L389.1 792.44 L389.1 792.44 L390 792.44 L390 792.26 L390.9 792.26 L390.9 794.45 L391.8 794.45 L391.8 794.36 L392.7 794.36 L392.7 794.15 L393.6 794.15 L393.6 794.49 L394.5 794.49 L394.5 794.09 L395.4 794.09 L395.4 794.47 L396.3 794.47 L396.3 794.31 L397.2 794.31 L397.2 794.13 L398.1 794.13 L398.1 794.32 L399 794.32 L399 794.21 L399.9 794.21 L399.9 794.25 L400.8 794.25 L400.8 794.12 L401.7 794.12 L401.7 794.11 L402.6 794.11 L402.6 794.22 L403.5 794.22 L403.5 794.29 L404.4 794.29 L404.4 794.18 L405.3 794.18 L405.3 794.22 L406.2 794.22 L406.2 794.5 L407.1 794.5 L407.1 794.24 L408 794.24 L408 794.2 L408.9 794.2 L408.9 793.96 L409.8 793.96 L409.8 794.04 L410.7 794.04 L410.7 792.95 L411.6 792.95 L411.6 794.34 L412.5 794.34 L412.5 794.27 L413.4 794.27 L413.4 794.26 L414.3 794.26 L414.3 794.32 L415.2 794.32 L415.2 794.04 L416.1 794.04 L416.1 794.1 L417 794.1 L417 794.35 L417.9 794.35 L417.9 794.27 L418.8 794.27 L418.8 794.27 L419.7 794.27 L419.7 794.4 L420.6 794.4 L420.6 794.02 L421.5 794.02 L421.5 794.19 L422.4 794.19 L422.4 794.25 L423.3 794.25 L423.3 794.17 L424.2 794.17 L424.2 794 L425.1 794 L425.1 793.74 L426 793.74 L426 794.38 L426.9 794.38 L426.9 794.36 L427.8 794.36 L427.8 794.39 L428.7 794.39 L428.7 794.36 L429.6 794.36 L429.6 794.3 L430.5 794.3 L430.5 794.4 L431.4 794.4 L431.4 793.95 L432.3 793.95 L432.3 793.98 L433.2 793.98 L433.2 794.06 L434.1 794.06 L434.1 794.27 L435 794.27 L435 794.18 L435.9 794.18 L435.9 794.25 L436.8 794.25 L436.8 794.35 L437.7 794.35 L437.7 794.27 L438.6 794.27 L438.6 794.13 L439.5 794.13 L439.5 794.17 L440.4 794.17 L440.4 793.87 L441.3 793.87 L441.3 793.88 L442.2 793.88 L442.2 794.05 L443.1 794.05 L443.1 794.02 L444 794.02 L444 794.32 L444.9 794.32 L444.9 794.22 L445.8 794.22 L445.8 794.11 L446.7 794.11 L446.7 794 L447.6 794 L447.6 793.51 L448.5 793.51 L448.5 793.26 L449.4 793.26 L449.4 792.34 L450.3 792.34 L450.3 791.38 L451.2 791.38 L451.2 791.85 L452.1 791.85 L452.1 792.15 L453 792.15 L453 791.11 L453.9 791.11 L453.9 791.57 L454.8 791.57 L454.8 791.89 L455.7 791.89 L455.7 790.61 L456.6 790.61 L456.6 790.64 L457.5 790.64 L457.5 790.73 L458.4 790.73 L458.4 791.54 L459.3 791.54 L459.3 790.57 L460.2 790.57 L460.2 790.47 L461.1 790.47 L461.1 791.86 L462 791.86 L462 791.92 L462.9 791.92 L462.9 792.15 L463.8 792.15 L463.8 791.17 L464.7 791.17 L464.7 791.35 L465.6 791.35 L465.6 792.37 L466.5 792.37 L466.5 792.27 L467.4 792.27 L467.4 791.86 L468.3 791.86 L468.3 791.91 L469.2 791.91 L469.2 793.21 L470.1 793.21 L470.1 792.69 L471 792.69 L471 793.01 L471.9 793.01 L471.9 792.2 L472.8 792.2 L472.8 791.47 L473.7 791.47 L473.7 792.5 L474.6 792.5 L474.6 792.67 L475.5 792.67 L475.5 792.67 L476.4 792.67 L476.4 793.07 L477.3 793.07 L477.3 792.37 L478.2 792.37 L478.2 792.2 L479.1 792.2 L479.1 792.88 L480 792.88 L480 793.14 L480.9 793.14 L480.9 792.15 L481.8 792.15 L481.8 792.13 L482.7 792.13 L482.7 792.68 L483.6 792.68 L483.6 793.09 L484.5 793.09 L484.5 792.92 L485.4 792.92 L485.4 793.06 L486.3 793.06 L486.3 792.8 L487.2 792.8 L487.2 792.65 L488.1 792.65 L488.1 792.98 L489 792.98 L489 793.09 L489.9 793.09 L489.9 792.58 L490.8 792.58 L490.8 792.66 L491.7 792.66 L491.7 792.43 L492.6 792.43 L492.6 792.54 L493.5 792.54 L493.5 792.51 L494.4 792.51 L494.4 791.89 L495.3 791.89 L495.3 793.11 L496.2 793.11 L496.2 792.59 L497.1 792.59 L497.1 791.82 L498 791.82 L498 790.74 L498.9 790.74 L498.9 791.61 L499.8 791.61 L499.8 790.66 L500.7 790.66 L500.7 790.54 L501.6 790.54 L501.6 790.46 L502.5 790.46 L502.5 791.15 L503.4 791.15 L503.4 789.35 L504.3 789.35 L504.3 790.8 L505.2 790.8 L505.2 788.74 L506.1 788.74 L506.1 788.81 L507 788.81 L507 788.27 L507.9 788.27 L507.9 789.72 L508.8 789.72 L508.8 788.8 L509.7 788.8 L509.7 790.82 L510.6 790.82 L510.6 791.1 L511.5 791.1 L511.5 791.03 L512.4 791.03 L512.4 791.21 L513.3 791.21 L513.3 789.55 L514.2 789.55 L514.2 789.59 L515.1 789.59 L515.1 787.66 L516 787.66 L516 790.57 L516.9 790.57 L516.9 789.99 L517.8 789.99 L517.8 790.21 L518.7 790.21 L518.7 790.19 L519.6 790.19 L519.6 790.04 L520.5 790.04 L520.5 791.53 L521.4 791.53 L521.4 789.67 L522.3 789.67 L522.3 789.19 L523.2 789.19 L523.2 792.51 L524.1 792.51 L524.1 792.82 L525 792.82 L525 792.65 L525.9 792.65 L525.9 792.59 L526.8 792.59 L526.8 792.16 L527.7 792.16 L527.7 792.82 L528.6 792.82 L528.6 793.07 L529.5 793.07 L529.5 791.26 L530.4 791.26 L530.4 792.96 L531.3 792.96 L531.3 793.09 L532.2 793.09 L532.2 792.65 L533.1 792.65 L533.1 792.9 L534 792.9 L534 792.93 L534.9 792.93 L534.9 793.15 L535.8 793.15 L535.8 793.12 L536.7 793.12 L536.7 793.04 L537.6 793.04 L537.6 792.35 L538.5 792.35 L538.5 792.34 L539.4 792.34 L539.4 792.4 L540.3 792.4 L540.3 792.16 L541.2 792.16 L541.2 792.24 L542.1 792.24 L542.1 792.51 L543 792.51 L543 792.98 L543.9 792.98 L543.9 793.15 L544.8 793.15 L544.8 793.03 L545.7 793.03 L545.7 793.17 L546.6 793.17 L546.6 792.96 L547.5 792.96 L547.5 792.43 L548.4 792.43 L548.4 793.13 L549.3 793.13 L549.3 792.31 L550.2 792.31 L550.2 792.45 L551.1 792.45 L551.1 793.22 L552 793.22 L552 792.32 L552.9 792.32 L552.9 793.28 L553.8 793.28 L553.8 792.42 L554.7 792.42 L554.7 792.72 L555.6 792.72 L555.6 792.89 L556.5 792.89 L556.5 792.49 L557.4 792.49 L557.4 793.01 L558.3 793.01 L558.3 792.78 L559.2 792.78 L559.2 792.27 L560.1 792.27 L560.1 792.36 L561 792.36 L561 793.22 L561.9 793.22 L561.9 793.16 L562.8 793.16 L562.8 792.79 L563.7 792.79 L563.7 792.33 L564.6 792.33 L564.6 792.62 L565.5 792.62 L565.5 792.6 L566.4 792.6 L566.4 792.6 L567.3 792.6 L567.3 790.54 L568.2 790.54 L568.2 789.48 L569.1 789.48 L569.1 789.04 L570 789.04 L570 788.8 L570.9 788.8 L570.9 788.57 L571.8 788.57 L571.8 785.7 L572.7 785.7 L572.7 788.74 L573.6 788.74 L573.6 790.48 L574.5 790.48 L574.5 791.35 L575.4 791.35 L575.4 792.01 L576.3 792.01 L576.3 793.01 L577.2 793.01 L577.2 792.85 L578.1 792.85 L578.1 793.36 L579 793.36 L579 792.88 L579.9 792.88 L579.9 793.63 L580.8 793.63 L580.8 793.21 L581.7 793.21 L581.7 793.36 L582.6 793.36 L582.6 793.58 L583.5 793.58 L583.5 793.24 L584.4 793.24 L584.4 793.45 L585.3 793.45 L585.3 792.85 L586.2 792.85 L586.2 793.68 L587.1 793.68 L587.1 793.03 L588 793.03 L588 793.03 L588.9 793.03 L588.9 793.25 L589.8 793.25 L589.8 793.13 L590.7 793.13 L590.7 792.9 L591.6 792.9 L591.6 793.67 L592.5 793.67 L592.5 793.53 L593.4 793.53 L593.4 793.7 L594.3 793.7 L594.3 794.99 L595.2 794.99 L595.2 794.95 L596.1 794.95 L596.1 795 L597 795 L597 795.02 L597.9 795.02 L597.9 795.02 L598.8 795.02 L598.8 794.84 L599.7 794.84 L599.7 794.94 L600.6 794.94 L600.6 794.87 L601.5 794.87 L601.5 794.97 L602.4 794.97 L602.4 794.84 L603.3 794.84 L603.3 794.9 L604.2 794.9 L604.2 794.89 L605.1 794.89 L605.1 794.96 L606 794.96 L606 794.91 L606.9 794.91 L606.9 795.02 L607.8 795.02 L607.8 794.8 L608.7 794.8 L608.7 794.88 L609.6 794.88 L609.6 794.92 L610.5 794.92 L610.5 794.89 L611.4 794.89 L611.4 795.04 L612.3 795.04 L612.3 794.98 L613.2 794.98 L613.2 795.01 L614.1 795.01 L614.1 794.83 L615 794.83 L615 795.07 L615.9 795.07 L615.9 794.95 L616.8 794.95 L616.8 794.83 L617.7 794.83 L617.7 794.85 L618.6 794.85 L618.6 794.87 L619.5 794.87 L619.5 794.99 L620.4 794.99 L620.4 795 L621.3 795 L621.3 794.87 L622.2 794.87 L622.2 794.99 L623.1 794.99 L623.1 794.87 L624 794.87 L624 794.97 L624.9 794.97 L624.9 794.86 L625.8 794.86 L625.8 794.91 L626.7 794.91 L626.7 794.84 L627.6 794.84 L627.6 794.79 L628.5 794.79 L628.5 794.96 L629.4 794.96 L629.4 794.79 L630.3 794.79 L630.3 795.07 L631.2 795.07 L631.2 794.82 L632.1 794.82 L632.1 795.06 L633 795.06 L633 794.92 L633.9 794.92 L633.9 794.96 L634.8 794.96 L634.8 794.85 L635.7 794.85 L635.7 794.98 L636.6 794.98 L636.6 795.01 L637.5 795.01 L637.5 794.85 L638.4 794.85 L638.4 794.92 L639.3 794.92 L639.3 794.86 L640.2 794.86 L640.2 794.93 L641.1 794.93 L641.1 795.06 L642 795.06 L642 794.85 L642.9 794.85 L642.9 795.01 L643.8 795.01 L643.8 793.75 L644.7 793.75 L644.7 793.78 L645.6 793.78 L645.6 793.92 L646.5 793.92 L646.5 794.07 L647.4 794.07 L647.4 793.74 L648.3 793.74 L648.3 793.98 L649.2 793.98 L649.2 793.74 L650.1 793.74 L650.1 793.73 L651 793.73 L651 794.1 L651.9 794.1 L651.9 793.87 L652.8 793.87 L652.8 793.6 L653.7 793.6 L653.7 793.76 L654.6 793.76 L654.6 793.6 L655.5 793.6 L655.5 793.99 L656.4 793.99 L656.4 793.92 L657.3 793.92 L657.3 793.67 L658.2 793.67 L658.2 793.63 L659.1 793.63 L659.1 794.12 L660 794.12 L660 794.08 L660.9 794.08 L660.9 793.91 L661.8 793.91 L661.8 793.71 L662.7 793.71 L662.7 793.62 L663.6 793.62 L663.3 795.28 Z" fill="#229b22"/>
<line x1="59.7" y1="809.7" x2="663.3" y2="809.7" stroke="#f7b0b0" stroke-width="0.7"/>
<path d="M59.7 809.7 L59.7 809.36 L60.6 809.36 L60.6 809.4 L61.5 809.4 L61.5 809.45 L62.4 809.45 L62.4 809.24 L63.3 809.24 L63.3 809.32 L64.2 809.32 L64.2 809.46 L65.1 809.46 L65.1 809.23 L66 809.23 L66 809.24 L66.9 809.24 L66.9 809.48 L67.8 809.48 L67.8 809.29 L68.7 809.29 L68.7 809.42 L69.6 809.42 L69.6 809.34 L70.5 809.34 L70.5 809.26 L71.4 809.26 L71.4 809.39 L72.3 809.39 L72.3 809.35 L73.2 809.35 L73.2 809.3 L74.1 809.3 L74.1 809.44 L75 809.44 L75 809.31 L75.9 809.31 L75.9 809.37 L76.8 809.37 L76.8 809.21 L77.7 809.21 L77.7 809.44 L78.6 809.44 L78.6 809.29 L79.5 809.29 L79.5 809.48 L80.4 809.48 L80.4 809.41 L81.3 809.41 L81.3 809.46 L82.2 809.46 L82.2 809.45 L83.1 809.45 L83.1 809.34 L84 809.34 L84 809.44 L84.9 809.44 L84.9 809.27 L85.8 809.27 L85.8 809.46 L86.7 809.46 L86.7 808.8 L87.6 808.8 L87.6 808.3 L88.5 808.3 L88.5 807.78 L89.4 807.78 L89.4 807.75 L90.3 807.75 L90.3 807.79 L91.2 807.79 L91.2 807.75 L92.1 807.75 L92.1 807.87 L93 807.87 L93 808.36 L93.9 808.36 L93.9 807.85 L94.8 807.85 L94.8 807.91 L95.7 807.91 L95.7 808.38 L96.6 808.38 L96.6 807.81 L97.5 807.81 L97.5 808.18 L98.4 808.18 L98.4 808.03 L99.3 808.03 L99.3 807.89 L100.2 807.89 L100.2 807.68 L101.1 807.68 L101.1 807.85 L102 807.85 L102 808.37 L102.9 808.37 L102.9 807.92 L103.8 807.92 L103.8 808.35 L104.7 808.35 L104.7 808.34 L105.6 808.34 L105.6 807.79 L106.5 807.79 L106.5 807.67 L107.4 807.67 L107.4 808.26 L108.3 808.26 L108.3 808.35 L109.2 808.35 L109.2 807.57 L110.1 807.57 L110.1 807.68 L111 807.68 L111 807.79 L111.9 807.79 L111.9 808.22 L112.8 808.22 L112.8 808.23 L113.7 808.23 L113.7 808.11 L114.6 808.11 L114.6 807.8 L115.5 807.8 L115.5 807.91 L116.4 807.91 L116.4 807.67 L117.3 807.67 L117.3 808.06 L118.2 808.06 L118.2 808.2 L119.1 808.2 L119.1 806.95 L120 806.95 L120 806.57 L120.9 806.57 L120.9 806.88 L121.8 806.88 L121.8 805.54 L122.7 805.54 L122.7 806.62 L123.6 806.62 L123.6 806.44 L124.5 806.44 L124.5 808.01 L125.4 808.01 L125.4 807.89 L126.3 807.89 L126.3 807.96 L127.2 807.96 L127.2 807.89 L128.1 807.89 L128.1 807.82 L129 807.82 L129 808.08 L129.9 808.08 L129.9 807.98 L130.8 807.98 L130.8 808.09 L131.7 808.09 L131.7 807.94 L132.6 807.94 L132.6 808.12 L133.5 808.12 L133.5 808.15 L134.4 808.15 L134.4 807.78 L135.3 807.78 L135.3 808.08 L136.2 808.08 L136.2 807.77 L137.1 807.77 L137.1 808.25 L138 808.25 L138 808.1 L138.9 808.1 L138.9 807.86 L139.8 807.86 L139.8 808.36 L140.7 808.36 L140.7 807.93 L141.6 807.93 L141.6 808.41 L142.5 808.41 L142.5 807.88 L143.4 807.88 L143.4 807.82 L144.3 807.82 L144.3 808.4 L145.2 808.4 L145.2 808.29 L146.1 808.29 L146.1 808.39 L147 808.39 L147 808.07 L147.9 808.07 L147.9 807.91 L148.8 807.91 L148.8 808.26 L149.7 808.26 L149.7 808.26 L150.6 808.26 L150.6 808.21 L151.5 808.21 L151.5 807.83 L152.4 807.83 L152.4 808.11 L153.3 808.11 L153.3 808.08 L154.2 808.08 L154.2 808.34 L155.1 808.34 L155.1 807.98 L156 807.98 L156 808.22 L156.9 808.22 L156.9 808.39 L157.8 808.39 L157.8 808.3 L158.7 808.3 L158.7 808.26 L159.6 808.26 L159.6 808.01 L160.5 808.01 L160.5 807.92 L161.4 807.92 L161.4 808.18 L162.3 808.18 L162.3 808.36 L163.2 808.36 L163.2 808.3 L164.1 808.3 L164.1 808.19 L165 808.19 L165 808.32 L165.9 808.32 L165.9 808.54 L166.8 808.54 L166.8 808.5 L167.7 808.5 L167.7 807.99 L168.6 807.99 L168.6 808.38 L169.5 808.38 L169.5 808.31 L170.4 808.31 L170.4 808.08 L171.3 808.08 L171.3 808.47 L172.2 808.47 L172.2 808.38 L173.1 808.38 L173.1 808.16 L174 808.16 L174 807.89 L174.9 807.89 L174.9 808.52 L175.8 808.52 L175.8 807.99 L176.7 807.99 L176.7 808.31 L177.6 808.31 L177.6 808.49 L178.5 808.49 L178.5 807.9 L179.4 807.9 L179.4 808.37 L180.3 808.37 L180.3 807.9 L181.2 807.9 L181.2 808.32 L182.1 808.32 L182.1 807.94 L183 807.94 L183 808.14 L183.9 808.14 L183.9 808.44 L184.8 808.44 L184.8 808.44 L185.7 808.44 L185.7 808.25 L186.6 808.25 L186.6 807.97 L187.5 807.97 L187.5 807.51 L188.4 807.51 L188.4 808.47 L189.3 808.47 L189.3 808.48 L190.2 808.48 L190.2 808.11 L191.1 808.11 L191.1 808.04 L192 808.04 L192 808.13 L192.9 808.13 L192.9 808.46 L193.8 808.46 L193.8 808.31 L194.7 808.31 L194.7 808.3 L195.6 808.3 L195.6 808.35 L196.5 808.35 L196.5 807.97 L197.4 807.97 L197.4 808.05 L198.3 808.05 L198.3 808.4 L199.2 808.4 L199.2 808.36 L200.1 808.36 L200.1 808.51 L201 808.51 L201 808.05 L201.9 808.05 L201.9 808.48 L202.8 808.48 L202.8 808.33 L203.7 808.33 L203.7 808.03 L204.6 808.03 L204.6 808.36 L205.5 808.36 L205.5 808.09 L206.4 808.09 L206.4 808.13 L207.3 808.13 L207.3 808.09 L208.2 808.09 L208.2 808.4 L209.1 808.4 L209.1 808.38 L210 808.38 L210 807.43 L210.9 807.43 L210.9 808.24 L211.8 808.24 L211.8 808.32 L212.7 808.32 L212.7 807.99 L213.6 807.99 L213.6 808.15 L214.5 808.15 L214.5 808.14 L215.4 808.14 L215.4 808.58 L216.3 808.58 L216.3 808.49 L217.2 808.49 L217.2 808.49 L218.1 808.49 L218.1 808.11 L219 808.11 L219 808.41 L219.9 808.41 L219.9 808.15 L220.8 808.15 L220.8 808.28 L221.7 808.28 L221.7 808.03 L222.6 808.03 L222.6 808.23 L223.5 808.23 L223.5 807.46 L224.4 807.46 L224.4 808.14 L225.3 808.14 L225.3 808.5 L226.2 808.5 L226.2 808.07 L227.1 808.07 L227.1 808.18 L228 808.18 L228 808.55 L228.9 808.55 L228.9 808.43 L229.8 808.43 L229.8 808.02 L230.7 808.02 L230.7 808.32 L231.6 808.32 L231.6 808.38 L232.5 808.38 L232.5 808.14 L233.4 808.14 L233.4 808.52 L234.3 808.52 L234.3 808.33 L235.2 808.33 L235.2 807.99 L236.1 807.99 L236.1 808.59 L237 808.59 L237 808.27 L237.9 808.27 L237.9 808.25 L238.8 808.25 L238.8 808.14 L239.7 808.14 L239.7 808.31 L240.6 808.31 L240.6 808.58 L241.5 808.58 L241.5 808.49 L242.4 808.49 L242.4 808.07 L243.3 808.07 L243.3 808.5 L244.2 808.5 L244.2 807.99 L245.1 807.99 L245.1 808.39 L246 808.39 L246 808.54 L246.9 808.54 L246.9 808.04 L247.8 808.04 L247.8 807.91 L248.7 807.91 L248.7 806.41 L249.6 806.41 L249.6 805.66 L250.5 805.66 L250.5 804.34 L251.4 804.34 L251.4 804.66 L252.3 804.66 L252.3 803.39 L253.2 803.39 L253.2 801.53 L254.1 801.53 L254.1 800.17 L255 800.17 L255 800.66 L255.9 800.66 L255.9 800.46 L256.8 800.46 L256.8 798.82 L257.7 798.82 L257.7 801.52 L258.6 801.52 L258.6 802.4 L259.5 802.4 L259.5 798.4 L260.4 798.4 L260.4 800.7 L261.3 800.7 L261.3 801.15 L262.2 801.15 L262.2 799.2 L263.1 799.2 L263.1 798.4 L264 798.4 L264 799.43 L264.9 799.43 L264.9 802.48 L265.8 802.48 L265.8 801.99 L266.7 801.99 L266.7 805.95 L267.6 805.95 L267.6 806.79 L268.5 806.79 L268.5 807.91 L269.4 807.91 L269.4 807.53 L270.3 807.53 L270.3 807.84 L271.2 807.84 L271.2 808.04 L272.1 808.04 L272.1 807.77 L273 807.77 L273 807.47 L273.9 807.47 L273.9 807.92 L274.8 807.92 L274.8 808.28 L275.7 808.28 L275.7 808.19 L276.6 808.19 L276.6 807.62 L277.5 807.62 L277.5 808.33 L278.4 808.33 L278.4 807.56 L279.3 807.56 L279.3 808.17 L280.2 808.17 L280.2 808.21 L281.1 808.21 L281.1 808.31 L282 808.31 L282 807.66 L282.9 807.66 L282.9 808.06 L283.8 808.06 L283.8 807.91 L284.7 807.91 L284.7 808.31 L285.6 808.31 L285.6 808.13 L286.5 808.13 L286.5 807.94 L287.4 807.94 L287.4 808.4 L288.3 808.4 L288.3 808.18 L289.2 808.18 L289.2 808.1 L290.1 808.1 L290.1 808.22 L291 808.22 L291 807.88 L291.9 807.88 L291.9 808.41 L292.8 808.41 L292.8 808.41 L293.7 808.41 L293.7 808.34 L294.6 808.34 L294.6 808.19 L295.5 808.19 L295.5 808.4 L296.4 808.4 L296.4 808.44 L297.3 808.44 L297.3 808.26 L298.2 808.26 L298.2 808.66 L299.1 808.66 L299.1 808.04 L300 808.04 L300 808.32 L300.9 808.32 L300.9 809.29 L301.8 809.29 L301.8 809.22 L302.7 809.22 L302.7 809.39 L303.6 809.39 L303.6 809.32 L304.5 809.32 L304.5 809.34 L305.4 809.34 L305.4 809.42 L306.3 809.42 L306.3 809.27 L307.2 809.27 L307.2 809.49 L308.1 809.49 L308.1 809.37 L309 809.37 L309 808.78 L309.9 808.78 L309.9 808.91 L310.8 808.91 L310.8 809.1 L311.7 809.1 L311.7 809.46 L312.6 809.46 L312.6 809.27 L313.5 809.27 L313.5 809.38 L314.4 809.38 L314.4 809.34 L315.3 809.34 L315.3 809.37 L316.2 809.37 L316.2 809.37 L317.1 809.37 L317.1 809.21 L318 809.21 L318 809.23 L318.9 809.23 L318.9 809.23 L319.8 809.23 L319.8 809.28 L320.7 809.28 L320.7 809.29 L321.6 809.29 L321.6 809.45 L322.5 809.45 L322.5 809.48 L323.4 809.48 L323.4 809.26 L324.3 809.26 L324.3 809.3 L325.2 809.3 L325.2 809.31 L326.1 809.31 L326.1 809.4 L327 809.4 L327 809.42 L327.9 809.42 L327.9 809.23 L328.8 809.23 L328.8 809.34 L329.7 809.34 L329.7 809.48 L330.6 809.48 L330.6 809.39 L331.5 809.39 L331.5 809.39 L332.4 809.39 L332.4 809.47 L333.3 809.47 L333.3 809.22 L334.2 809.22 L334.2 809.24 L335.1 809.24 L335.1 809.26 L336 809.26 L336 809.49 L336.9 809.49 L336.9 809.37 L337.8 809.37 L337.8 809.46 L338.7 809.46 L338.7 809.29 L339.6 809.29 L339.6 809.26 L340.5 809.26 L340.5 809.27 L341.4 809.27 L341.4 809.27 L342.3 809.27 L342.3 809.46 L343.2 809.46 L343.2 809.49 L344.1 809.49 L344.1 809.46 L345 809.46 L345 809.25 L345.9 809.25 L345.9 809.26 L346.8 809.26 L346.8 809.35 L347.7 809.35 L347.7 809.42 L348.6 809.42 L348.6 809.25 L349.5 809.25 L349.5 809.46 L350.4 809.46 L350.4 809.4 L351.3 809.4 L351.3 809.37 L352.2 809.37 L352.2 808.56 L353.1 808.56 L353.1 808.97 L354 808.97 L354 809.27 L354.9 809.27 L354.9 809.23 L355.8 809.23 L355.8 809.22 L356.7 809.22 L356.7 809.47 L357.6 809.47 L357.6 809.28 L358.5 809.28 L358.5 809.43 L359.4 809.43 L359.4 809.4 L360.3 809.4 L360.3 809.39 L361.2 809.39 L361.2 809.21 L362.1 809.21 L362.1 809.47 L363 809.47 L363 809.37 L363.9 809.37 L363.9 809.45 L364.8 809.45 L364.8 809.21 L365.7 809.21 L365.7 809.35 L366.6 809.35 L366.6 809.29 L367.5 809.29 L367.5 809.34 L368.4 809.34 L368.4 809.28 L369.3 809.28 L369.3 809.4 L370.2 809.4 L370.2 809.37 L371.1 809.37 L371.1 809.28 L372 809.28 L372 809.29 L372.9 809.29 L372.9 809.24 L373.8 809.24 L373.8 809.4 L374.7 809.4 L374.7 809.25 L375.6 809.25 L375.6 809.28 L376.5 809.28 L376.5 809.33 L377.4 809.33 L377.4 809.38 L378.3 809.38 L378.3 809.33 L379.2 809.33 L379.2 809.47 L380.1 809.47 L380.1 809.46 L381 809.46 L381 809.4 L381.9 809.4 L381.9 809.46 L382.8 809.46 L382.8 809.48 L383.7 809.48 L383.7 809.29 L384.6 809.29 L384.6 809.29 L385.5 809.29 L385.5 809.32 L386.4 809.32 L386.4 809.43 L387.3 809.43 L387.3 809.29 L388.2 809.29 L388.2 809.26 L389.1 809.26 L389.1 809.32 L390 809.32 L390 809.43 L390.9 809.43 L390.9 809.33 L391.8 809.33 L391.8 809.38 L392.7 809.38 L392.7 809.41 L393.6 809.41 L393.6 809.45 L394.5 809.45 L394.5 809.25 L395.4 809.25 L395.4 809.31 L396.3 809.31 L396.3 809.23 L397.2 809.23 L397.2 809.44 L398.1 809.44 L398.1 809.42 L399 809.42 L399 809.35 L399.9 809.35 L399.9 809.47 L400.8 809.47 L400.8 809.41 L401.7 809.41 L401.7 809.34 L402.6 809.34 L402.6 809.36 L403.5 809.36 L403.5 809.24 L404.4 809.24 L404.4 809.33 L405.3 809.33 L405.3 809.31 L406.2 809.31 L406.2 809.33 L407.1 809.33 L407.1 809.27 L408 809.27 L408 809.39 L408.9 809.39 L408.9 809.49 L409.8 809.49 L409.8 809.22 L410.7 809.22 L410.7 809.27 L411.6 809.27 L411.6 809.45 L412.5 809.45 L412.5 809.46 L413.4 809.46 L413.4 809.43 L414.3 809.43 L414.3 809.31 L415.2 809.31 L415.2 809.45 L416.1 809.45 L416.1 809.48 L417 809.48 L417 809.35 L417.9 809.35 L417.9 809.49 L418.8 809.49 L418.8 809.42 L419.7 809.42 L419.7 809.38 L420.6 809.38 L420.6 809.43 L421.5 809.43 L421.5 809.49 L422.4 809.49 L422.4 809.42 L423.3 809.42 L423.3 809.42 L424.2 809.42 L424.2 809.4 L425.1 809.4 L425.1 809.37 L426 809.37 L426 809.39 L426.9 809.39 L426.9 809.4 L427.8 809.4 L427.8 808.39 L428.7 808.39 L428.7 806.93 L429.6 806.93 L429.6 806.96 L430.5 806.96 L430.5 806.88 L431.4 806.88 L431.4 807.11 L432.3 807.11 L432.3 807.21 L433.2 807.21 L433.2 806.71 L434.1 806.71 L434.1 806.61 L435 806.61 L435 806.13 L435.9 806.13 L435.9 807.12 L436.8 807.12 L436.8 806.69 L437.7 806.69 L437.7 805.97 L438.6 805.97 L438.6 806.58 L439.5 806.58 L439.5 806.26 L440.4 806.26 L440.4 806.51 L441.3 806.51 L441.3 806.78 L442.2 806.78 L442.2 806.05 L443.1 806.05 L443.1 806.2 L444 806.2 L444 805.8 L444.9 805.8 L444.9 806.11 L445.8 806.11 L445.8 806.55 L446.7 806.55 L446.7 806.34 L447.6 806.34 L447.6 806.74 L448.5 806.74 L448.5 804.87 L449.4 804.87 L449.4 806.67 L450.3 806.67 L450.3 806.67 L451.2 806.67 L451.2 805.78 L452.1 805.78 L452.1 806.19 L453 806.19 L453 806.29 L453.9 806.29 L453.9 805.79 L454.8 805.79 L454.8 806.12 L455.7 806.12 L455.7 806.41 L456.6 806.41 L456.6 806.3 L457.5 806.3 L457.5 807.01 L458.4 807.01 L458.4 806.98 L459.3 806.98 L459.3 807.5 L460.2 807.5 L460.2 807.49 L461.1 807.49 L461.1 807.65 L462 807.65 L462 808.1 L462.9 808.1 L462.9 808.1 L463.8 808.1 L463.8 808.65 L464.7 808.65 L464.7 808.95 L465.6 808.95 L465.6 809.25 L466.5 809.25 L466.5 809.39 L467.4 809.39 L467.4 809.35 L468.3 809.35 L468.3 809.34 L469.2 809.34 L469.2 809.38 L470.1 809.38 L470.1 809.45 L471 809.45 L471 809.48 L471.9 809.48 L471.9 809.33 L472.8 809.33 L472.8 809.22 L473.7 809.22 L473.7 809.41 L474.6 809.41 L474.6 809.39 L475.5 809.39 L475.5 809.4 L476.4 809.4 L476.4 809.28 L477.3 809.28 L477.3 809.35 L478.2 809.35 L478.2 809.27 L479.1 809.27 L479.1 809.49 L480 809.49 L480 809.45 L480.9 809.45 L480.9 809.43 L481.8 809.43 L481.8 809.39 L482.7 809.39 L482.7 809.38 L483.6 809.38 L483.6 809.38 L484.5 809.38 L484.5 809.22 L485.4 809.22 L485.4 809.37 L486.3 809.37 L486.3 809.33 L487.2 809.33 L487.2 809.22 L488.1 809.22 L488.1 809.31 L489 809.31 L489 809.32 L489.9 809.32 L489.9 809.26 L490.8 809.26 L490.8 809.4 L491.7 809.4 L491.7 809.48 L492.6 809.48 L492.6 809.22 L493.5 809.22 L493.5 808.76 L494.4 808.76 L494.4 808.03 L495.3 808.03 L495.3 808.33 L496.2 808.33 L496.2 808.33 L497.1 808.33 L497.1 808.33 L498 808.33 L498 808.43 L498.9 808.43 L498.9 808.45 L499.8 808.45 L499.8 807.99 L500.7 807.99 L500.7 807.86 L501.6 807.86 L501.6 808.14 L502.5 808.14 L502.5 808.29 L503.4 808.29 L503.4 808.43 L504.3 808.43 L504.3 806.84 L505.2 806.84 L505.2 804.25 L506.1 804.25 L506.1 805.17 L507 805.17 L507 803.16 L507.9 803.16 L507.9 804.18 L508.8 804.18 L508.8 803.31 L509.7 803.31 L509.7 806.81 L510.6 806.81 L510.6 808.34 L511.5 808.34 L511.5 808.09 L512.4 808.09 L512.4 808.12 L513.3 808.12 L513.3 807.04 L514.2 807.04 L514.2 803.71 L515.1 803.71 L515.1 803.61 L516 803.61 L516 804.95 L516.9 804.95 L516.9 805.25 L517.8 805.25 L517.8 807.1 L518.7 807.1 L518.7 807.88 L519.6 807.88 L519.6 808.46 L520.5 808.46 L520.5 808 L521.4 808 L521.4 807.31 L522.3 807.31 L522.3 808.47 L523.2 808.47 L523.2 807.9 L524.1 807.9 L524.1 808.37 L525 808.37 L525 808.47 L525.9 808.47 L525.9 808.28 L526.8 808.28 L526.8 808.17 L527.7 808.17 L527.7 808.13 L528.6 808.13 L528.6 807.95 L529.5 807.95 L529.5 808.45 L530.4 808.45 L530.4 808.08 L531.3 808.08 L531.3 807.92 L532.2 807.92 L532.2 807.99 L533.1 807.99 L533.1 808.1 L534 808.1 L534 808.42 L534.9 808.42 L534.9 807.38 L535.8 807.38 L535.8 807.84 L536.7 807.84 L536.7 807.91 L537.6 807.91 L537.6 807.89 L538.5 807.89 L538.5 808.5 L539.4 808.5 L539.4 807.97 L540.3 807.97 L540.3 808.35 L541.2 808.35 L541.2 808.43 L542.1 808.43 L542.1 808.12 L543 808.12 L543 808.09 L543.9 808.09 L543.9 807.9 L544.8 807.9 L544.8 808.09 L545.7 808.09 L545.7 808.37 L546.6 808.37 L546.6 808.16 L547.5 808.16 L547.5 808.13 L548.4 808.13 L548.4 807.91 L549.3 807.91 L549.3 808.28 L550.2 808.28 L550.2 808.11 L551.1 808.11 L551.1 808.13 L552 808.13 L552 807.89 L552.9 807.89 L552.9 808.31 L553.8 808.31 L553.8 808.46 L554.7 808.46 L554.7 808.24 L555.6 808.24 L555.6 808.36 L556.5 808.36 L556.5 807.99 L557.4 807.99 L557.4 808.32 L558.3 808.32 L558.3 808.02 L559.2 808.02 L559.2 808.08 L560.1 808.08 L560.1 808.1 L561 808.1 L561 807.8 L561.9 807.8 L561.9 808.22 L562.8 808.22 L562.8 808.1 L563.7 808.1 L563.7 807.92 L564.6 807.92 L564.6 807.96 L565.5 807.96 L565.5 807.62 L566.4 807.62 L566.4 807.86 L567.3 807.86 L567.3 807.65 L568.2 807.65 L568.2 805.82 L569.1 805.82 L569.1 803.85 L570 803.85 L570 804.11 L570.9 804.11 L570.9 805.15 L571.8 805.15 L571.8 802.95 L572.7 802.95 L572.7 804.96 L573.6 804.96 L573.6 802.32 L574.5 802.32 L574.5 805.88 L575.4 805.88 L575.4 804.52 L576.3 804.52 L576.3 805.2 L577.2 805.2 L577.2 806.18 L578.1 806.18 L578.1 807.07 L579 807.07 L579 808.51 L579.9 808.51 L579.9 807.93 L580.8 807.93 L580.8 807.95 L581.7 807.95 L581.7 808.21 L582.6 808.21 L582.6 808.42 L583.5 808.42 L583.5 807.93 L584.4 807.93 L584.4 808.09 L585.3 808.09 L585.3 808.35 L586.2 808.35 L586.2 808.59 L587.1 808.59 L587.1 809.31 L588 809.31 L588 809.47 L588.9 809.47 L588.9 809.41 L589.8 809.41 L589.8 809.22 L590.7 809.22 L590.7 809.42 L591.6 809.42 L591.6 809.27 L592.5 809.27 L592.5 809.4 L593.4 809.4 L593.4 809.47 L594.3 809.47 L594.3 809.35 L595.2 809.35 L595.2 809.25 L596.1 809.25 L596.1 808.99 L597 808.99 L597 808.51 L597.9 808.51 L597.9 808.21 L598.8 808.21 L598.8 809.44 L599.7 809.44 L599.7 809.3 L600.6 809.3 L600.6 809.45 L601.5 809.45 L601.5 809.4 L602.4 809.4 L602.4 809.25 L603.3 809.25 L603.3 809.33 L604.2 809.33 L604.2 809.35 L605.1 809.35 L605.1 809.29 L606 809.29 L606 809.35 L606.9 809.35 L606.9 809.38 L607.8 809.38 L607.8 809.34 L608.7 809.34 L608.7 809.48 L609.6 809.48 L609.6 809.39 L610.5 809.39 L610.5 809.48 L611.4 809.48 L611.4 809.21 L612.3 809.21 L612.3 809.24 L613.2 809.24 L613.2 809.31 L614.1 809.31 L614.1 809.45 L615 809.45 L615 809.25 L615.9 809.25 L615.9 809.41 L616.8 809.41 L616.8 809.26 L617.7 809.26 L617.7 809.31 L618.6 809.31 L618.6 809.32 L619.5 809.32 L619.5 809.28 L620.4 809.28 L620.4 809.42 L621.3 809.42 L621.3 809.26 L622.2 809.26 L622.2 809.34 L623.1 809.34 L623.1 809.28 L624 809.28 L624 809.25 L624.9 809.25 L624.9 809.42 L625.8 809.42 L625.8 809.38 L626.7 809.38 L626.7 809.39 L627.6 809.39 L627.6 809.47 L628.5 809.47 L628.5 809.24 L629.4 809.24 L629.4 809.3 L630.3 809.3 L630.3 809.35 L631.2 809.35 L631.2 809.34 L632.1 809.34 L632.1 809.24 L633 809.24 L633 809.47 L633.9 809.47 L633.9 809.39 L634.8 809.39 L634.8 809.3 L635.7 809.3 L635.7 809.34 L636.6 809.34 L636.6 809.35 L637.5 809.35 L637.5 809.42 L638.4 809.42 L638.4 809.43 L639.3 809.43 L639.3 809.3 L640.2 809.3 L640.2 809.39 L641.1 809.39 L641.1 809.23 L642 809.23 L642 809.24 L642.9 809.24 L642.9 809.22 L643.8 809.22 L643.8 809.41 L644.7 809.41 L644.7 809.35 L645.6 809.35 L645.6 809.46 L646.5 809.46 L646.5 809.39 L647.4 809.39 L647.4 809.47 L648.3 809.47 L648.3 809.35 L649.2 809.35 L649.2 809.22 L650.1 809.22 L650.1 809.28 L651 809.28 L651 809.39 L651.9 809.39 L651.9 809.41 L652.8 809.41 L652.8 809.23 L653.7 809.23 L653.7 809.48 L654.6 809.48 L654.6 809.25 L655.5 809.25 L655.5 809.25 L656.4 809.25 L656.4 809.47 L657.3 809.47 L657.3 809.22 L658.2 809.22 L658.2 809.31 L659.1 809.31 L659.1 809.38 L660 809.38 L660 808.25 L660.9 808.25 L660.9 807.95 L661.8 807.95 L661.8 808.53 L662.7 808.53 L662.7 808.1 L663.6 808.1 L663.3 809.7 Z" fill="#f36d6d"/>
<line x1="59.7" y1="824.12" x2="663.3" y2="824.12" stroke="#e08888" stroke-width="0.7"/>
<path d="M59.7 824.12 L59.7 823.66 L60.6 823.66 L60.6 823.81 L61.5 823.81 L61.5 823.78 L62.4 823.78 L62.4 823.64 L63.3 823.64 L63.3 823.86 L64.2 823.86 L64.2 823.73 L65.1 823.73 L65.1 823.89 L66 823.89 L66 823.75 L66.9 823.75 L66.9 823.7 L67.8 823.7 L67.8 823.87 L68.7 823.87 L68.7 823.7 L69.6 823.7 L69.6 823.64 L70.5 823.64 L70.5 823.68 L71.4 823.68 L71.4 823.69 L72.3 823.69 L72.3 823.64 L73.2 823.64 L73.2 823.71 L74.1 823.71 L74.1 823.76 L75 823.76 L75 823.68 L75.9 823.68 L75.9 823.68 L76.8 823.68 L76.8 823.73 L77.7 823.73 L77.7 823.72 L78.6 823.72 L78.6 823.86 L79.5 823.86 L79.5 823.82 L80.4 823.82 L80.4 823.82 L81.3 823.82 L81.3 823.67 L82.2 823.67 L82.2 823.69 L83.1 823.69 L83.1 823.83 L84 823.83 L84 823.63 L84.9 823.63 L84.9 823.89 L85.8 823.89 L85.8 823.89 L86.7 823.89 L86.7 823.11 L87.6 823.11 L87.6 822 L88.5 822 L88.5 821.74 L89.4 821.74 L89.4 821.72 L90.3 821.72 L90.3 821.56 L91.2 821.56 L91.2 821.92 L92.1 821.92 L92.1 821.49 L93 821.49 L93 821.78 L93.9 821.78 L93.9 821.04 L94.8 821.04 L94.8 821.25 L95.7 821.25 L95.7 821.16 L96.6 821.16 L96.6 821.27 L97.5 821.27 L97.5 821.41 L98.4 821.41 L98.4 819.35 L99.3 819.35 L99.3 820.42 L100.2 820.42 L100.2 820 L101.1 820 L101.1 820.98 L102 820.98 L102 821.4 L102.9 821.4 L102.9 821.05 L103.8 821.05 L103.8 821.47 L104.7 821.47 L104.7 821.82 L105.6 821.82 L105.6 822.17 L106.5 822.17 L106.5 821.62 L107.4 821.62 L107.4 822.05 L108.3 822.05 L108.3 822.12 L109.2 822.12 L109.2 821.99 L110.1 821.99 L110.1 821.78 L111 821.78 L111 821.75 L111.9 821.75 L111.9 821.17 L112.8 821.17 L112.8 822.1 L113.7 822.1 L113.7 821.76 L114.6 821.76 L114.6 821.88 L115.5 821.88 L115.5 821.36 L116.4 821.36 L116.4 821.02 L117.3 821.02 L117.3 820.25 L118.2 820.25 L118.2 821.9 L119.1 821.9 L119.1 821.02 L120 821.02 L120 821 L120.9 821 L120.9 820.96 L121.8 820.96 L121.8 820.19 L122.7 820.19 L122.7 820.41 L123.6 820.41 L123.6 820.19 L124.5 820.19 L124.5 820.35 L125.4 820.35 L125.4 819.96 L126.3 819.96 L126.3 821.06 L127.2 821.06 L127.2 820.13 L128.1 820.13 L128.1 821.37 L129 821.37 L129 821.55 L129.9 821.55 L129.9 821.98 L130.8 821.98 L130.8 821.98 L131.7 821.98 L131.7 821.67 L132.6 821.67 L132.6 821.55 L133.5 821.55 L133.5 821.48 L134.4 821.48 L134.4 821.94 L135.3 821.94 L135.3 821.73 L136.2 821.73 L136.2 821.29 L137.1 821.29 L137.1 821.99 L138 821.99 L138 822.16 L138.9 822.16 L138.9 821.51 L139.8 821.51 L139.8 820.88 L140.7 820.88 L140.7 821.68 L141.6 821.68 L141.6 821.31 L142.5 821.31 L142.5 821.79 L143.4 821.79 L143.4 822 L144.3 822 L144.3 821.5 L145.2 821.5 L145.2 821.24 L146.1 821.24 L146.1 821.84 L147 821.84 L147 821.47 L147.9 821.47 L147.9 821.33 L148.8 821.33 L148.8 821.94 L149.7 821.94 L149.7 821.43 L150.6 821.43 L150.6 821.9 L151.5 821.9 L151.5 821.77 L152.4 821.77 L152.4 822.32 L153.3 822.32 L153.3 821.48 L154.2 821.48 L154.2 822.12 L155.1 822.12 L155.1 821.67 L156 821.67 L156 821.81 L156.9 821.81 L156.9 821.84 L157.8 821.84 L157.8 821.7 L158.7 821.7 L158.7 821.48 L159.6 821.48 L159.6 822.06 L160.5 822.06 L160.5 821.9 L161.4 821.9 L161.4 822.28 L162.3 822.28 L162.3 822.03 L163.2 822.03 L163.2 822.2 L164.1 822.2 L164.1 822.13 L165 822.13 L165 822.22 L165.9 822.22 L165.9 822.17 L166.8 822.17 L166.8 822.05 L167.7 822.05 L167.7 821.83 L168.6 821.83 L168.6 821.88 L169.5 821.88 L169.5 822.54 L170.4 822.54 L170.4 822.32 L171.3 822.32 L171.3 822.36 L172.2 822.36 L172.2 822.1 L173.1 822.1 L173.1 822.37 L174 822.37 L174 822.37 L174.9 822.37 L174.9 822.65 L175.8 822.65 L175.8 822.12 L176.7 822.12 L176.7 822.58 L177.6 822.58 L177.6 822.6 L178.5 822.6 L178.5 822.16 L179.4 822.16 L179.4 821.8 L180.3 821.8 L180.3 821.81 L181.2 821.81 L181.2 821.8 L182.1 821.8 L182.1 821.36 L183 821.36 L183 821.23 L183.9 821.23 L183.9 820.06 L184.8 820.06 L184.8 820.87 L185.7 820.87 L185.7 820.99 L186.6 820.99 L186.6 821.87 L187.5 821.87 L187.5 821.68 L188.4 821.68 L188.4 820.69 L189.3 820.69 L189.3 820.43 L190.2 820.43 L190.2 820.2 L191.1 820.2 L191.1 820.62 L192 820.62 L192 820.9 L192.9 820.9 L192.9 820.57 L193.8 820.57 L193.8 820.48 L194.7 820.48 L194.7 820.53 L195.6 820.53 L195.6 820.65 L196.5 820.65 L196.5 821.58 L197.4 821.58 L197.4 821.09 L198.3 821.09 L198.3 821.72 L199.2 821.72 L199.2 821.46 L200.1 821.46 L200.1 821.9 L201 821.9 L201 821.45 L201.9 821.45 L201.9 821.98 L202.8 821.98 L202.8 822.03 L203.7 822.03 L203.7 821.86 L204.6 821.86 L204.6 821.96 L205.5 821.96 L205.5 821.24 L206.4 821.24 L206.4 821.68 L207.3 821.68 L207.3 821.93 L208.2 821.93 L208.2 822.17 L209.1 822.17 L209.1 821.91 L210 821.91 L210 821.28 L210.9 821.28 L210.9 821.97 L211.8 821.97 L211.8 821.73 L212.7 821.73 L212.7 821.15 L213.6 821.15 L213.6 821.43 L214.5 821.43 L214.5 821.69 L215.4 821.69 L215.4 821.95 L216.3 821.95 L216.3 821.47 L217.2 821.47 L217.2 821.6 L218.1 821.6 L218.1 821.74 L219 821.74 L219 821.71 L219.9 821.71 L219.9 820.48 L220.8 820.48 L220.8 821.34 L221.7 821.34 L221.7 821.94 L222.6 821.94 L222.6 821.72 L223.5 821.72 L223.5 821.47 L224.4 821.47 L224.4 821.92 L225.3 821.92 L225.3 821.94 L226.2 821.94 L226.2 822 L227.1 822 L227.1 821.63 L228 821.63 L228 821.34 L228.9 821.34 L228.9 821.83 L229.8 821.83 L229.8 821.39 L230.7 821.39 L230.7 821.94 L231.6 821.94 L231.6 822.15 L232.5 822.15 L232.5 821.21 L233.4 821.21 L233.4 821.32 L234.3 821.32 L234.3 821.09 L235.2 821.09 L235.2 821.11 L236.1 821.11 L236.1 821.85 L237 821.85 L237 821.47 L237.9 821.47 L237.9 821.99 L238.8 821.99 L238.8 821.62 L239.7 821.62 L239.7 821.52 L240.6 821.52 L240.6 821.43 L241.5 821.43 L241.5 821.89 L242.4 821.89 L242.4 821.67 L243.3 821.67 L243.3 821.18 L244.2 821.18 L244.2 821.87 L245.1 821.87 L245.1 820.39 L246 820.39 L246 820.68 L246.9 820.68 L246.9 819.03 L247.8 819.03 L247.8 819.82 L248.7 819.82 L248.7 819.47 L249.6 819.47 L249.6 819.61 L250.5 819.61 L250.5 817.86 L251.4 817.86 L251.4 818.25 L252.3 818.25 L252.3 817.13 L253.2 817.13 L253.2 817.33 L254.1 817.33 L254.1 814.15 L255 814.15 L255 816.65 L255.9 816.65 L255.9 813.34 L256.8 813.34 L256.8 815.68 L257.7 815.68 L257.7 816.64 L258.6 816.64 L258.6 813.33 L259.5 813.33 L259.5 813.91 L260.4 813.91 L260.4 817.56 L261.3 817.56 L261.3 815.49 L262.2 815.49 L262.2 815.09 L263.1 815.09 L263.1 816.47 L264 816.47 L264 816.29 L264.9 816.29 L264.9 815.78 L265.8 815.78 L265.8 817 L266.7 817 L266.7 817.93 L267.6 817.93 L267.6 820.4 L268.5 820.4 L268.5 821.14 L269.4 821.14 L269.4 821.44 L270.3 821.44 L270.3 821.82 L271.2 821.82 L271.2 820.89 L272.1 820.89 L272.1 821.08 L273 821.08 L273 821.2 L273.9 821.2 L273.9 821.21 L274.8 821.21 L274.8 821.74 L275.7 821.74 L275.7 821.45 L276.6 821.45 L276.6 820.64 L277.5 820.64 L277.5 821.04 L278.4 821.04 L278.4 821.15 L279.3 821.15 L279.3 820.85 L280.2 820.85 L280.2 821.79 L281.1 821.79 L281.1 821.54 L282 821.54 L282 820.89 L282.9 820.89 L282.9 821.79 L283.8 821.79 L283.8 821.77 L284.7 821.77 L284.7 821.45 L285.6 821.45 L285.6 821.55 L286.5 821.55 L286.5 820.93 L287.4 820.93 L287.4 821.17 L288.3 821.17 L288.3 821.77 L289.2 821.77 L289.2 820.96 L290.1 820.96 L290.1 822.05 L291 822.05 L291 820.98 L291.9 820.98 L291.9 822.05 L292.8 822.05 L292.8 821.22 L293.7 821.22 L293.7 821.22 L294.6 821.22 L294.6 822.09 L295.5 822.09 L295.5 821.17 L296.4 821.17 L296.4 821.14 L297.3 821.14 L297.3 821.81 L298.2 821.81 L298.2 821.38 L299.1 821.38 L299.1 821.89 L300 821.89 L300 821.49 L300.9 821.49 L300.9 822.07 L301.8 822.07 L301.8 821.4 L302.7 821.4 L302.7 820.79 L303.6 820.79 L303.6 822.06 L304.5 822.06 L304.5 821.98 L305.4 821.98 L305.4 822.64 L306.3 822.64 L306.3 822.97 L307.2 822.97 L307.2 823.11 L308.1 823.11 L308.1 823.05 L309 823.05 L309 822.83 L309.9 822.83 L309.9 823.16 L310.8 823.16 L310.8 823.25 L311.7 823.25 L311.7 822.95 L312.6 822.95 L312.6 823.29 L313.5 823.29 L313.5 822.99 L314.4 822.99 L314.4 822.91 L315.3 822.91 L315.3 823.19 L316.2 823.19 L316.2 823.16 L317.1 823.16 L317.1 823 L318 823 L318 823.28 L318.9 823.28 L318.9 823.08 L319.8 823.08 L319.8 823.03 L320.7 823.03 L320.7 823.23 L321.6 823.23 L321.6 823.06 L322.5 823.06 L322.5 822.66 L323.4 822.66 L323.4 823.37 L324.3 823.37 L324.3 823.72 L325.2 823.72 L325.2 823.67 L326.1 823.67 L326.1 823.89 L327 823.89 L327 823.77 L327.9 823.77 L327.9 823.69 L328.8 823.69 L328.8 823.88 L329.7 823.88 L329.7 823.66 L330.6 823.66 L330.6 823.65 L331.5 823.65 L331.5 823.81 L332.4 823.81 L332.4 823.85 L333.3 823.85 L333.3 823.87 L334.2 823.87 L334.2 823.85 L335.1 823.85 L335.1 823.79 L336 823.79 L336 823.71 L336.9 823.71 L336.9 823.65 L337.8 823.65 L337.8 823.75 L338.7 823.75 L338.7 823.64 L339.6 823.64 L339.6 823.79 L340.5 823.79 L340.5 823.73 L341.4 823.73 L341.4 823.91 L342.3 823.91 L342.3 823.79 L343.2 823.79 L343.2 823.9 L344.1 823.9 L344.1 823.87 L345 823.87 L345 823.68 L345.9 823.68 L345.9 823.88 L346.8 823.88 L346.8 823.83 L347.7 823.83 L347.7 823.76 L348.6 823.76 L348.6 823.76 L349.5 823.76 L349.5 823.9 L350.4 823.9 L350.4 823.88 L351.3 823.88 L351.3 823.72 L352.2 823.72 L352.2 823.8 L353.1 823.8 L353.1 823.88 L354 823.88 L354 823.78 L354.9 823.78 L354.9 823.81 L355.8 823.81 L355.8 823.63 L356.7 823.63 L356.7 823.9 L357.6 823.9 L357.6 823.86 L358.5 823.86 L358.5 823.89 L359.4 823.89 L359.4 823.76 L360.3 823.76 L360.3 823.64 L361.2 823.64 L361.2 823.69 L362.1 823.69 L362.1 823.88 L363 823.88 L363 823.76 L363.9 823.76 L363.9 823.81 L364.8 823.81 L364.8 823.64 L365.7 823.64 L365.7 823.71 L366.6 823.71 L366.6 823.74 L367.5 823.74 L367.5 823.84 L368.4 823.84 L368.4 823.79 L369.3 823.79 L369.3 823.76 L370.2 823.76 L370.2 823.8 L371.1 823.8 L371.1 823.75 L372 823.75 L372 823.88 L372.9 823.88 L372.9 823.79 L373.8 823.79 L373.8 823.63 L374.7 823.63 L374.7 823.8 L375.6 823.8 L375.6 823.77 L376.5 823.77 L376.5 823.7 L377.4 823.7 L377.4 823.68 L378.3 823.68 L378.3 823.7 L379.2 823.7 L379.2 823.8 L380.1 823.8 L380.1 823.71 L381 823.71 L381 823.85 L381.9 823.85 L381.9 823.74 L382.8 823.74 L382.8 823.91 L383.7 823.91 L383.7 823.86 L384.6 823.86 L384.6 823.86 L385.5 823.86 L385.5 823.81 L386.4 823.81 L386.4 823.7 L387.3 823.7 L387.3 823.9 L388.2 823.9 L388.2 823.66 L389.1 823.66 L389.1 823.88 L390 823.88 L390 823.64 L390.9 823.64 L390.9 823.64 L391.8 823.64 L391.8 823.74 L392.7 823.74 L392.7 823.67 L393.6 823.67 L393.6 823.65 L394.5 823.65 L394.5 823.78 L395.4 823.78 L395.4 823.67 L396.3 823.67 L396.3 823.9 L397.2 823.9 L397.2 823.69 L398.1 823.69 L398.1 823.73 L399 823.73 L399 823.69 L399.9 823.69 L399.9 823.87 L400.8 823.87 L400.8 823.89 L401.7 823.89 L401.7 823.76 L402.6 823.76 L402.6 823.74 L403.5 823.74 L403.5 823.72 L404.4 823.72 L404.4 823.86 L405.3 823.86 L405.3 823.75 L406.2 823.75 L406.2 823.64 L407.1 823.64 L407.1 823.84 L408 823.84 L408 823.68 L408.9 823.68 L408.9 823.64 L409.8 823.64 L409.8 823.72 L410.7 823.72 L410.7 823.79 L411.6 823.79 L411.6 823.79 L412.5 823.79 L412.5 823.78 L413.4 823.78 L413.4 823.88 L414.3 823.88 L414.3 823.89 L415.2 823.89 L415.2 823.83 L416.1 823.83 L416.1 823.86 L417 823.86 L417 823.66 L417.9 823.66 L417.9 823.81 L418.8 823.81 L418.8 823.66 L419.7 823.66 L419.7 823.75 L420.6 823.75 L420.6 823.66 L421.5 823.66 L421.5 823.66 L422.4 823.66 L422.4 823.71 L423.3 823.71 L423.3 823.78 L424.2 823.78 L424.2 823.84 L425.1 823.84 L425.1 823.75 L426 823.75 L426 823.82 L426.9 823.82 L426.9 823.68 L427.8 823.68 L427.8 823.9 L428.7 823.9 L428.7 823.73 L429.6 823.73 L429.6 823.82 L430.5 823.82 L430.5 823.79 L431.4 823.79 L431.4 823.76 L432.3 823.76 L432.3 823.63 L433.2 823.63 L433.2 823.63 L434.1 823.63 L434.1 823.81 L435 823.81 L435 823.64 L435.9 823.64 L435.9 823.64 L436.8 823.64 L436.8 823.76 L437.7 823.76 L437.7 823.75 L438.6 823.75 L438.6 823.85 L439.5 823.85 L439.5 823.69 L440.4 823.69 L440.4 823.6 L441.3 823.6 L441.3 823.09 L442.2 823.09 L442.2 822.68 L443.1 822.68 L443.1 822.43 L444 822.43 L444 821.55 L444.9 821.55 L444.9 821.68 L445.8 821.68 L445.8 821.56 L446.7 821.56 L446.7 819.28 L447.6 819.28 L447.6 820.52 L448.5 820.52 L448.5 820.7 L449.4 820.7 L449.4 820.76 L450.3 820.76 L450.3 819.52 L451.2 819.52 L451.2 819.59 L452.1 819.59 L452.1 819.49 L453 819.49 L453 819.88 L453.9 819.88 L453.9 820.47 L454.8 820.47 L454.8 820.56 L455.7 820.56 L455.7 819.71 L456.6 819.71 L456.6 818.88 L457.5 818.88 L457.5 819.86 L458.4 819.86 L458.4 819.67 L459.3 819.67 L459.3 821.12 L460.2 821.12 L460.2 821.49 L461.1 821.49 L461.1 821.95 L462 821.95 L462 822.16 L462.9 822.16 L462.9 822.66 L463.8 822.66 L463.8 822.81 L464.7 822.81 L464.7 822.2 L465.6 822.2 L465.6 822.56 L466.5 822.56 L466.5 822.73 L467.4 822.73 L467.4 822.82 L468.3 822.82 L468.3 822.27 L469.2 822.27 L469.2 822.26 L470.1 822.26 L470.1 822.75 L471 822.75 L471 822.53 L471.9 822.53 L471.9 822.58 L472.8 822.58 L472.8 822.3 L473.7 822.3 L473.7 822.86 L474.6 822.86 L474.6 821.49 L475.5 821.49 L475.5 821.23 L476.4 821.23 L476.4 820.96 L477.3 820.96 L477.3 820.83 L478.2 820.83 L478.2 820.82 L479.1 820.82 L479.1 821.24 L480 821.24 L480 821.73 L480.9 821.73 L480.9 821.46 L481.8 821.46 L481.8 821.7 L482.7 821.7 L482.7 821.28 L483.6 821.28 L483.6 821.51 L484.5 821.51 L484.5 821.62 L485.4 821.62 L485.4 821.7 L486.3 821.7 L486.3 822.06 L487.2 822.06 L487.2 821.68 L488.1 821.68 L488.1 821.71 L489 821.71 L489 821.93 L489.9 821.93 L489.9 821.78 L490.8 821.78 L490.8 821.49 L491.7 821.49 L491.7 821.37 L492.6 821.37 L492.6 821.64 L493.5 821.64 L493.5 821.3 L494.4 821.3 L494.4 821.49 L495.3 821.49 L495.3 821.5 L496.2 821.5 L496.2 821.07 L497.1 821.07 L497.1 821.51 L498 821.51 L498 821.35 L498.9 821.35 L498.9 821.03 L499.8 821.03 L499.8 821.73 L500.7 821.73 L500.7 820.97 L501.6 820.97 L501.6 821.49 L502.5 821.49 L502.5 821.47 L503.4 821.47 L503.4 821.13 L504.3 821.13 L504.3 819.74 L505.2 819.74 L505.2 816.99 L506.1 816.99 L506.1 817.56 L507 817.56 L507 816.68 L507.9 816.68 L507.9 818.31 L508.8 818.31 L508.8 817.28 L509.7 817.28 L509.7 817.79 L510.6 817.79 L510.6 820.06 L511.5 820.06 L511.5 821.76 L512.4 821.76 L512.4 821.67 L513.3 821.67 L513.3 820.29 L514.2 820.29 L514.2 821.46 L515.1 821.46 L515.1 821.56 L516 821.56 L516 821.03 L516.9 821.03 L516.9 820.78 L517.8 820.78 L517.8 820.91 L518.7 820.91 L518.7 820.53 L519.6 820.53 L519.6 820.65 L520.5 820.65 L520.5 821.79 L521.4 821.79 L521.4 821.18 L522.3 821.18 L522.3 821.48 L523.2 821.48 L523.2 821.72 L524.1 821.72 L524.1 821.41 L525 821.41 L525 821.29 L525.9 821.29 L525.9 821.62 L526.8 821.62 L526.8 821.19 L527.7 821.19 L527.7 820.6 L528.6 820.6 L528.6 821.76 L529.5 821.76 L529.5 821.61 L530.4 821.61 L530.4 820.81 L531.3 820.81 L531.3 821.23 L532.2 821.23 L532.2 820.97 L533.1 820.97 L533.1 821.61 L534 821.61 L534 820.85 L534.9 820.85 L534.9 820.01 L535.8 820.01 L535.8 820.8 L536.7 820.8 L536.7 821.79 L537.6 821.79 L537.6 820.96 L538.5 820.96 L538.5 820.7 L539.4 820.7 L539.4 821.5 L540.3 821.5 L540.3 821.2 L541.2 821.2 L541.2 820.47 L542.1 820.47 L542.1 820.64 L543 820.64 L543 820.71 L543.9 820.71 L543.9 820.84 L544.8 820.84 L544.8 820.51 L545.7 820.51 L545.7 820.42 L546.6 820.42 L546.6 821.08 L547.5 821.08 L547.5 820.45 L548.4 820.45 L548.4 819.46 L549.3 819.46 L549.3 821.31 L550.2 821.31 L550.2 820.89 L551.1 820.89 L551.1 820.67 L552 820.67 L552 821.04 L552.9 821.04 L552.9 821.15 L553.8 821.15 L553.8 820.8 L554.7 820.8 L554.7 821.29 L555.6 821.29 L555.6 820.58 L556.5 820.58 L556.5 820.75 L557.4 820.75 L557.4 821.21 L558.3 821.21 L558.3 821.06 L559.2 821.06 L559.2 820.59 L560.1 820.59 L560.1 820.47 L561 820.47 L561 820.99 L561.9 820.99 L561.9 821.87 L562.8 821.87 L562.8 821.28 L563.7 821.28 L563.7 821.66 L564.6 821.66 L564.6 821.31 L565.5 821.31 L565.5 819.79 L566.4 819.79 L566.4 820.48 L567.3 820.48 L567.3 819.43 L568.2 819.43 L568.2 818.35 L569.1 818.35 L569.1 818.55 L570 818.55 L570 817.88 L570.9 817.88 L570.9 817 L571.8 817 L571.8 815.85 L572.7 815.85 L572.7 819.25 L573.6 819.25 L573.6 818.29 L574.5 818.29 L574.5 818.06 L575.4 818.06 L575.4 820.39 L576.3 820.39 L576.3 822.66 L577.2 822.66 L577.2 823.18 L578.1 823.18 L578.1 823.19 L579 823.19 L579 823.32 L579.9 823.32 L579.9 823.09 L580.8 823.09 L580.8 823 L581.7 823 L581.7 823.12 L582.6 823.12 L582.6 822.96 L583.5 822.96 L583.5 823.06 L584.4 823.06 L584.4 823.18 L585.3 823.18 L585.3 823.1 L586.2 823.1 L586.2 823.01 L587.1 823.01 L587.1 823.01 L588 823.01 L588 822.97 L588.9 822.97 L588.9 823.64 L589.8 823.64 L589.8 823.76 L590.7 823.76 L590.7 823.66 L591.6 823.66 L591.6 823.91 L592.5 823.91 L592.5 823.64 L593.4 823.64 L593.4 823.74 L594.3 823.74 L594.3 823.8 L595.2 823.8 L595.2 823.66 L596.1 823.66 L596.1 823.66 L597 823.66 L597 823.74 L597.9 823.74 L597.9 823.91 L598.8 823.91 L598.8 823.74 L599.7 823.74 L599.7 823.79 L600.6 823.79 L600.6 823.75 L601.5 823.75 L601.5 823.68 L602.4 823.68 L602.4 823.87 L603.3 823.87 L603.3 823.67 L604.2 823.67 L604.2 823.82 L605.1 823.82 L605.1 823.84 L606 823.84 L606 823.9 L606.9 823.9 L606.9 823.88 L607.8 823.88 L607.8 823.84 L608.7 823.84 L608.7 823.76 L609.6 823.76 L609.6 823.65 L610.5 823.65 L610.5 823.86 L611.4 823.86 L611.4 823.83 L612.3 823.83 L612.3 823.81 L613.2 823.81 L613.2 823.73 L614.1 823.73 L614.1 823.81 L615 823.81 L615 823.72 L615.9 823.72 L615.9 823.87 L616.8 823.87 L616.8 823.9 L617.7 823.9 L617.7 823.75 L618.6 823.75 L618.6 823.71 L619.5 823.71 L619.5 823.87 L620.4 823.87 L620.4 823.9 L621.3 823.9 L621.3 823.72 L622.2 823.72 L622.2 823.89 L623.1 823.89 L623.1 823.65 L624 823.65 L624 823.72 L624.9 823.72 L624.9 823.87 L625.8 823.87 L625.8 823.8 L626.7 823.8 L626.7 823.89 L627.6 823.89 L627.6 823.89 L628.5 823.89 L628.5 823.81 L629.4 823.81 L629.4 823.66 L630.3 823.66 L630.3 823.66 L631.2 823.66 L631.2 823.7 L632.1 823.7 L632.1 823.73 L633 823.73 L633 823.75 L633.9 823.75 L633.9 823.77 L634.8 823.77 L634.8 823.73 L635.7 823.73 L635.7 823.77 L636.6 823.77 L636.6 823.8 L637.5 823.8 L637.5 823.68 L638.4 823.68 L638.4 823.83 L639.3 823.83 L639.3 823.8 L640.2 823.8 L640.2 823.72 L641.1 823.72 L641.1 823.64 L642 823.64 L642 823.81 L642.9 823.81 L642.9 823.79 L643.8 823.79 L643.8 823.8 L644.7 823.8 L644.7 823.85 L645.6 823.85 L645.6 823.81 L646.5 823.81 L646.5 823.69 L647.4 823.69 L647.4 823.86 L648.3 823.86 L648.3 823.78 L649.2 823.78 L649.2 823.83 L650.1 823.83 L650.1 823.75 L651 823.75 L651 823.69 L651.9 823.69 L651.9 823.88 L652.8 823.88 L652.8 823.77 L653.7 823.77 L653.7 823.86 L654.6 823.86 L654.6 823.73 L655.5 823.73 L655.5 823.72 L656.4 823.72 L656.4 823.85 L657.3 823.85 L657.3 823.85 L658.2 823.85 L658.2 823.83 L659.1 823.83 L659.1 823.82 L660 823.82 L660 823.66 L660.9 823.66 L660.9 823.67 L661.8 823.67 L661.8 823.69 L662.7 823.69 L662.7 823.8 L663.6 823.8 L663.3 824.12 Z" fill="#c0191b"/>
<line x1="59.7" y1="838.54" x2="663.3" y2="838.54" stroke="#e28ee2" stroke-width="0.7"/>
<path d="M59.7 838.54 L59.7 838.2 L60.6 838.2 L60.6 838.27 L61.5 838.27 L61.5 838.2 L62.4 838.2 L62.4 838.06 L63.3 838.06 L63.3 838.3 L64.2 838.3 L64.2 838.22 L65.1 838.22 L65.1 838.28 L66 838.28 L66 838.09 L66.9 838.09 L66.9 838.25 L67.8 838.25 L67.8 838.19 L68.7 838.19 L68.7 838.32 L69.6 838.32 L69.6 838.14 L70.5 838.14 L70.5 838.19 L71.4 838.19 L71.4 838.11 L72.3 838.11 L72.3 838.13 L73.2 838.13 L73.2 838.12 L74.1 838.12 L74.1 838.26 L75 838.26 L75 838.26 L75.9 838.26 L75.9 838.16 L76.8 838.16 L76.8 837.85 L77.7 837.85 L77.7 837.54 L78.6 837.54 L78.6 838.17 L79.5 838.17 L79.5 838.11 L80.4 838.11 L80.4 838.3 L81.3 838.3 L81.3 838.3 L82.2 838.3 L82.2 838.14 L83.1 838.14 L83.1 838.2 L84 838.2 L84 838.11 L84.9 838.11 L84.9 838.21 L85.8 838.21 L85.8 838.05 L86.7 838.05 L86.7 837.17 L87.6 837.17 L87.6 836.01 L88.5 836.01 L88.5 835.83 L89.4 835.83 L89.4 836 L90.3 836 L90.3 836.52 L91.2 836.52 L91.2 836.31 L92.1 836.31 L92.1 835.57 L93 835.57 L93 835.3 L93.9 835.3 L93.9 836.18 L94.8 836.18 L94.8 836.31 L95.7 836.31 L95.7 835.61 L96.6 835.61 L96.6 836.26 L97.5 836.26 L97.5 836.11 L98.4 836.11 L98.4 835.1 L99.3 835.1 L99.3 834.34 L100.2 834.34 L100.2 831.58 L101.1 831.58 L101.1 833.92 L102 833.92 L102 834.07 L102.9 834.07 L102.9 832.66 L103.8 832.66 L103.8 832.6 L104.7 832.6 L104.7 833.51 L105.6 833.51 L105.6 833.78 L106.5 833.78 L106.5 835.14 L107.4 835.14 L107.4 835.74 L108.3 835.74 L108.3 836.27 L109.2 836.27 L109.2 836.1 L110.1 836.1 L110.1 835.58 L111 835.58 L111 835.93 L111.9 835.93 L111.9 835.81 L112.8 835.81 L112.8 836.24 L113.7 836.24 L113.7 835.22 L114.6 835.22 L114.6 835.09 L115.5 835.09 L115.5 835.41 L116.4 835.41 L116.4 835.61 L117.3 835.61 L117.3 834.15 L118.2 834.15 L118.2 835.06 L119.1 835.06 L119.1 835.87 L120 835.87 L120 835.81 L120.9 835.81 L120.9 834.41 L121.8 834.41 L121.8 835.22 L122.7 835.22 L122.7 834.89 L123.6 834.89 L123.6 834.55 L124.5 834.55 L124.5 836.01 L125.4 836.01 L125.4 835.28 L126.3 835.28 L126.3 835.49 L127.2 835.49 L127.2 835.27 L128.1 835.27 L128.1 836.37 L129 836.37 L129 835.68 L129.9 835.68 L129.9 836.32 L130.8 836.32 L130.8 835.96 L131.7 835.96 L131.7 835.91 L132.6 835.91 L132.6 836.31 L133.5 836.31 L133.5 836.22 L134.4 836.22 L134.4 836.52 L135.3 836.52 L135.3 836.04 L136.2 836.04 L136.2 836.35 L137.1 836.35 L137.1 836.28 L138 836.28 L138 836.83 L138.9 836.83 L138.9 836.69 L139.8 836.69 L139.8 836.73 L140.7 836.73 L140.7 836.26 L141.6 836.26 L141.6 836.44 L142.5 836.44 L142.5 836.24 L143.4 836.24 L143.4 836.24 L144.3 836.24 L144.3 836.48 L145.2 836.48 L145.2 836.82 L146.1 836.82 L146.1 836.04 L147 836.04 L147 836.32 L147.9 836.32 L147.9 836.41 L148.8 836.41 L148.8 836.49 L149.7 836.49 L149.7 836.71 L150.6 836.71 L150.6 836.89 L151.5 836.89 L151.5 835.95 L152.4 835.95 L152.4 836.17 L153.3 836.17 L153.3 836.54 L154.2 836.54 L154.2 836.2 L155.1 836.2 L155.1 836.67 L156 836.67 L156 836.49 L156.9 836.49 L156.9 836.2 L157.8 836.2 L157.8 836.94 L158.7 836.94 L158.7 836.87 L159.6 836.87 L159.6 836.94 L160.5 836.94 L160.5 836.49 L161.4 836.49 L161.4 836.69 L162.3 836.69 L162.3 836.3 L163.2 836.3 L163.2 836.59 L164.1 836.59 L164.1 836.7 L165 836.7 L165 836.99 L165.9 836.99 L165.9 836.54 L166.8 836.54 L166.8 836.49 L167.7 836.49 L167.7 836.39 L168.6 836.39 L168.6 836.35 L169.5 836.35 L169.5 836.37 L170.4 836.37 L170.4 836.43 L171.3 836.43 L171.3 836.24 L172.2 836.24 L172.2 836.53 L173.1 836.53 L173.1 836.36 L174 836.36 L174 836.53 L174.9 836.53 L174.9 836.27 L175.8 836.27 L175.8 836.93 L176.7 836.93 L176.7 837.01 L177.6 837.01 L177.6 836.72 L178.5 836.72 L178.5 836.48 L179.4 836.48 L179.4 837.05 L180.3 837.05 L180.3 836.95 L181.2 836.95 L181.2 836.5 L182.1 836.5 L182.1 836.26 L183 836.26 L183 836.24 L183.9 836.24 L183.9 836.8 L184.8 836.8 L184.8 837 L185.7 837 L185.7 836.59 L186.6 836.59 L186.6 836.75 L187.5 836.75 L187.5 836.5 L188.4 836.5 L188.4 837.08 L189.3 837.08 L189.3 836.42 L190.2 836.42 L190.2 837.1 L191.1 837.1 L191.1 836.62 L192 836.62 L192 836.38 L192.9 836.38 L192.9 836.78 L193.8 836.78 L193.8 836.89 L194.7 836.89 L194.7 836.93 L195.6 836.93 L195.6 836.71 L196.5 836.71 L196.5 836.67 L197.4 836.67 L197.4 836.68 L198.3 836.68 L198.3 836.43 L199.2 836.43 L199.2 837.06 L200.1 837.06 L200.1 836.81 L201 836.81 L201 836.87 L201.9 836.87 L201.9 836.4 L202.8 836.4 L202.8 836.79 L203.7 836.79 L203.7 836.62 L204.6 836.62 L204.6 836.8 L205.5 836.8 L205.5 836.68 L206.4 836.68 L206.4 836.52 L207.3 836.52 L207.3 836.8 L208.2 836.8 L208.2 836.41 L209.1 836.41 L209.1 836.67 L210 836.67 L210 836.79 L210.9 836.79 L210.9 836.04 L211.8 836.04 L211.8 836.33 L212.7 836.33 L212.7 836.26 L213.6 836.26 L213.6 836.97 L214.5 836.97 L214.5 836.92 L215.4 836.92 L215.4 836.42 L216.3 836.42 L216.3 836.51 L217.2 836.51 L217.2 836.31 L218.1 836.31 L218.1 836.01 L219 836.01 L219 836.64 L219.9 836.64 L219.9 836.04 L220.8 836.04 L220.8 836.29 L221.7 836.29 L221.7 836.45 L222.6 836.45 L222.6 836.4 L223.5 836.4 L223.5 836.05 L224.4 836.05 L224.4 836.21 L225.3 836.21 L225.3 836.15 L226.2 836.15 L226.2 835.97 L227.1 835.97 L227.1 836.46 L228 836.46 L228 836.45 L228.9 836.45 L228.9 835.77 L229.8 835.77 L229.8 836.4 L230.7 836.4 L230.7 836.06 L231.6 836.06 L231.6 836.47 L232.5 836.47 L232.5 835.75 L233.4 835.75 L233.4 836.15 L234.3 836.15 L234.3 835.85 L235.2 835.85 L235.2 836.56 L236.1 836.56 L236.1 836 L237 836 L237 836.12 L237.9 836.12 L237.9 835.84 L238.8 835.84 L238.8 835.91 L239.7 835.91 L239.7 835.66 L240.6 835.66 L240.6 836.09 L241.5 836.09 L241.5 835.71 L242.4 835.71 L242.4 834.88 L243.3 834.88 L243.3 836.16 L244.2 836.16 L244.2 836.2 L245.1 836.2 L245.1 836.12 L246 836.12 L246 835.62 L246.9 835.62 L246.9 836.53 L247.8 836.53 L247.8 835.52 L248.7 835.52 L248.7 835.99 L249.6 835.99 L249.6 835.78 L250.5 835.78 L250.5 836.38 L251.4 836.38 L251.4 836.08 L252.3 836.08 L252.3 835.37 L253.2 835.37 L253.2 835.28 L254.1 835.28 L254.1 835.5 L255 835.5 L255 835.4 L255.9 835.4 L255.9 835.49 L256.8 835.49 L256.8 835.58 L257.7 835.58 L257.7 835.09 L258.6 835.09 L258.6 835.67 L259.5 835.67 L259.5 835.53 L260.4 835.53 L260.4 834.94 L261.3 834.94 L261.3 833.63 L262.2 833.63 L262.2 830.17 L263.1 830.17 L263.1 829.71 L264 829.71 L264 828.79 L264.9 828.79 L264.9 829.13 L265.8 829.13 L265.8 829.67 L266.7 829.67 L266.7 829.72 L267.6 829.72 L267.6 830.77 L268.5 830.77 L268.5 830.64 L269.4 830.64 L269.4 829.61 L270.3 829.61 L270.3 828.93 L271.2 828.93 L271.2 828.94 L272.1 828.94 L272.1 831.74 L273 831.74 L273 831.29 L273.9 831.29 L273.9 831.43 L274.8 831.43 L274.8 829.42 L275.7 829.42 L275.7 831.64 L276.6 831.64 L276.6 829.96 L277.5 829.96 L277.5 829.44 L278.4 829.44 L278.4 827.24 L279.3 827.24 L279.3 827.24 L280.2 827.24 L280.2 827.24 L281.1 827.24 L281.1 829.47 L282 829.47 L282 827.24 L282.9 827.24 L282.9 827.24 L283.8 827.24 L283.8 827.24 L284.7 827.24 L284.7 831.67 L285.6 831.67 L285.6 829.39 L286.5 829.39 L286.5 828.58 L287.4 828.58 L287.4 831.65 L288.3 831.65 L288.3 830.43 L289.2 830.43 L289.2 829.36 L290.1 829.36 L290.1 828.7 L291 828.7 L291 831.22 L291.9 831.22 L291.9 831.41 L292.8 831.41 L292.8 831.28 L293.7 831.28 L293.7 830.58 L294.6 830.58 L294.6 829.31 L295.5 829.31 L295.5 828.95 L296.4 828.95 L296.4 832.22 L297.3 832.22 L297.3 829.65 L298.2 829.65 L298.2 828.87 L299.1 828.87 L299.1 831.29 L300 831.29 L300 837.11 L300.9 837.11 L300.9 836.88 L301.8 836.88 L301.8 837.02 L302.7 837.02 L302.7 837.32 L303.6 837.32 L303.6 836.85 L304.5 836.85 L304.5 836.81 L305.4 836.81 L305.4 836.75 L306.3 836.75 L306.3 836.97 L307.2 836.97 L307.2 837.13 L308.1 837.13 L308.1 836.93 L309 836.93 L309 837.16 L309.9 837.16 L309.9 836.8 L310.8 836.8 L310.8 837.08 L311.7 837.08 L311.7 837.38 L312.6 837.38 L312.6 837.4 L313.5 837.4 L313.5 836.8 L314.4 836.8 L314.4 837.21 L315.3 837.21 L315.3 837.14 L316.2 837.14 L316.2 836.96 L317.1 836.96 L317.1 837.13 L318 837.13 L318 836.85 L318.9 836.85 L318.9 837.09 L319.8 837.09 L319.8 836.86 L320.7 836.86 L320.7 837.29 L321.6 837.29 L321.6 837.64 L322.5 837.64 L322.5 837.9 L323.4 837.9 L323.4 838.03 L324.3 838.03 L324.3 838.14 L325.2 838.14 L325.2 838.12 L326.1 838.12 L326.1 838.02 L327 838.02 L327 837.94 L327.9 837.94 L327.9 838.17 L328.8 838.17 L328.8 838.21 L329.7 838.21 L329.7 838.15 L330.6 838.15 L330.6 837.99 L331.5 837.99 L331.5 838.08 L332.4 838.08 L332.4 837.93 L333.3 837.93 L333.3 837.95 L334.2 837.95 L334.2 838.09 L335.1 838.09 L335.1 838 L336 838 L336 838.18 L336.9 838.18 L336.9 838 L337.8 838 L337.8 837.98 L338.7 837.98 L338.7 838.15 L339.6 838.15 L339.6 837.97 L340.5 837.97 L340.5 838.18 L341.4 838.18 L341.4 837.85 L342.3 837.85 L342.3 838.02 L343.2 838.02 L343.2 837.87 L344.1 837.87 L344.1 837.97 L345 837.97 L345 838.15 L345.9 838.15 L345.9 837.95 L346.8 837.95 L346.8 837.99 L347.7 837.99 L347.7 838.09 L348.6 838.09 L348.6 837.96 L349.5 837.96 L349.5 837.94 L350.4 837.94 L350.4 837.97 L351.3 837.97 L351.3 838.15 L352.2 838.15 L352.2 837.85 L353.1 837.85 L353.1 837.88 L354 837.88 L354 838.07 L354.9 838.07 L354.9 837.87 L355.8 837.87 L355.8 837.84 L356.7 837.84 L356.7 838.1 L357.6 838.1 L357.6 838.16 L358.5 838.16 L358.5 838.14 L359.4 838.14 L359.4 838.04 L360.3 838.04 L360.3 838.18 L361.2 838.18 L361.2 838.15 L362.1 838.15 L362.1 837.95 L363 837.95 L363 838.23 L363.9 838.23 L363.9 838 L364.8 838 L364.8 838.08 L365.7 838.08 L365.7 837.96 L366.6 837.96 L366.6 838.14 L367.5 838.14 L367.5 838.05 L368.4 838.05 L368.4 838.15 L369.3 838.15 L369.3 838.23 L370.2 838.23 L370.2 837.89 L371.1 837.89 L371.1 838.09 L372 838.09 L372 838.12 L372.9 838.12 L372.9 837.87 L373.8 837.87 L373.8 838.09 L374.7 838.09 L374.7 838.02 L375.6 838.02 L375.6 838.18 L376.5 838.18 L376.5 838.08 L377.4 838.08 L377.4 837.89 L378.3 837.89 L378.3 837.91 L379.2 837.91 L379.2 837.91 L380.1 837.91 L380.1 837.87 L381 837.87 L381 838.15 L381.9 838.15 L381.9 838.22 L382.8 838.22 L382.8 838.19 L383.7 838.19 L383.7 837.98 L384.6 837.98 L384.6 838.02 L385.5 838.02 L385.5 838.09 L386.4 838.09 L386.4 837.96 L387.3 837.96 L387.3 838.15 L388.2 838.15 L388.2 838 L389.1 838 L389.1 838.07 L390 838.07 L390 838.18 L390.9 838.18 L390.9 837.93 L391.8 837.93 L391.8 838.17 L392.7 838.17 L392.7 837.92 L393.6 837.92 L393.6 837.94 L394.5 837.94 L394.5 838.07 L395.4 838.07 L395.4 838.06 L396.3 838.06 L396.3 838.16 L397.2 838.16 L397.2 838.18 L398.1 838.18 L398.1 837.96 L399 837.96 L399 838.09 L399.9 838.09 L399.9 838.01 L400.8 838.01 L400.8 838.09 L401.7 838.09 L401.7 838.13 L402.6 838.13 L402.6 838.17 L403.5 838.17 L403.5 837.94 L404.4 837.94 L404.4 838.07 L405.3 838.07 L405.3 838.18 L406.2 838.18 L406.2 837.89 L407.1 837.89 L407.1 838.18 L408 838.18 L408 838.15 L408.9 838.15 L408.9 838.18 L409.8 838.18 L409.8 838.02 L410.7 838.02 L410.7 837.93 L411.6 837.93 L411.6 838.23 L412.5 838.23 L412.5 837.87 L413.4 837.87 L413.4 837.96 L414.3 837.96 L414.3 837.91 L415.2 837.91 L415.2 838.07 L416.1 838.07 L416.1 838.07 L417 838.07 L417 838.2 L417.9 838.2 L417.9 838.14 L418.8 838.14 L418.8 837.89 L419.7 837.89 L419.7 838.13 L420.6 838.13 L420.6 837.88 L421.5 837.88 L421.5 837.91 L422.4 837.91 L422.4 837.87 L423.3 837.87 L423.3 838.18 L424.2 838.18 L424.2 838.07 L425.1 838.07 L425.1 837.91 L426 837.91 L426 838.12 L426.9 838.12 L426.9 838.14 L427.8 838.14 L427.8 838.23 L428.7 838.23 L428.7 838.03 L429.6 838.03 L429.6 838.02 L430.5 838.02 L430.5 838.16 L431.4 838.16 L431.4 838.14 L432.3 838.14 L432.3 837.99 L433.2 837.99 L433.2 838.17 L434.1 838.17 L434.1 837.93 L435 837.93 L435 837.89 L435.9 837.89 L435.9 838.07 L436.8 838.07 L436.8 838.19 L437.7 838.19 L437.7 838.01 L438.6 838.01 L438.6 838.12 L439.5 838.12 L439.5 838.2 L440.4 838.2 L440.4 837.66 L441.3 837.66 L441.3 837.23 L442.2 837.23 L442.2 836.53 L443.1 836.53 L443.1 835.76 L444 835.76 L444 834.87 L444.9 834.87 L444.9 835.26 L445.8 835.26 L445.8 834.53 L446.7 834.53 L446.7 832.92 L447.6 832.92 L447.6 831.48 L448.5 831.48 L448.5 831.08 L449.4 831.08 L449.4 830.04 L450.3 830.04 L450.3 830.41 L451.2 830.41 L451.2 830.24 L452.1 830.24 L452.1 831.45 L453 831.45 L453 829.72 L453.9 829.72 L453.9 829.43 L454.8 829.43 L454.8 829.63 L455.7 829.63 L455.7 832.97 L456.6 832.97 L456.6 832.45 L457.5 832.45 L457.5 833.45 L458.4 833.45 L458.4 834.58 L459.3 834.58 L459.3 834.37 L460.2 834.37 L460.2 835.53 L461.1 835.53 L461.1 835.39 L462 835.39 L462 835.51 L462.9 835.51 L462.9 834.77 L463.8 834.77 L463.8 835.42 L464.7 835.42 L464.7 835.18 L465.6 835.18 L465.6 834.32 L466.5 834.32 L466.5 834.63 L467.4 834.63 L467.4 835.29 L468.3 835.29 L468.3 835.26 L469.2 835.26 L469.2 834.63 L470.1 834.63 L470.1 835.56 L471 835.56 L471 834.86 L471.9 834.86 L471.9 835.75 L472.8 835.75 L472.8 834.34 L473.7 834.34 L473.7 835.39 L474.6 835.39 L474.6 835.25 L475.5 835.25 L475.5 834.28 L476.4 834.28 L476.4 832.27 L477.3 832.27 L477.3 831.94 L478.2 831.94 L478.2 832.94 L479.1 832.94 L479.1 831.45 L480 831.45 L480 831.81 L480.9 831.81 L480.9 833.31 L481.8 833.31 L481.8 831.81 L482.7 831.81 L482.7 832.36 L483.6 832.36 L483.6 834.63 L484.5 834.63 L484.5 834.95 L485.4 834.95 L485.4 834.97 L486.3 834.97 L486.3 833.99 L487.2 833.99 L487.2 833.8 L488.1 833.8 L488.1 835.23 L489 835.23 L489 833.71 L489.9 833.71 L489.9 833.75 L490.8 833.75 L490.8 834.78 L491.7 834.78 L491.7 835.57 L492.6 835.57 L492.6 838.2 L493.5 838.2 L493.5 838.17 L494.4 838.17 L494.4 838.13 L495.3 838.13 L495.3 838.16 L496.2 838.16 L496.2 832.81 L497.1 832.81 L497.1 833.5 L498 833.5 L498 831.2 L498.9 831.2 L498.9 833.69 L499.8 833.69 L499.8 833.46 L500.7 833.46 L500.7 833.29 L501.6 833.29 L501.6 831.27 L502.5 831.27 L502.5 832.32 L503.4 832.32 L503.4 829.63 L504.3 829.63 L504.3 829.49 L505.2 829.49 L505.2 831.2 L506.1 831.2 L506.1 830.83 L507 830.83 L507 831.52 L507.9 831.52 L507.9 830.25 L508.8 830.25 L508.8 829.79 L509.7 829.79 L509.7 835.59 L510.6 835.59 L510.6 838.2 L511.5 838.2 L511.5 838.03 L512.4 838.03 L512.4 838 L513.3 838 L513.3 829.31 L514.2 829.31 L514.2 830.14 L515.1 830.14 L515.1 828.81 L516 828.81 L516 831.09 L516.9 831.09 L516.9 829.66 L517.8 829.66 L517.8 829.84 L518.7 829.84 L518.7 829.68 L519.6 829.68 L519.6 831.43 L520.5 831.43 L520.5 830.25 L521.4 830.25 L521.4 831.23 L522.3 831.23 L522.3 830.89 L523.2 830.89 L523.2 828.68 L524.1 828.68 L524.1 830.22 L525 830.22 L525 830.22 L525.9 830.22 L525.9 830.3 L526.8 830.3 L526.8 830.92 L527.7 830.92 L527.7 831.41 L528.6 831.41 L528.6 831.14 L529.5 831.14 L529.5 830.65 L530.4 830.65 L530.4 831.75 L531.3 831.75 L531.3 830.49 L532.2 830.49 L532.2 830.56 L533.1 830.56 L533.1 829.62 L534 829.62 L534 830.1 L534.9 830.1 L534.9 829.35 L535.8 829.35 L535.8 829.11 L536.7 829.11 L536.7 828.43 L537.6 828.43 L537.6 830.77 L538.5 830.77 L538.5 831.02 L539.4 831.02 L539.4 828.75 L540.3 828.75 L540.3 827.24 L541.2 827.24 L541.2 828.29 L542.1 828.29 L542.1 827.24 L543 827.24 L543 829.62 L543.9 829.62 L543.9 827.54 L544.8 827.54 L544.8 830.72 L545.7 830.72 L545.7 829.62 L546.6 829.62 L546.6 831.62 L547.5 831.62 L547.5 831.08 L548.4 831.08 L548.4 831.71 L549.3 831.71 L549.3 827.24 L550.2 827.24 L550.2 830.87 L551.1 830.87 L551.1 829.66 L552 829.66 L552 829.42 L552.9 829.42 L552.9 830.73 L553.8 830.73 L553.8 830.29 L554.7 830.29 L554.7 830.05 L555.6 830.05 L555.6 829.55 L556.5 829.55 L556.5 830.22 L557.4 830.22 L557.4 829.84 L558.3 829.84 L558.3 830.96 L559.2 830.96 L559.2 828.49 L560.1 828.49 L560.1 830.07 L561 830.07 L561 831.49 L561.9 831.49 L561.9 830.59 L562.8 830.59 L562.8 831.24 L563.7 831.24 L563.7 829.96 L564.6 829.96 L564.6 829.5 L565.5 829.5 L565.5 833.15 L566.4 833.15 L566.4 835.37 L567.3 835.37 L567.3 834.7 L568.2 834.7 L568.2 834.35 L569.1 834.35 L569.1 835.34 L570 835.34 L570 829.8 L570.9 829.8 L570.9 830.94 L571.8 830.94 L571.8 828.89 L572.7 828.89 L572.7 829.43 L573.6 829.43 L573.6 829.45 L574.5 829.45 L574.5 827.24 L575.4 827.24 L575.4 827.24 L576.3 827.24 L576.3 829.71 L577.2 829.71 L577.2 827.24 L578.1 827.24 L578.1 830.67 L579 830.67 L579 830.09 L579.9 830.09 L579.9 832.18 L580.8 832.18 L580.8 831.78 L581.7 831.78 L581.7 834.46 L582.6 834.46 L582.6 834.16 L583.5 834.16 L583.5 835.25 L584.4 835.25 L584.4 836.52 L585.3 836.52 L585.3 836.41 L586.2 836.41 L586.2 836.32 L587.1 836.32 L587.1 836.97 L588 836.97 L588 837.18 L588.9 837.18 L588.9 837.43 L589.8 837.43 L589.8 837.87 L590.7 837.87 L590.7 837.73 L591.6 837.73 L591.6 837.72 L592.5 837.72 L592.5 837.72 L593.4 837.72 L593.4 837.76 L594.3 837.76 L594.3 837.96 L595.2 837.96 L595.2 837.89 L596.1 837.89 L596.1 837.78 L597 837.78 L597 838 L597.9 838 L597.9 837.79 L598.8 837.79 L598.8 837.85 L599.7 837.85 L599.7 838.08 L600.6 838.08 L600.6 838.05 L601.5 838.05 L601.5 837.91 L602.4 837.91 L602.4 838.14 L603.3 838.14 L603.3 838.11 L604.2 838.11 L604.2 838.14 L605.1 838.14 L605.1 838.18 L606 838.18 L606 837.84 L606.9 837.84 L606.9 837.81 L607.8 837.81 L607.8 837.89 L608.7 837.89 L608.7 838.02 L609.6 838.02 L609.6 837.93 L610.5 837.93 L610.5 837.96 L611.4 837.96 L611.4 838.06 L612.3 838.06 L612.3 838.03 L613.2 838.03 L613.2 838.19 L614.1 838.19 L614.1 838.15 L615 838.15 L615 838.11 L615.9 838.11 L615.9 838.11 L616.8 838.11 L616.8 838 L617.7 838 L617.7 838.16 L618.6 838.16 L618.6 838.17 L619.5 838.17 L619.5 837.93 L620.4 837.93 L620.4 837.97 L621.3 837.97 L621.3 837.92 L622.2 837.92 L622.2 837.99 L623.1 837.99 L623.1 838.2 L624 838.2 L624 838.1 L624.9 838.1 L624.9 837.98 L625.8 837.98 L625.8 838 L626.7 838 L626.7 838.2 L627.6 838.2 L627.6 838.12 L628.5 838.12 L628.5 838.08 L629.4 838.08 L629.4 838.28 L630.3 838.28 L630.3 838.21 L631.2 838.21 L631.2 838.05 L632.1 838.05 L632.1 838.08 L633 838.08 L633 838.15 L633.9 838.15 L633.9 838.12 L634.8 838.12 L634.8 838.13 L635.7 838.13 L635.7 838.2 L636.6 838.2 L636.6 838.28 L637.5 838.28 L637.5 838.08 L638.4 838.08 L638.4 838.08 L639.3 838.08 L639.3 838.18 L640.2 838.18 L640.2 838.09 L641.1 838.09 L641.1 838.08 L642 838.08 L642 838.12 L642.9 838.12 L642.9 838.09 L643.8 838.09 L643.8 838.05 L644.7 838.05 L644.7 838.32 L645.6 838.32 L645.6 837.65 L646.5 837.65 L646.5 837.79 L647.4 837.79 L647.4 838.31 L648.3 838.31 L648.3 838.13 L649.2 838.13 L649.2 838.24 L650.1 838.24 L650.1 838.22 L651 838.22 L651 838.25 L651.9 838.25 L651.9 838.1 L652.8 838.1 L652.8 838.15 L653.7 838.15 L653.7 838.25 L654.6 838.25 L654.6 838.12 L655.5 838.12 L655.5 838.28 L656.4 838.28 L656.4 838.11 L657.3 838.11 L657.3 838.16 L658.2 838.16 L658.2 838.12 L659.1 838.12 L659.1 838.16 L660 838.16 L660 838.05 L660.9 838.05 L660.9 838.14 L661.8 838.14 L661.8 838.2 L662.7 838.2 L662.7 838.16 L663.6 838.16 L663.3 838.54 Z" fill="#c41ec4"/>
<rect x="59.9" y="852" width="603.4" height="1" fill="#aedada"/>
<path d="M69 853 h1 v-11.4 h-1 ZM81 853 h1 v-11.4 h-1 ZM83 853 h1 v-11.4 h-1 ZM94 853 h1 v-4.9 h-1 ZM97 853 h1 v-4.9 h-1 ZM107 853 h1 v-8.5 h-1 ZM114 853 h1 v-3 h-1 ZM116 853 h1 v-8.5 h-1 ZM117 853 h1 v-8.5 h-1 ZM127 853 h1 v-6.5 h-1 ZM130 853 h1 v-11 h-1 ZM133 853 h1 v-11 h-1 ZM138 853 h1 v-11.4 h-1 ZM141 853 h1 v-7 h-1 ZM146 853 h1 v-5 h-1 ZM150 853 h1 v-9.92 h-1 ZM150 853 h1 v-8.79 h-1 ZM152 853 h1 v-10.82 h-1 ZM161 853 h1 v-10.36 h-1 ZM162 853 h1 v-9.21 h-1 ZM167 853 h1 v-10.23 h-1 ZM171 853 h1 v-10.58 h-1 ZM173 853 h1 v-8.65 h-1 ZM174 853 h1 v-10.69 h-1 ZM181 853 h1 v-9.21 h-1 ZM182 853 h1 v-9.64 h-1 ZM184 853 h1 v-8.65 h-1 ZM185 853 h1 v-10.62 h-1 ZM187 853 h1 v-10.03 h-1 ZM191 853 h1 v-7 h-1 ZM192 853 h1 v-3 h-1 ZM194 853 h1 v-1.5 h-1 ZM195 853 h1 v-1.5 h-1 ZM211 853 h1 v-7 h-1 ZM213 853 h1 v-9 h-1 ZM217 853 h1 v-6 h-1 ZM218 853 h1 v-8 h-1 ZM221 853 h1 v-9 h-1 ZM225 853 h1 v-10.32 h-1 ZM226 853 h1 v-11.3 h-1 ZM227 853 h1 v-9.02 h-1 ZM229 853 h1 v-10.14 h-1 ZM230 853 h1 v-10.23 h-1 ZM231 853 h1 v-8.16 h-1 ZM233 853 h1 v-9.5 h-1 ZM234 853 h1 v-8.31 h-1 ZM237 853 h1 v-9 h-1 ZM238 853 h1 v-9 h-1 ZM241 853 h1 v-8 h-1 ZM244 853 h1 v-9 h-1 ZM246 853 h1 v-8 h-1 ZM247 853 h1 v-9 h-1 ZM251 853 h1 v-6 h-1 ZM272 853 h1 v-2.5 h-1 ZM274 853 h1 v-2.5 h-1 ZM276 853 h1 v-2.5 h-1 ZM278 853 h1 v-9 h-1 ZM287 853 h1 v-3 h-1 ZM288 853 h1 v-6 h-1 ZM290 853 h1 v-9 h-1 ZM291 853 h1 v-11 h-1 ZM301 853 h1 v-7 h-1 ZM302 853 h1 v-9 h-1 ZM304 853 h1 v-8.43 h-1 ZM306 853 h1 v-10.04 h-1 ZM307 853 h1 v-9.16 h-1 ZM309 853 h1 v-8.28 h-1 ZM311 853 h1 v-8.82 h-1 ZM311 853 h1 v-9.17 h-1 ZM313 853 h1 v-11.36 h-1 ZM362 853 h1 v-11.4 h-1 ZM379 853 h1 v-8 h-1 ZM387 853 h1 v-9.24 h-1 ZM389 853 h1 v-10.49 h-1 ZM391 853 h1 v-9.22 h-1 ZM396 853 h1 v-7.93 h-1 ZM398 853 h1 v-10.2 h-1 ZM400 853 h1 v-9.56 h-1 ZM401 853 h1 v-10.05 h-1 ZM403 853 h1 v-10.29 h-1 ZM405 853 h1 v-9.25 h-1 ZM417 853 h1 v-7.39 h-1 ZM418 853 h1 v-10.13 h-1 ZM421 853 h1 v-7.84 h-1 ZM426 853 h1 v-11.13 h-1 ZM428 853 h1 v-9.81 h-1 ZM430 853 h1 v-8.9 h-1 ZM432 853 h1 v-10.49 h-1 ZM433 853 h1 v-9.39 h-1 ZM443 853 h1 v-7.68 h-1 ZM447 853 h1 v-2 h-1 ZM451 853 h1 v-1.5 h-1 ZM457 853 h1 v-2 h-1 ZM459 853 h1 v-3 h-1 ZM460 853 h1 v-8.73 h-1 ZM461 853 h1 v-9.75 h-1 ZM463 853 h1 v-9.76 h-1 ZM464 853 h1 v-10.3 h-1 ZM465 853 h1 v-11.34 h-1 ZM466 853 h1 v-6.56 h-1 ZM468 853 h1 v-10.4 h-1 ZM469 853 h1 v-9.23 h-1 ZM471 853 h1 v-8.47 h-1 ZM472 853 h1 v-10.97 h-1 ZM473 853 h1 v-9.91 h-1 ZM474 853 h1 v-7.79 h-1 ZM476 853 h1 v-9.78 h-1 ZM478 853 h1 v-11.12 h-1 ZM485 853 h1 v-1 h-1 ZM489 853 h1 v-9 h-1 ZM494 853 h1 v-8.57 h-1 ZM495 853 h1 v-10.79 h-1 ZM496 853 h1 v-10.37 h-1 ZM496 853 h1 v-10.43 h-1 ZM497 853 h1 v-7.46 h-1 ZM528 853 h1 v-1.02 h-1 ZM530 853 h1 v-1.19 h-1 ZM532 853 h1 v-0.88 h-1 ZM534 853 h1 v-0.96 h-1 ZM536 853 h1 v-0.93 h-1 ZM537 853 h1 v-0.92 h-1 ZM543 853 h1 v-5.37 h-1 ZM545 853 h1 v-6.01 h-1 ZM550 853 h1 v-6 h-1 ZM554 853 h1 v-1 h-1 ZM557 853 h1 v-1 h-1 ZM567 853 h1 v-3 h-1 ZM570 853 h1 v-5 h-1 ZM574 853 h1 v-1.5 h-1 ZM576 853 h1 v-1.5 h-1 ZM579 853 h1 v-7 h-1 ZM580 853 h1 v-7 h-1 ZM581 853 h1 v-10.79 h-1 ZM587 853 h1 v-7.96 h-1 ZM590 853 h1 v-11.19 h-1 ZM592 853 h1 v-8.91 h-1 ZM594 853 h1 v-10.2 h-1 ZM595 853 h1 v-9.13 h-1 ZM597 853 h1 v-9.83 h-1 ZM600 853 h1 v-10.73 h-1 ZM605 853 h1 v-8 h-1 ZM612 853 h1 v-11.34 h-1 ZM613 853 h1 v-11.11 h-1 ZM614 853 h1 v-10.75 h-1 ZM616 853 h1 v-9.65 h-1 ZM617 853 h1 v-8 h-1 ZM619 853 h1 v-7.33 h-1 ZM621 853 h1 v-10.72 h-1 ZM623 853 h1 v-8.48 h-1 ZM631 853 h1 v-9.77 h-1 ZM632 853 h1 v-8.79 h-1 ZM634 853 h1 v-8.64 h-1 ZM636 853 h1 v-9.45 h-1 ZM639 853 h1 v-10.79 h-1 ZM642 853 h1 v-10.29 h-1 ZM642 853 h1 v-7.26 h-1 ZM643 853 h1 v-10.17 h-1 ZM644 853 h1 v-7.05 h-1 ZM646 853 h1 v-8.14 h-1 ZM647 853 h1 v-7.44 h-1 ZM648 853 h1 v-8.69 h-1 ZM649 853 h1 v-10.26 h-1 ZM650 853 h1 v-9.72 h-1 ZM652 853 h1 v-9.97 h-1 ZM653 853 h1 v-10.14 h-1 ZM654 853 h1 v-11.16 h-1 ZM657 853 h1 v-9.87 h-1 ZM658 853 h1 v-9.42 h-1 ZM659 853 h1 v-10.2 h-1 ZM660 853 h1 v-10.91 h-1 ZM662 853 h1 v-9.47 h-1 Z" fill="#2c9c9e"/>
<rect x="59.9" y="866" width="603.4" height="1" fill="#d77ccd"/>
<path d="M66 867 h1 v-9.01 h-1 ZM67 867 h1 v-9.69 h-1 ZM68 867 h1 v-7.18 h-1 ZM74 867 h1 v-8.87 h-1 ZM78 867 h1 v-6.02 h-1 ZM81 867 h1 v-8.28 h-1 ZM83 867 h1 v-8.09 h-1 ZM97 867 h1 v-11.4 h-1 ZM116 867 h1 v-11.4 h-1 ZM127 867 h1 v-7 h-1 ZM130 867 h1 v-7.54 h-1 ZM136 867 h1 v-7.42 h-1 ZM137 867 h1 v-10.3 h-1 ZM139 867 h1 v-11.18 h-1 ZM141 867 h1 v-11.4 h-1 ZM146 867 h1 v-11.4 h-1 ZM159 867 h1 v-11.28 h-1 ZM161 867 h1 v-9.99 h-1 ZM163 867 h1 v-7.47 h-1 ZM170 867 h1 v-10.58 h-1 ZM172 867 h1 v-10.53 h-1 ZM174 867 h1 v-7.76 h-1 ZM176 867 h1 v-9.69 h-1 ZM184 867 h1 v-10.64 h-1 ZM185 867 h1 v-9.91 h-1 ZM186 867 h1 v-8 h-1 ZM190 867 h1 v-6.75 h-1 ZM192 867 h1 v-6.7 h-1 ZM194 867 h1 v-7.61 h-1 ZM203 867 h1 v-1 h-1 ZM211 867 h1 v-4.01 h-1 ZM212 867 h1 v-4.4 h-1 ZM214 867 h1 v-4.89 h-1 ZM215 867 h1 v-3.77 h-1 ZM220 867 h1 v-11.4 h-1 ZM225 867 h1 v-10.49 h-1 ZM227 867 h1 v-9.11 h-1 ZM231 867 h1 v-5.89 h-1 ZM233 867 h1 v-6.25 h-1 ZM237 867 h1 v-6.44 h-1 ZM241 867 h1 v-9.62 h-1 ZM242 867 h1 v-7 h-1 ZM245 867 h1 v-9.49 h-1 ZM249 867 h1 v-7.55 h-1 ZM251 867 h1 v-5.96 h-1 ZM274 867 h1 v-6.52 h-1 ZM275 867 h1 v-7.67 h-1 ZM277 867 h1 v-5.94 h-1 ZM281 867 h1 v-1.82 h-1 ZM282 867 h1 v-1.5 h-1 ZM288 867 h1 v-9.79 h-1 ZM289 867 h1 v-6.06 h-1 ZM291 867 h1 v-9.94 h-1 ZM295 867 h1 v-6 h-1 ZM301 867 h1 v-6.33 h-1 ZM302 867 h1 v-7.56 h-1 ZM304 867 h1 v-7.54 h-1 ZM306 867 h1 v-10.98 h-1 ZM307 867 h1 v-11.4 h-1 ZM310 867 h1 v-8.76 h-1 ZM312 867 h1 v-10.01 h-1 ZM314 867 h1 v-10.7 h-1 ZM315 867 h1 v-10.94 h-1 ZM316 867 h1 v-10.7 h-1 ZM325 867 h1 v-8 h-1 ZM330 867 h1 v-9.72 h-1 ZM353 867 h1 v-8 h-1 ZM378 867 h1 v-6.74 h-1 ZM380 867 h1 v-6.93 h-1 ZM385 867 h1 v-9.79 h-1 ZM388 867 h1 v-7.8 h-1 ZM398 867 h1 v-9.69 h-1 ZM400 867 h1 v-8.62 h-1 ZM402 867 h1 v-10.42 h-1 ZM403 867 h1 v-8.78 h-1 ZM406 867 h1 v-9.87 h-1 ZM415 867 h1 v-6.69 h-1 ZM417 867 h1 v-9.3 h-1 ZM418 867 h1 v-9.17 h-1 ZM420 867 h1 v-10.89 h-1 ZM427 867 h1 v-11.29 h-1 ZM431 867 h1 v-7.99 h-1 ZM433 867 h1 v-11.39 h-1 ZM444 867 h1 v-11.4 h-1 ZM451 867 h1 v-3.93 h-1 ZM453 867 h1 v-3.53 h-1 ZM455 867 h1 v-8.25 h-1 ZM456 867 h1 v-9.43 h-1 ZM457 867 h1 v-5.44 h-1 ZM459 867 h1 v-7.75 h-1 ZM460 867 h1 v-7.62 h-1 ZM465 867 h1 v-9.03 h-1 ZM466 867 h1 v-7.43 h-1 ZM467 867 h1 v-10.89 h-1 ZM468 867 h1 v-7.77 h-1 ZM470 867 h1 v-7.42 h-1 ZM471 867 h1 v-6.58 h-1 ZM472 867 h1 v-8.09 h-1 ZM473 867 h1 v-7.71 h-1 ZM475 867 h1 v-7.88 h-1 ZM476 867 h1 v-10.78 h-1 ZM477 867 h1 v-9.98 h-1 ZM478 867 h1 v-10.82 h-1 ZM488 867 h1 v-1.94 h-1 ZM490 867 h1 v-2.07 h-1 ZM494 867 h1 v-8.12 h-1 ZM495 867 h1 v-10.25 h-1 ZM498 867 h1 v-8.89 h-1 ZM515 867 h1 v-1 h-1 ZM531 867 h1 v-0.99 h-1 ZM533 867 h1 v-1.04 h-1 ZM535 867 h1 v-1.12 h-1 ZM545 867 h1 v-1 h-1 ZM553 867 h1 v-1 h-1 ZM563 867 h1 v-2.47 h-1 ZM565 867 h1 v-2.31 h-1 ZM570 867 h1 v-1.03 h-1 ZM571 867 h1 v-1.38 h-1 ZM579 867 h1 v-1.5 h-1 ZM581 867 h1 v-8.65 h-1 ZM588 867 h1 v-8.91 h-1 ZM592 867 h1 v-10.26 h-1 ZM593 867 h1 v-9.63 h-1 ZM595 867 h1 v-9.24 h-1 ZM597 867 h1 v-10.17 h-1 ZM605 867 h1 v-7.22 h-1 ZM611 867 h1 v-10.19 h-1 ZM613 867 h1 v-9.77 h-1 ZM642 867 h1 v-11.05 h-1 ZM643 867 h1 v-10.17 h-1 ZM643 867 h1 v-6.82 h-1 ZM645 867 h1 v-10.91 h-1 ZM645 867 h1 v-8.28 h-1 ZM646 867 h1 v-10.89 h-1 ZM648 867 h1 v-7.78 h-1 ZM648 867 h1 v-8.27 h-1 ZM650 867 h1 v-8.51 h-1 ZM651 867 h1 v-9.28 h-1 ZM653 867 h1 v-9.3 h-1 ZM654 867 h1 v-11.02 h-1 ZM655 867 h1 v-9.3 h-1 ZM656 867 h1 v-7 h-1 ZM656 867 h1 v-11.37 h-1 ZM658 867 h1 v-9.32 h-1 ZM659 867 h1 v-11.11 h-1 ZM660 867 h1 v-10.5 h-1 ZM661 867 h1 v-9.7 h-1 ZM662 867 h1 v-10.05 h-1 Z" fill="#c22ea0"/>
<rect x="59.9" y="881" width="603.4" height="1" fill="#b4f4e4"/>
<path d="M61 882 h1 v-11.4 h-1 ZM65 882 h1 v-8.1 h-1 ZM68 882 h1 v-10.6 h-1 ZM74 882 h1 v-10.92 h-1 ZM75 882 h1 v-9.19 h-1 ZM81 882 h1 v-11.31 h-1 ZM82 882 h1 v-10.91 h-1 ZM89 882 h1 v-5 h-1 ZM107 882 h1 v-6.85 h-1 ZM108 882 h1 v-6.31 h-1 ZM125 882 h1 v-2.9 h-1 ZM137 882 h1 v-2.5 h-1 ZM149 882 h1 v-6.69 h-1 ZM151 882 h1 v-6.06 h-1 ZM161 882 h1 v-9.73 h-1 ZM163 882 h1 v-11.23 h-1 ZM164 882 h1 v-8.78 h-1 ZM166 882 h1 v-10.9 h-1 ZM171 882 h1 v-7.93 h-1 ZM172 882 h1 v-6.68 h-1 ZM174 882 h1 v-5.78 h-1 ZM181 882 h1 v-8.63 h-1 ZM183 882 h1 v-7.28 h-1 ZM185 882 h1 v-8.54 h-1 ZM188 882 h1 v-2.34 h-1 ZM190 882 h1 v-1.81 h-1 ZM208 882 h1 v-1 h-1 ZM224 882 h1 v-1 h-1 ZM232 882 h1 v-1 h-1 ZM237 882 h1 v-1 h-1 ZM246 882 h1 v-1 h-1 ZM258 882 h1 v-1 h-1 ZM270 882 h1 v-1 h-1 ZM275 882 h1 v-9.39 h-1 ZM277 882 h1 v-10.03 h-1 ZM278 882 h1 v-10.03 h-1 ZM280 882 h1 v-6.21 h-1 ZM288 882 h1 v-6.31 h-1 ZM290 882 h1 v-4.5 h-1 ZM300 882 h1 v-4.43 h-1 ZM301 882 h1 v-4.36 h-1 ZM305 882 h1 v-10.58 h-1 ZM307 882 h1 v-11.36 h-1 ZM308 882 h1 v-10.75 h-1 ZM310 882 h1 v-10.21 h-1 ZM336 882 h1 v-8 h-1 ZM362 882 h1 v-7 h-1 ZM364 882 h1 v-11 h-1 ZM388 882 h1 v-11.4 h-1 ZM391 882 h1 v-8 h-1 ZM397 882 h1 v-7.85 h-1 ZM400 882 h1 v-11.16 h-1 ZM401 882 h1 v-8.15 h-1 ZM403 882 h1 v-8.53 h-1 ZM405 882 h1 v-8.85 h-1 ZM407 882 h1 v-9.76 h-1 ZM417 882 h1 v-10.72 h-1 ZM419 882 h1 v-8.8 h-1 ZM421 882 h1 v-11.09 h-1 ZM426 882 h1 v-10.63 h-1 ZM427 882 h1 v-11.26 h-1 ZM429 882 h1 v-6.92 h-1 ZM432 882 h1 v-10.41 h-1 ZM433 882 h1 v-11.06 h-1 ZM440 882 h1 v-9.88 h-1 ZM441 882 h1 v-7.53 h-1 ZM443 882 h1 v-5.49 h-1 ZM445 882 h1 v-6.29 h-1 ZM449 882 h1 v-1 h-1 ZM456 882 h1 v-1.37 h-1 ZM458 882 h1 v-1.66 h-1 ZM461 882 h1 v-4.88 h-1 ZM463 882 h1 v-8.17 h-1 ZM465 882 h1 v-10.74 h-1 ZM466 882 h1 v-11.21 h-1 ZM467 882 h1 v-10.15 h-1 ZM468 882 h1 v-10.49 h-1 ZM469 882 h1 v-9.33 h-1 ZM470 882 h1 v-10.85 h-1 ZM471 882 h1 v-8.06 h-1 ZM472 882 h1 v-10.65 h-1 ZM474 882 h1 v-10.47 h-1 ZM475 882 h1 v-8.42 h-1 ZM477 882 h1 v-6.48 h-1 ZM489 882 h1 v-6.17 h-1 ZM490 882 h1 v-6.59 h-1 ZM495 882 h1 v-9 h-1 ZM498 882 h1 v-1 h-1 ZM526 882 h1 v-0.99 h-1 ZM528 882 h1 v-0.88 h-1 ZM530 882 h1 v-0.97 h-1 ZM531 882 h1 v-0.8 h-1 ZM543 882 h1 v-3.8 h-1 ZM545 882 h1 v-3.85 h-1 ZM548 882 h1 v-1.12 h-1 ZM550 882 h1 v-1.06 h-1 ZM552 882 h1 v-0.84 h-1 ZM554 882 h1 v-0.78 h-1 ZM578 882 h1 v-2 h-1 ZM581 882 h1 v-9.19 h-1 ZM582 882 h1 v-9.9 h-1 ZM584 882 h1 v-8.6 h-1 ZM587 882 h1 v-10.87 h-1 ZM588 882 h1 v-10.01 h-1 ZM592 882 h1 v-3.19 h-1 ZM593 882 h1 v-3.62 h-1 ZM594 882 h1 v-3 h-1 ZM596 882 h1 v-7.67 h-1 ZM598 882 h1 v-4.83 h-1 ZM599 882 h1 v-7.65 h-1 ZM605 882 h1 v-11.4 h-1 ZM612 882 h1 v-8.98 h-1 ZM614 882 h1 v-9.78 h-1 ZM617 882 h1 v-5.6 h-1 ZM618 882 h1 v-8.08 h-1 ZM620 882 h1 v-4.71 h-1 ZM622 882 h1 v-7.4 h-1 ZM623 882 h1 v-7.26 h-1 ZM631 882 h1 v-8.58 h-1 ZM632 882 h1 v-9.31 h-1 ZM634 882 h1 v-7.84 h-1 ZM636 882 h1 v-10.79 h-1 ZM638 882 h1 v-8.99 h-1 ZM642 882 h1 v-10.69 h-1 ZM643 882 h1 v-8.76 h-1 ZM644 882 h1 v-9.45 h-1 ZM646 882 h1 v-10.12 h-1 ZM647 882 h1 v-9.71 h-1 ZM649 882 h1 v-9.02 h-1 ZM650 882 h1 v-8.08 h-1 ZM651 882 h1 v-7.53 h-1 ZM653 882 h1 v-9.87 h-1 ZM657 882 h1 v-9.47 h-1 ZM659 882 h1 v-8.37 h-1 ZM661 882 h1 v-9.32 h-1 Z" fill="#46e6c0"/>
<rect x="59.9" y="895" width="603.4" height="1" fill="#c49a86"/>
<path d="M66 896 h1 v-10.56 h-1 ZM67 896 h1 v-11.39 h-1 ZM68 896 h1 v-9.34 h-1 ZM69 896 h1 v-9.34 h-1 ZM74 896 h1 v-9.56 h-1 ZM75 896 h1 v-8.54 h-1 ZM77 896 h1 v-9 h-1 ZM78 896 h1 v-8.78 h-1 ZM79 896 h1 v-10.69 h-1 ZM80 896 h1 v-10.43 h-1 ZM81 896 h1 v-8.07 h-1 ZM82 896 h1 v-10.87 h-1 ZM126 896 h1 v-3 h-1 ZM129 896 h1 v-3 h-1 ZM133 896 h1 v-3 h-1 ZM159 896 h1 v-7 h-1 ZM158 896 h1 v-10.01 h-1 ZM160 896 h1 v-8.05 h-1 ZM169 896 h1 v-10.91 h-1 ZM170 896 h1 v-8.52 h-1 ZM172 896 h1 v-10.41 h-1 ZM174 896 h1 v-10.98 h-1 ZM176 896 h1 v-8.62 h-1 ZM184 896 h1 v-5.38 h-1 ZM185 896 h1 v-5.14 h-1 ZM188 896 h1 v-9.03 h-1 ZM195 896 h1 v-1 h-1 ZM203 896 h1 v-1.5 h-1 ZM208 896 h1 v-1.5 h-1 ZM221 896 h1 v-1.18 h-1 ZM223 896 h1 v-1.43 h-1 ZM225 896 h1 v-1.39 h-1 ZM232 896 h1 v-1.46 h-1 ZM244 896 h1 v-2 h-1 ZM272 896 h1 v-2 h-1 ZM277 896 h1 v-7.62 h-1 ZM281 896 h1 v-2 h-1 ZM290 896 h1 v-1 h-1 ZM295 896 h1 v-1 h-1 ZM301 896 h1 v-10.46 h-1 ZM302 896 h1 v-7.79 h-1 ZM303 896 h1 v-9.23 h-1 ZM304 896 h1 v-9.09 h-1 ZM305 896 h1 v-7.73 h-1 ZM307 896 h1 v-10.17 h-1 ZM309 896 h1 v-10.19 h-1 ZM310 896 h1 v-8.2 h-1 ZM312 896 h1 v-9.79 h-1 ZM313 896 h1 v-8.56 h-1 ZM314 896 h1 v-11.34 h-1 ZM316 896 h1 v-10.77 h-1 ZM324 896 h1 v-7.93 h-1 ZM329 896 h1 v-7 h-1 ZM364 896 h1 v-7 h-1 ZM378 896 h1 v-8 h-1 ZM386 896 h1 v-6.52 h-1 ZM387 896 h1 v-7.82 h-1 ZM389 896 h1 v-7.9 h-1 ZM398 896 h1 v-7.09 h-1 ZM400 896 h1 v-8.89 h-1 ZM402 896 h1 v-8.66 h-1 ZM404 896 h1 v-10.99 h-1 ZM406 896 h1 v-10.27 h-1 ZM414 896 h1 v-9.17 h-1 ZM417 896 h1 v-9.26 h-1 ZM419 896 h1 v-7.89 h-1 ZM427 896 h1 v-11.03 h-1 ZM431 896 h1 v-8.72 h-1 ZM433 896 h1 v-7.33 h-1 ZM440 896 h1 v-10 h-1 ZM444 896 h1 v-7 h-1 ZM454 896 h1 v-4.53 h-1 ZM455 896 h1 v-4.39 h-1 ZM457 896 h1 v-5.37 h-1 ZM465 896 h1 v-9.02 h-1 ZM466 896 h1 v-8.36 h-1 ZM468 896 h1 v-6.11 h-1 ZM469 896 h1 v-11.03 h-1 ZM471 896 h1 v-11.19 h-1 ZM474 896 h1 v-9.19 h-1 ZM475 896 h1 v-6.18 h-1 ZM477 896 h1 v-10.78 h-1 ZM489 896 h1 v-3 h-1 ZM494 896 h1 v-5.47 h-1 ZM496 896 h1 v-6.88 h-1 ZM498 896 h1 v-1.5 h-1 ZM524 896 h1 v-2.04 h-1 ZM539 896 h1 v-1.05 h-1 ZM541 896 h1 v-1.17 h-1 ZM542 896 h1 v-1.14 h-1 ZM544 896 h1 v-0.98 h-1 ZM581 896 h1 v-9.16 h-1 ZM582 896 h1 v-4.44 h-1 ZM584 896 h1 v-5.23 h-1 ZM585 896 h1 v-4.17 h-1 ZM587 896 h1 v-7.34 h-1 ZM588 896 h1 v-5.12 h-1 ZM592 896 h1 v-8.16 h-1 ZM594 896 h1 v-8.16 h-1 ZM597 896 h1 v-8.81 h-1 ZM598 896 h1 v-5 h-1 ZM605 896 h1 v-6.59 h-1 ZM612 896 h1 v-8.75 h-1 ZM613 896 h1 v-10.19 h-1 ZM642 896 h1 v-8.49 h-1 ZM643 896 h1 v-9.79 h-1 ZM644 896 h1 v-8.12 h-1 ZM645 896 h1 v-11.18 h-1 ZM646 896 h1 v-8.44 h-1 ZM646 896 h1 v-8.27 h-1 ZM647 896 h1 v-9.31 h-1 ZM648 896 h1 v-10.28 h-1 ZM649 896 h1 v-8.59 h-1 ZM650 896 h1 v-8.04 h-1 ZM650 896 h1 v-7.48 h-1 ZM653 896 h1 v-9.05 h-1 ZM654 896 h1 v-8.4 h-1 ZM655 896 h1 v-8.86 h-1 ZM656 896 h1 v-8.11 h-1 ZM657 896 h1 v-7.78 h-1 ZM658 896 h1 v-6.98 h-1 ZM659 896 h1 v-7.25 h-1 ZM660 896 h1 v-6.65 h-1 ZM661 896 h1 v-7.21 h-1 ZM662 896 h1 v-9.11 h-1 Z" fill="#9a4a24"/>
<rect x="59.9" y="910" width="603.4" height="1" fill="#cdebb4"/>
<path d="M76 911 h1 v-5 h-1 ZM91 911 h1 v-3.7 h-1 ZM98 911 h1 v-2 h-1 ZM104 911 h1 v-3 h-1 ZM120 911 h1 v-3 h-1 ZM138 911 h1 v-3 h-1 ZM150 911 h1 v-4.5 h-1 ZM167 911 h1 v-3.31 h-1 ZM168 911 h1 v-2.47 h-1 ZM175 911 h1 v-3 h-1 ZM184 911 h1 v-3.19 h-1 ZM185 911 h1 v-2.61 h-1 ZM194 911 h1 v-0.97 h-1 ZM196 911 h1 v-0.96 h-1 ZM205 911 h1 v-1.19 h-1 ZM207 911 h1 v-1.55 h-1 ZM208 911 h1 v-1.41 h-1 ZM217 911 h1 v-4 h-1 ZM222 911 h1 v-1.67 h-1 ZM224 911 h1 v-1.98 h-1 ZM233 911 h1 v-2 h-1 ZM243 911 h1 v-2 h-1 ZM251 911 h1 v-3.5 h-1 ZM274 911 h1 v-5.87 h-1 ZM276 911 h1 v-4.22 h-1 ZM277 911 h1 v-3.3 h-1 ZM280 911 h1 v-5.08 h-1 ZM282 911 h1 v-0.99 h-1 ZM283 911 h1 v-0.99 h-1 ZM290 911 h1 v-1.07 h-1 ZM300 911 h1 v-4 h-1 ZM303 911 h1 v-2 h-1 ZM309 911 h1 v-1.58 h-1 ZM311 911 h1 v-1.9 h-1 ZM399 911 h1 v-3.89 h-1 ZM417 911 h1 v-2.21 h-1 ZM419 911 h1 v-2.95 h-1 ZM421 911 h1 v-2.89 h-1 ZM426 911 h1 v-4 h-1 ZM432 911 h1 v-2.55 h-1 ZM440 911 h1 v-2.18 h-1 ZM461 911 h1 v-4 h-1 ZM464 911 h1 v-8.28 h-1 ZM465 911 h1 v-7.8 h-1 ZM471 911 h1 v-1 h-1 ZM474 911 h1 v-9.05 h-1 ZM476 911 h1 v-10.41 h-1 ZM485 911 h1 v-3.99 h-1 ZM487 911 h1 v-3.62 h-1 ZM489 911 h1 v-3.83 h-1 ZM498 911 h1 v-3 h-1 ZM502 911 h1 v-3 h-1 ZM523 911 h1 v-2.5 h-1 ZM524 911 h1 v-2.83 h-1 ZM526 911 h1 v-1.71 h-1 ZM528 911 h1 v-2.07 h-1 ZM530 911 h1 v-2.81 h-1 ZM535 911 h1 v-1.04 h-1 ZM537 911 h1 v-1.42 h-1 ZM539 911 h1 v-1.21 h-1 ZM540 911 h1 v-1.18 h-1 ZM542 911 h1 v-1.28 h-1 ZM546 911 h1 v-7 h-1 ZM548 911 h1 v-2.59 h-1 ZM550 911 h1 v-2.28 h-1 ZM593 911 h1 v-2.4 h-1 ZM612 911 h1 v-2.79 h-1 ZM614 911 h1 v-2.65 h-1 ZM632 911 h1 v-2 h-1 ZM647 911 h1 v-4.02 h-1 ZM650 911 h1 v-2.93 h-1 ZM654 911 h1 v-2 h-1 ZM661 911 h1 v-2.77 h-1 ZM663 911 h1 v-2.76 h-1 Z" fill="#7cc83a"/>
<rect x="59.9" y="924" width="603.4" height="1" fill="#f9b4a0"/>
<path d="M67 925 h1 v-6.5 h-1 ZM79 925 h1 v-6.5 h-1 ZM80 925 h1 v-10 h-1 ZM83 925 h1 v-3 h-1 ZM101 925 h1 v-5.5 h-1 ZM160 925 h1 v-2 h-1 ZM170 925 h1 v-3.49 h-1 ZM187 925 h1 v-1.06 h-1 ZM188 925 h1 v-1.46 h-1 ZM190 925 h1 v-1.32 h-1 ZM192 925 h1 v-1.15 h-1 ZM208 925 h1 v-4 h-1 ZM223 925 h1 v-1.47 h-1 ZM231 925 h1 v-2.5 h-1 ZM236 925 h1 v-2.47 h-1 ZM238 925 h1 v-1.56 h-1 ZM245 925 h1 v-1.88 h-1 ZM271 925 h1 v-2.5 h-1 ZM281 925 h1 v-1.64 h-1 ZM291 925 h1 v-1.36 h-1 ZM293 925 h1 v-1.36 h-1 ZM305 925 h1 v-4 h-1 ZM307 925 h1 v-3.9 h-1 ZM309 925 h1 v-4.39 h-1 ZM311 925 h1 v-4.39 h-1 ZM319 925 h1 v-2 h-1 ZM329 925 h1 v-5 h-1 ZM353 925 h1 v-3 h-1 ZM379 925 h1 v-4 h-1 ZM400 925 h1 v-3 h-1 ZM403 925 h1 v-2 h-1 ZM417 925 h1 v-4.59 h-1 ZM419 925 h1 v-3.31 h-1 ZM454 925 h1 v-2 h-1 ZM461 925 h1 v-5 h-1 ZM466 925 h1 v-3 h-1 ZM469 925 h1 v-4.36 h-1 ZM474 925 h1 v-3.93 h-1 ZM477 925 h1 v-3.83 h-1 ZM514 925 h1 v-2.45 h-1 ZM519 925 h1 v-2.79 h-1 ZM530 925 h1 v-3 h-1 ZM534 925 h1 v-6 h-1 ZM538 925 h1 v-3 h-1 ZM541 925 h1 v-3.8 h-1 ZM542 925 h1 v-2.31 h-1 ZM545 925 h1 v-2 h-1 ZM550 925 h1 v-3 h-1 ZM556 925 h1 v-6 h-1 ZM556 925 h1 v-5.5 h-1 ZM563 925 h1 v-1.96 h-1 ZM564 925 h1 v-2.4 h-1 ZM574 925 h1 v-4 h-1 ZM586 925 h1 v-1 h-1 ZM598 925 h1 v-3 h-1 ZM611 925 h1 v-8.5 h-1 ZM642 925 h1 v-1.92 h-1 ZM647 925 h1 v-4.39 h-1 ZM650 925 h1 v-3.5 h-1 ZM654 925 h1 v-2.5 h-1 ZM659 925 h1 v-1.24 h-1 ZM660 925 h1 v-1.97 h-1 ZM663 925 h1 v-1.96 h-1 Z" fill="#f2603e"/>
<line x1="59.4" y1="939.6" x2="663.6" y2="939.6" stroke="#e2e2e2" stroke-width="0.8"/>
<line x1="59.4" y1="954.2" x2="663.6" y2="954.2" stroke="#e2e2e2" stroke-width="0.8"/>
<rect x="83" y="928" width="1.6" height="3.5" fill="#c9c91c"/>
<rect x="94.1" y="928" width="1.4" height="3.5" fill="#c9c91c"/>
<rect x="96.3" y="928" width="1.3" height="3.5" fill="#c9c91c"/>
<rect x="107.1" y="928" width="1.5" height="3.5" fill="#c9c91c"/>
<rect x="109.3" y="928" width="2.4" height="3.5" fill="#c9c91c"/>
<rect x="116" y="928" width="0.6" height="3.5" fill="#c9c91c"/>
<rect x="149" y="928" width="1" height="3.5" fill="#c9c91c"/>
<rect x="151" y="928" width="0.9" height="3.5" fill="#c9c91c"/>
<rect x="169.3" y="928" width="1" height="3.5" fill="#c9c91c"/>
<rect x="221.2" y="928" width="0.9" height="3.5" fill="#c9c91c"/>
<rect x="274.2" y="928" width="1" height="3.5" fill="#c9c91c"/>
<rect x="276.3" y="928" width="2.9" height="3.5" fill="#c9c91c"/>
<rect x="305.6" y="928" width="1.2" height="3.5" fill="#c9c91c"/>
<rect x="453.9" y="928" width="1.5" height="3.5" fill="#c9c91c"/>
<rect x="458.8" y="928" width="1.2" height="3.5" fill="#c9c91c"/>
<rect x="460.6" y="928" width="1.3" height="3.5" fill="#c9c91c"/>
<rect x="464.2" y="928" width="2.8" height="3.5" fill="#c9c91c"/>
<rect x="471.9" y="928" width="6.1" height="3.5" fill="#c9c91c"/>
<rect x="493" y="928" width="6.8" height="3.5" fill="#c9c91c"/>
<rect x="543.5" y="928" width="2.8" height="3.5" fill="#c9c91c"/>
<rect x="549.2" y="928" width="1.5" height="3.5" fill="#c9c91c"/>
<rect x="563.7" y="928" width="1.7" height="3.5" fill="#c9c91c"/>
<rect x="568.8" y="928" width="1.3" height="3.5" fill="#c9c91c"/>
<text x="83.4" y="938.7" font-size="4.3" text-anchor="middle" fill="#4a4a4a">MITE</text>
<text x="96.7" y="938.7" font-size="4.3" text-anchor="middle" fill="#4a4a4a">MITE</text>
<text x="110.5" y="938.7" font-size="4.3" text-anchor="middle" fill="#4a4a4a">MITE</text>
<text x="148.8" y="938.7" font-size="4.3" text-anchor="middle" fill="#4a4a4a">MITE</text>
<text x="169.6" y="938.7" font-size="4.3" text-anchor="middle" fill="#4a4a4a">MITE</text>
<text x="221.7" y="938.7" font-size="4.3" text-anchor="middle" fill="#4a4a4a">MITE</text>
<text x="273.4" y="938.7" font-size="4.3" text-anchor="middle" fill="#4a4a4a">MITE</text>
<text x="305.6" y="938.7" font-size="4.3" text-anchor="middle" fill="#4a4a4a">MITE</text>
<text x="454.5" y="938.7" font-size="4.3" text-anchor="middle" fill="#4a4a4a">MITE</text>
<text x="472.2" y="938.7" font-size="4.3" text-anchor="middle" fill="#4a4a4a">MITE</text>
<text x="495.7" y="938.7" font-size="4.3" text-anchor="middle" fill="#4a4a4a">MITE</text>
<text x="544.3" y="938.7" font-size="4.3" text-anchor="middle" fill="#4a4a4a">MITE</text>
<text x="564.2" y="938.7" font-size="4.3" text-anchor="middle" fill="#4a4a4a">MITE</text>
<rect x="247.4" y="942.4" width="49" height="3.2" fill="#000"/>
<text x="271.5" y="953" font-size="4" text-anchor="middle" fill="#4a4a4a">MM132</text>
<rect x="265.4" y="868.2" width="22.1" height="72" fill="none" stroke="#e52222" stroke-width="1.5" rx="3.5"/>
<rect x="458.1" y="895.8" width="22.2" height="50.1" fill="none" stroke="#22396c" stroke-width="1.5" rx="3.5"/>
<rect x="59.4" y="962.1" width="17.1" height="1.6" fill="#3a3ac8"/>
<line x1="59.7" y1="967.5" x2="76.5" y2="967.5" stroke="#7a7ad8" stroke-width="0.7"/>
<rect x="67.5" y="966.3" width="1" height="2.4" fill="#2b2bbf"/>
<rect x="70" y="966.3" width="1.5" height="2.4" fill="#2b2bbf"/>
<rect x="72.3" y="966.3" width="1.5" height="2.4" fill="#2b2bbf"/>
<rect x="74.5" y="966.3" width="2" height="2.4" fill="#2b2bbf"/>
<rect x="210.7" y="962.2" width="45.1" height="1.8" fill="#3a3ac8"/>
<line x1="210.7" y1="967.3" x2="255.3" y2="967.3" stroke="#7a7ad8" stroke-width="0.7"/>
<rect x="210.7" y="965.9" width="5.3" height="2.8" fill="#2b2bbf"/>
<rect x="218.8" y="965.9" width="1.1" height="2.8" fill="#2b2bbf"/>
<rect x="223.8" y="965.9" width="1.2" height="2.8" fill="#2b2bbf"/>
<rect x="226" y="965.9" width="0.9" height="2.8" fill="#2b2bbf"/>
<rect x="228" y="965.9" width="3.1" height="2.8" fill="#2b2bbf"/>
<rect x="232.6" y="965.9" width="1.1" height="2.8" fill="#2b2bbf"/>
<rect x="243.7" y="965.9" width="1.1" height="2.8" fill="#2b2bbf"/>
<rect x="246" y="965.9" width="1" height="2.8" fill="#2b2bbf"/>
<rect x="252.3" y="965.9" width="3" height="2.8" fill="#2b2bbf"/>
<line x1="210.7" y1="971.6" x2="255.3" y2="971.6" stroke="#7a7ad8" stroke-width="0.7"/>
<rect x="210.7" y="970.2" width="5.3" height="2.8" fill="#2b2bbf"/>
<rect x="218.8" y="970.2" width="1.1" height="2.8" fill="#2b2bbf"/>
<rect x="223.8" y="970.2" width="3.1" height="2.8" fill="#2b2bbf"/>
<rect x="228" y="970.2" width="3.1" height="2.8" fill="#2b2bbf"/>
<rect x="232.6" y="970.2" width="1.1" height="2.8" fill="#2b2bbf"/>
<rect x="243.7" y="970.2" width="1.1" height="2.8" fill="#2b2bbf"/>
<rect x="246" y="970.2" width="1" height="2.8" fill="#2b2bbf"/>
<rect x="252.3" y="970.2" width="3" height="2.8" fill="#2b2bbf"/>
<line x1="210.7" y1="976" x2="248.8" y2="976" stroke="#7a7ad8" stroke-width="0.7"/>
<rect x="210.7" y="974.6" width="5.3" height="2.8" fill="#2b2bbf"/>
<rect x="218.8" y="974.6" width="1.1" height="2.8" fill="#2b2bbf"/>
<rect x="223.8" y="974.6" width="1.2" height="2.8" fill="#2b2bbf"/>
<rect x="226" y="974.6" width="0.9" height="2.8" fill="#2b2bbf"/>
<rect x="228" y="974.6" width="3.1" height="2.8" fill="#2b2bbf"/>
<rect x="232.6" y="974.6" width="1.1" height="2.8" fill="#2b2bbf"/>
<rect x="243.7" y="974.6" width="1.1" height="2.8" fill="#2b2bbf"/>
<rect x="246.2" y="974.6" width="2.6" height="2.8" fill="#2b2bbf"/>
<line x1="210.7" y1="980.4" x2="248.8" y2="980.4" stroke="#7a7ad8" stroke-width="0.7"/>
<rect x="210.7" y="979" width="5.3" height="2.8" fill="#2b2bbf"/>
<rect x="218.8" y="979" width="1.1" height="2.8" fill="#2b2bbf"/>
<rect x="223.8" y="979" width="3.1" height="2.8" fill="#2b2bbf"/>
<rect x="228" y="979" width="3.1" height="2.8" fill="#2b2bbf"/>
<rect x="232.6" y="979" width="1.1" height="2.8" fill="#2b2bbf"/>
<rect x="243.7" y="979" width="1.1" height="2.8" fill="#2b2bbf"/>
<rect x="246.2" y="979" width="2.6" height="2.8" fill="#2b2bbf"/>
<rect x="504" y="961.8" width="13.9" height="2.5" fill="#2b2bbf"/>
<line x1="517.9" y1="963" x2="541.6" y2="963" stroke="#9a9ae0" stroke-width="1.2"/>
<rect x="541.6" y="961.8" width="3.4" height="2.5" fill="#2b2bbf"/>
<rect x="504" y="966.5" width="41.4" height="1.2" fill="#3434c4"/>
<rect x="507.4" y="970.4" width="13.3" height="2.2" fill="#2b2bbf"/>
<rect x="59.5" y="726.6" width="0.9" height="2.2" fill="#9ab0ee"/>
<rect x="59.5" y="741.02" width="0.9" height="2.2" fill="#9ab0ee"/>
<rect x="59.5" y="755.44" width="0.9" height="2.2" fill="#9ab0ee"/>
<rect x="59.5" y="769.86" width="0.9" height="2.2" fill="#9ab0ee"/>
<rect x="59.5" y="784.28" width="0.9" height="2.2" fill="#9ab0ee"/>
<rect x="59.5" y="798.7" width="0.9" height="2.2" fill="#9ab0ee"/>
<rect x="59.5" y="813.12" width="0.9" height="2.2" fill="#9ab0ee"/>
<rect x="59.5" y="827.54" width="0.9" height="2.2" fill="#9ab0ee"/>
<rect x="59.5" y="841.96" width="0.9" height="2.2" fill="#9ab0ee"/>
<rect x="59.5" y="856.38" width="0.9" height="2.2" fill="#9ab0ee"/>
<rect x="59.5" y="870.8" width="0.9" height="2.2" fill="#9ab0ee"/>
<rect x="59.5" y="885.22" width="0.9" height="2.2" fill="#9ab0ee"/>
<rect x="59.5" y="899.64" width="0.9" height="2.2" fill="#9ab0ee"/>
<rect x="59.5" y="914.06" width="0.9" height="2.2" fill="#9ab0ee"/>
</svg></body></html>
